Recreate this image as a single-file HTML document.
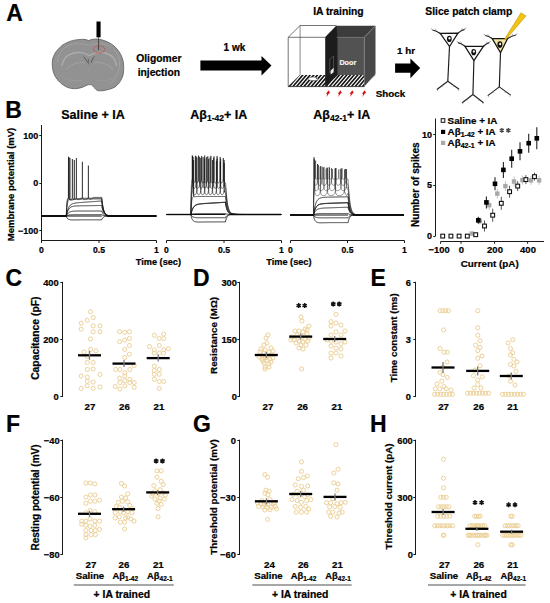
<!DOCTYPE html>
<html><head><meta charset="utf-8"><style>
html,body{margin:0;padding:0;background:#fff;}
svg{display:block;}
text{font-family:"Liberation Sans", sans-serif;}
</style></head><body>
<svg width="550" height="603" viewBox="0 0 550 603">
<rect width="550" height="603" fill="#fff"/>
<text x="6.20" y="21.30" font-size="23" font-weight="bold" text-anchor="start" fill="#000" stroke="#000" stroke-width="0.22">A</text>
<text x="5.20" y="118.20" font-size="23" font-weight="bold" text-anchor="start" fill="#000" stroke="#000" stroke-width="0.22">B</text>
<text x="5.60" y="286.00" font-size="23" font-weight="bold" text-anchor="start" fill="#000" stroke="#000" stroke-width="0.22">C</text>
<text x="193.00" y="286.00" font-size="23" font-weight="bold" text-anchor="start" fill="#000" stroke="#000" stroke-width="0.22">D</text>
<text x="370.40" y="286.00" font-size="23" font-weight="bold" text-anchor="start" fill="#000" stroke="#000" stroke-width="0.22">E</text>
<text x="5.90" y="431.70" font-size="23" font-weight="bold" text-anchor="start" fill="#000" stroke="#000" stroke-width="0.22">F</text>
<text x="193.00" y="431.70" font-size="23" font-weight="bold" text-anchor="start" fill="#000" stroke="#000" stroke-width="0.22">G</text>
<text x="370.10" y="431.70" font-size="23" font-weight="bold" text-anchor="start" fill="#000" stroke="#000" stroke-width="0.22">H</text>
<path d="M88.7,40.6 C86,39.4 84,39.2 81.5,39.4 C76,39.6 71,40.6 66.9,42.7 C63.5,44.2 61.3,45.8 59.6,47.8 C57,50.3 55.5,52.3 54.5,54.4 C52.8,57.5 52.3,60 52.3,63.1 C52.3,67 52.6,70 53.8,73.3 C55.3,77 57.3,79.8 59.6,82 C62,84.3 64.2,85.8 66.9,87.1 C70,88.5 73.5,88.9 77.1,88.5 C80,88.2 82.4,87.3 84.4,86.4 C86.5,85.5 88.4,84.3 90.2,84.3 C92,84.5 93,86.6 94.5,87.8 C95.7,89.2 96.8,90.6 98.2,90.7 C101,91 103.5,90.8 106.2,90 C109.5,89.3 112.4,88.5 114.9,87.1 C117.4,85.3 119.3,83 120.7,80.5 C122.6,77.4 123.5,74 123.6,70.4 C123.8,66.8 123.7,63.4 122.9,60.2 C121.8,56.2 120.2,53 117.8,50 C115.3,46.8 112.4,44.4 109.1,42.7 C105,40.6 100.5,39.1 96,39.1 C93.2,39.2 90.7,39.6 88.7,40.6 Z" fill="#929292" stroke="#666" stroke-width="0.9"/>
<path d="M57.5,62 C57.5,54 63,47.5 70,45 C76,43 83,43.5 88.5,45.5 C94,43.5 101,43 108,45 C115,48 119.5,55 119.5,63 C119.5,72 116,80 109,84" fill="none" stroke="#a3a3a3" stroke-width="0.9" opacity="0.9"/>
<path d="M62,66 C63,58 69,53.5 77,52.5 C82,52 86,53.5 89.2,55.8 C92.5,53.5 97,52 102,52.5 C110,53.5 115.5,58 116.5,66" fill="none" stroke="#b0b0b0" stroke-width="1.4" opacity="0.85"/>
<path d="M66,70 C70,64 78,61.5 85,63 M113,70 C109,64 101,61.5 94,63" fill="none" stroke="#a5a5a5" stroke-width="1.0" opacity="0.8"/>
<path d="M60,75 C66,80 74,82 82,80 M118,75 C112,80 104,82 97,80" fill="none" stroke="#9d9d9d" stroke-width="0.9" opacity="0.8"/>
<path d="M83.5,56.5 C85,58 86.5,60 87.5,62.5 M94.5,56.5 C93,58 92,60 91.2,62.5" fill="none" stroke="#4e4e4e" stroke-width="0.9"/>
<path d="M88.6,59 L88.6,64.5" fill="none" stroke="#5a5a5a" stroke-width="0.8"/>
<path d="M89.3,60 L89.3,86" fill="none" stroke="#9a9a9a" stroke-width="0.7" opacity="0.7"/>
<rect x="96.50" y="21.50" width="4.10" height="15.80" fill="#000" stroke="none" stroke-width="1"/>
<line x1="98.60" y1="37.00" x2="98.60" y2="50.20" stroke="#222" stroke-width="0.7"/>
<ellipse cx="99.3" cy="49.4" rx="5.6" ry="3.5" fill="none" stroke="#d83c3c" stroke-width="0.9" stroke-dasharray="1.3 0.6"/>
<text x="158.80" y="61.90" font-size="10.3" font-weight="bold" text-anchor="middle" fill="#000" stroke="#000" stroke-width="0.22">Oligomer</text>
<text x="158.80" y="75.50" font-size="10.3" font-weight="bold" text-anchor="middle" fill="#000" stroke="#000" stroke-width="0.22">injection</text>
<text x="234.40" y="50.80" font-size="10" font-weight="bold" text-anchor="middle" fill="#000" stroke="#000" stroke-width="0.22">1 wk</text>
<polygon points="200.40,60.50 261.50,60.50 261.50,55.90 271.50,65.60 261.50,75.50 261.50,70.50 200.40,70.50" fill="#000" stroke="none" stroke-width="1"/>
<text x="338.40" y="14.80" font-size="10.3" font-weight="bold" text-anchor="middle" fill="#000" stroke="#000" stroke-width="0.22">IA training</text>
<polygon points="288.77,86.04 300.10,74.90 300.21,74.90 290.39,86.60 288.30,86.60" fill="#111" stroke="none" stroke-width="1"/>
<polygon points="301.78,74.90 303.87,74.90 294.05,86.60 291.96,86.60" fill="#111" stroke="none" stroke-width="1"/>
<polygon points="305.44,74.90 307.53,74.90 297.71,86.60 295.62,86.60" fill="#111" stroke="none" stroke-width="1"/>
<polygon points="309.10,74.90 311.19,74.90 301.37,86.60 299.28,86.60" fill="#111" stroke="none" stroke-width="1"/>
<polygon points="312.76,74.90 314.85,74.90 305.03,86.60 302.94,86.60" fill="#111" stroke="none" stroke-width="1"/>
<polygon points="316.42,74.90 318.51,74.90 308.69,86.60 306.60,86.60" fill="#111" stroke="none" stroke-width="1"/>
<polygon points="320.08,74.90 322.17,74.90 312.35,86.60 310.26,86.60" fill="#111" stroke="none" stroke-width="1"/>
<polygon points="323.74,74.90 325.83,74.90 316.01,86.60 313.92,86.60" fill="#111" stroke="none" stroke-width="1"/>
<polygon points="327.40,74.90 329.49,74.90 319.67,86.60 317.58,86.60" fill="#111" stroke="none" stroke-width="1"/>
<polygon points="331.06,74.90 333.15,74.90 323.33,86.60 321.24,86.60" fill="#111" stroke="none" stroke-width="1"/>
<polygon points="334.72,74.90 336.81,74.90 326.99,86.60 324.90,86.60" fill="#111" stroke="none" stroke-width="1"/>
<polygon points="338.38,74.90 340.47,74.90 330.65,86.60 328.56,86.60" fill="#111" stroke="none" stroke-width="1"/>
<polygon points="342.04,74.90 344.13,74.90 334.31,86.60 332.22,86.60" fill="#111" stroke="none" stroke-width="1"/>
<polygon points="345.70,74.90 347.79,74.90 337.97,86.60 335.88,86.60" fill="#111" stroke="none" stroke-width="1"/>
<polygon points="349.36,74.90 351.45,74.90 341.63,86.60 339.54,86.60" fill="#111" stroke="none" stroke-width="1"/>
<polygon points="353.02,74.90 355.11,74.90 345.29,86.60 343.20,86.60" fill="#111" stroke="none" stroke-width="1"/>
<polygon points="356.68,74.90 358.77,74.90 348.95,86.60 346.86,86.60" fill="#111" stroke="none" stroke-width="1"/>
<polygon points="360.34,74.90 362.43,74.90 352.61,86.60 350.52,86.60" fill="#111" stroke="none" stroke-width="1"/>
<polygon points="364.00,74.90 366.09,74.90 356.27,86.60 354.18,86.60" fill="#111" stroke="none" stroke-width="1"/>
<polygon points="367.66,74.90 369.75,74.90 359.93,86.60 357.84,86.60" fill="#111" stroke="none" stroke-width="1"/>
<polygon points="371.32,74.90 373.41,74.90 363.59,86.60 361.50,86.60" fill="#111" stroke="none" stroke-width="1"/>
<polygon points="370.63,80.08 374.98,74.90 375.50,74.90" fill="#111" stroke="none" stroke-width="1"/>
<polygon points="325.20,37.30 336.40,25.80 375.50,25.80 364.30,37.30" fill="#3c3c3c" stroke="none" stroke-width="1"/>
<polygon points="336.40,37.30 364.30,37.30 364.30,74.90 336.40,74.90" fill="#525252" stroke="none" stroke-width="1"/>
<polygon points="364.30,37.30 375.50,25.80 375.50,74.00 364.30,86.60" fill="#484848" stroke="none" stroke-width="1"/>
<polygon points="325.20,37.30 336.40,25.80 337.50,37.30 337.50,75.50 325.20,86.60" fill="#1c1c1c" stroke="none" stroke-width="1"/>
<path d="M329.8,73.5 L329.8,59.2 L333.6,56.0 L333.6,70.5" fill="none" stroke="#6a6a6a" stroke-width="0.6"/>
<polygon points="330.60,74.50 330.60,70.80 333.60,67.80 333.60,72.20" fill="#f0f0f0" stroke="none" stroke-width="1"/>
<line x1="364.30" y1="37.30" x2="364.30" y2="86.60" stroke="#8a8a8a" stroke-width="0.7"/>
<line x1="364.30" y1="37.30" x2="375.50" y2="25.80" stroke="#8a8a8a" stroke-width="0.7"/>
<line x1="336.40" y1="37.30" x2="364.30" y2="37.30" stroke="#6c6c6c" stroke-width="0.6"/>
<polyline points="288.20,86.60 288.20,37.30 325.20,37.30" fill="none" stroke="#3a3a3a" stroke-width="0.7"/>
<polyline points="288.20,37.30 300.10,25.50 336.40,25.50" fill="none" stroke="#3a3a3a" stroke-width="0.7"/>
<line x1="300.10" y1="25.50" x2="300.10" y2="74.90" stroke="#3a3a3a" stroke-width="0.6"/>
<line x1="288.20" y1="86.60" x2="300.10" y2="74.90" stroke="#3a3a3a" stroke-width="0.6"/>
<line x1="288.20" y1="86.60" x2="364.50" y2="86.60" stroke="#222" stroke-width="0.8"/>
<ellipse cx="313.2" cy="78.8" rx="5.0" ry="1.9" fill="#fff" stroke="#333" stroke-width="0.5"/>
<circle cx="316.80" cy="78.40" r="0.60" fill="#222" stroke="none" stroke-width="1"/>
<text x="347.80" y="64.90" font-size="7.2" font-weight="bold" text-anchor="middle" fill="#f4f4f4" stroke="#f4f4f4" stroke-width="0.22">Door</text>
<polygon points="328.60,90.20 330.10,93.10 328.90,93.60 326.40,96.90 327.10,94.10 326.00,93.70" fill="#d81818" stroke="none" stroke-width="1"/>
<polygon points="340.40,90.20 341.90,93.10 340.70,93.60 338.20,96.90 338.90,94.10 337.80,93.70" fill="#d81818" stroke="none" stroke-width="1"/>
<polygon points="352.30,90.20 353.80,93.10 352.60,93.60 350.10,96.90 350.80,94.10 349.70,93.70" fill="#d81818" stroke="none" stroke-width="1"/>
<polygon points="364.60,90.20 366.10,93.10 364.90,93.60 362.40,96.90 363.10,94.10 362.00,93.70" fill="#d81818" stroke="none" stroke-width="1"/>
<text x="390.50" y="96.70" font-size="9.8" font-weight="bold" text-anchor="middle" fill="#000" stroke="#000" stroke-width="0.22">Shock</text>
<text x="406.00" y="53.60" font-size="9.8" font-weight="bold" text-anchor="middle" fill="#000" stroke="#000" stroke-width="0.22">1 hr</text>
<polygon points="395.10,63.50 410.40,63.50 410.40,58.50 420.20,68.10 410.40,78.20 410.40,72.70 395.10,72.70" fill="#000" stroke="none" stroke-width="1"/>
<text x="468.80" y="14.50" font-size="10.3" font-weight="bold" text-anchor="middle" fill="#000" stroke="#000" stroke-width="0.22">Slice patch clamp</text>
<path d="M440.20,33.40 Q436.35,30.70 432.50,30.00" fill="none" stroke="#262626" stroke-width="1.2"/>
<polyline points="435.96,30.93 435.56,28.73" fill="none" stroke="#6a6a6a" stroke-width="0.5"/>
<polyline points="432.50,30.00 431.30,28.40" fill="none" stroke="#555" stroke-width="0.6"/>
<path d="M458.00,33.10 Q461.30,30.20 464.60,29.30" fill="none" stroke="#262626" stroke-width="1.2"/>
<polyline points="461.63,30.41 462.03,28.21" fill="none" stroke="#6a6a6a" stroke-width="0.5"/>
<polyline points="464.60,29.30 465.80,27.70" fill="none" stroke="#555" stroke-width="0.6"/>
<polyline points="449.50,46.50 447.80,81.20" fill="none" stroke="#1a1a1a" stroke-width="1.15"/>
<polyline points="447.80,81.20 436.90,89.50" fill="none" stroke="#222" stroke-width="1.15"/>
<polyline points="442.35,85.35 441.95,87.35" fill="none" stroke="#a07070" stroke-width="0.6"/>
<polyline points="436.90,89.50 437.90,91.00" fill="none" stroke="#a07070" stroke-width="0.6"/>
<polyline points="447.80,81.20 459.10,89.20" fill="none" stroke="#222" stroke-width="1.15"/>
<polyline points="453.45,85.20 453.85,87.20" fill="none" stroke="#a07070" stroke-width="0.6"/>
<polyline points="459.10,89.20 458.10,90.70" fill="none" stroke="#a07070" stroke-width="0.6"/>
<polygon points="440.20,33.40 458.00,33.10 449.50,46.50" fill="#fbfbfb" stroke="#141414" stroke-width="1.25"/>
<ellipse cx="449.30" cy="38.90" rx="2.4" ry="3.1" fill="#111"/>
<ellipse cx="449.50" cy="38.20" rx="1.0" ry="1.2" fill="#fff"/>
<path d="M465.00,46.30 Q461.50,43.45 458.00,42.60" fill="none" stroke="#262626" stroke-width="1.2"/>
<polyline points="461.15,43.66 460.75,41.46" fill="none" stroke="#6a6a6a" stroke-width="0.5"/>
<polyline points="458.00,42.60 456.80,41.00" fill="none" stroke="#555" stroke-width="0.6"/>
<path d="M483.40,46.30 Q486.35,43.45 489.30,42.60" fill="none" stroke="#262626" stroke-width="1.2"/>
<polyline points="486.64,43.66 487.04,41.46" fill="none" stroke="#6a6a6a" stroke-width="0.5"/>
<polyline points="489.30,42.60 490.50,41.00" fill="none" stroke="#555" stroke-width="0.6"/>
<polyline points="473.90,60.50 472.90,94.50" fill="none" stroke="#1a1a1a" stroke-width="1.15"/>
<polyline points="472.90,94.50 462.20,102.70" fill="none" stroke="#222" stroke-width="1.15"/>
<polyline points="467.55,98.60 467.15,100.60" fill="none" stroke="#a07070" stroke-width="0.6"/>
<polyline points="462.20,102.70 463.20,104.20" fill="none" stroke="#a07070" stroke-width="0.6"/>
<polyline points="472.90,94.50 483.50,102.70" fill="none" stroke="#222" stroke-width="1.15"/>
<polyline points="478.20,98.60 478.60,100.60" fill="none" stroke="#a07070" stroke-width="0.6"/>
<polyline points="483.50,102.70 482.50,104.20" fill="none" stroke="#a07070" stroke-width="0.6"/>
<polygon points="465.00,46.30 483.40,46.30 473.90,60.50" fill="#fbfbfb" stroke="#141414" stroke-width="1.25"/>
<ellipse cx="473.70" cy="52.20" rx="2.4" ry="3.1" fill="#111"/>
<ellipse cx="473.90" cy="51.50" rx="1.0" ry="1.2" fill="#fff"/>
<path d="M492.20,38.60 Q488.65,36.05 485.10,35.50" fill="none" stroke="#262626" stroke-width="1.2"/>
<polyline points="488.30,36.30 487.90,34.09" fill="none" stroke="#6a6a6a" stroke-width="0.5"/>
<polyline points="485.10,35.50 483.90,33.90" fill="none" stroke="#555" stroke-width="0.6"/>
<path d="M507.60,38.60 Q511.75,35.80 515.90,35.00" fill="none" stroke="#262626" stroke-width="1.2"/>
<polyline points="512.16,36.02 512.56,33.82" fill="none" stroke="#6a6a6a" stroke-width="0.5"/>
<polyline points="515.90,35.00 517.10,33.40" fill="none" stroke="#555" stroke-width="0.6"/>
<polyline points="500.50,52.80 499.30,86.90" fill="none" stroke="#1a1a1a" stroke-width="1.15"/>
<polyline points="499.30,86.90 487.80,95.60" fill="none" stroke="#222" stroke-width="1.15"/>
<polyline points="493.55,91.25 493.15,93.25" fill="none" stroke="#a07070" stroke-width="0.6"/>
<polyline points="487.80,95.60 488.80,97.10" fill="none" stroke="#a07070" stroke-width="0.6"/>
<polyline points="499.30,86.90 510.70,95.10" fill="none" stroke="#222" stroke-width="1.15"/>
<polyline points="505.00,91.00 505.40,93.00" fill="none" stroke="#a07070" stroke-width="0.6"/>
<polyline points="510.70,95.10 509.70,96.60" fill="none" stroke="#a07070" stroke-width="0.6"/>
<polygon points="492.20,38.60 507.60,38.60 500.50,52.80" fill="#f3e3a0" stroke="#141414" stroke-width="1.25"/>
<ellipse cx="499.90" cy="44.60" rx="2.5" ry="3.3" fill="#111"/>
<ellipse cx="500.10" cy="43.90" rx="1.0" ry="1.2" fill="#fff"/>
<polygon points="504.40,39.30 521.00,12.80 526.00,15.90 505.80,39.70" fill="#f2c312" stroke="#b08800" stroke-width="0.5"/>
<text x="61.20" y="118.90" font-size="12.5" font-weight="bold" text-anchor="start" fill="#000" stroke="#000" stroke-width="0.22">Saline + IA</text>
<text x="190.30" y="118.90" font-size="12.5" font-weight="bold" text-anchor="start" fill="#000" stroke="#000" stroke-width="0.22">Aβ<tspan font-size="8.5" dy="2.2">1-42</tspan><tspan dy="-2.2">+ IA</tspan></text>
<text x="313.30" y="118.90" font-size="12.5" font-weight="bold" text-anchor="start" fill="#000" stroke="#000" stroke-width="0.22">Aβ<tspan font-size="8.5" dy="2.2">42-1</tspan><tspan dy="-2.2">+ IA</tspan></text>
<line x1="41.50" y1="125.00" x2="41.50" y2="242.50" stroke="#1a1a1a" stroke-width="1.0"/>
<line x1="39.30" y1="135.50" x2="41.50" y2="135.50" stroke="#1a1a1a" stroke-width="1.0"/>
<text x="38.20" y="138.50" font-size="9" font-weight="bold" text-anchor="end" fill="#000" stroke="#000" stroke-width="0.22">100</text>
<line x1="39.30" y1="183.50" x2="41.50" y2="183.50" stroke="#1a1a1a" stroke-width="1.0"/>
<text x="38.20" y="186.30" font-size="9" font-weight="bold" text-anchor="end" fill="#000" stroke="#000" stroke-width="0.22">0</text>
<line x1="39.30" y1="230.50" x2="41.50" y2="230.50" stroke="#1a1a1a" stroke-width="1.0"/>
<text x="38.20" y="234.10" font-size="9" font-weight="bold" text-anchor="end" fill="#000" stroke="#000" stroke-width="0.22">−100</text>
<text x="14.40" y="184.50" font-size="9.5" font-weight="bold" text-anchor="middle" fill="#000" stroke="#000" stroke-width="0.22" transform="rotate(-90 14.4 184.5)">Membrane potential (mV)</text>
<line x1="41.50" y1="240.50" x2="156.50" y2="240.50" stroke="#1a1a1a" stroke-width="1.0"/>
<line x1="41.50" y1="240.50" x2="41.50" y2="243.00" stroke="#1a1a1a" stroke-width="1.0"/>
<text x="41.50" y="252.50" font-size="8.6" font-weight="bold" text-anchor="middle" fill="#000" stroke="#000" stroke-width="0.22">0</text>
<line x1="99.00" y1="240.50" x2="99.00" y2="243.00" stroke="#1a1a1a" stroke-width="1.0"/>
<text x="99.00" y="252.50" font-size="8.6" font-weight="bold" text-anchor="middle" fill="#000" stroke="#000" stroke-width="0.22">0.5</text>
<line x1="156.50" y1="240.50" x2="156.50" y2="243.00" stroke="#1a1a1a" stroke-width="1.0"/>
<text x="156.50" y="252.50" font-size="8.6" font-weight="bold" text-anchor="middle" fill="#000" stroke="#000" stroke-width="0.22">1</text>
<line x1="166.50" y1="240.50" x2="281.50" y2="240.50" stroke="#1a1a1a" stroke-width="1.0"/>
<line x1="166.50" y1="240.50" x2="166.50" y2="243.00" stroke="#1a1a1a" stroke-width="1.0"/>
<text x="166.50" y="252.50" font-size="8.6" font-weight="bold" text-anchor="middle" fill="#000" stroke="#000" stroke-width="0.22">0</text>
<line x1="224.00" y1="240.50" x2="224.00" y2="243.00" stroke="#1a1a1a" stroke-width="1.0"/>
<text x="224.00" y="252.50" font-size="8.6" font-weight="bold" text-anchor="middle" fill="#000" stroke="#000" stroke-width="0.22">0.5</text>
<line x1="281.50" y1="240.50" x2="281.50" y2="243.00" stroke="#1a1a1a" stroke-width="1.0"/>
<text x="281.50" y="252.50" font-size="8.6" font-weight="bold" text-anchor="middle" fill="#000" stroke="#000" stroke-width="0.22">1</text>
<line x1="290.50" y1="240.50" x2="404.50" y2="240.50" stroke="#1a1a1a" stroke-width="1.0"/>
<line x1="290.50" y1="240.50" x2="290.50" y2="243.00" stroke="#1a1a1a" stroke-width="1.0"/>
<text x="290.50" y="252.50" font-size="8.6" font-weight="bold" text-anchor="middle" fill="#000" stroke="#000" stroke-width="0.22">0</text>
<line x1="347.50" y1="240.50" x2="347.50" y2="243.00" stroke="#1a1a1a" stroke-width="1.0"/>
<text x="347.50" y="252.50" font-size="8.6" font-weight="bold" text-anchor="middle" fill="#000" stroke="#000" stroke-width="0.22">0.5</text>
<line x1="404.50" y1="240.50" x2="404.50" y2="243.00" stroke="#1a1a1a" stroke-width="1.0"/>
<text x="404.50" y="252.50" font-size="8.6" font-weight="bold" text-anchor="middle" fill="#000" stroke="#000" stroke-width="0.22">1</text>
<text x="158.40" y="265.30" font-size="9.2" font-weight="bold" text-anchor="middle" fill="#000" stroke="#000" stroke-width="0.22">Time (sec)</text>
<text x="288.90" y="265.30" font-size="9.2" font-weight="bold" text-anchor="middle" fill="#000" stroke="#000" stroke-width="0.22">Time (sec)</text>
<polyline points="41.30,216.00 66.30,216.00 66.50,216.65 66.70,217.18 66.90,217.61 67.10,217.96 67.30,218.25 67.50,218.49 67.70,218.70 67.90,218.87 68.10,219.02 68.30,219.15 68.50,219.26 68.70,219.35 68.90,219.43 69.10,219.50 69.30,219.56 69.50,219.62 69.70,219.66 69.90,219.70 70.10,219.74 70.30,219.77 70.50,219.79 70.70,219.82 70.90,219.83 71.10,219.85 71.30,219.87 71.50,219.88 71.70,219.89 71.90,219.90 72.10,219.90 72.30,219.91 72.50,219.91 72.70,219.92 72.90,219.92 73.10,219.92 73.30,219.92 73.50,219.92 73.70,219.92 73.90,219.92 74.10,219.92 74.30,219.92 74.50,219.91 74.70,219.91 74.90,219.91 75.10,219.91 75.30,219.91 75.50,219.90 75.70,219.90 75.90,219.90 76.10,219.89 76.30,219.89 76.50,219.89 76.70,219.89 76.90,219.88 77.10,219.88 77.30,219.88 77.50,219.87 77.70,219.87 77.90,219.87 78.10,219.87 78.30,219.86 78.50,219.86 78.70,219.86 78.90,219.86 79.10,219.85 79.30,219.85 79.50,219.85 79.70,219.85 79.90,219.85 80.10,219.84 80.30,219.84 80.50,219.84 80.70,219.84 80.90,219.84 81.10,219.84 81.30,219.83 81.50,219.83 81.70,219.83 81.90,219.83 82.10,219.83 82.30,219.83 82.50,219.83 82.70,219.82 82.90,219.82 83.10,219.82 83.30,219.82 83.50,219.82 83.70,219.82 83.90,219.82 84.10,219.82 84.30,219.82 84.50,219.82 84.70,219.82 84.90,219.81 85.10,219.81 85.30,219.81 85.50,219.81 85.70,219.81 85.90,219.81 86.10,219.81 86.30,219.81 86.50,219.81 86.70,219.81 86.90,219.81 87.10,219.81 87.30,219.81 87.50,219.81 87.70,219.81 87.90,219.81 88.10,219.81 88.30,219.81 88.50,219.81 88.70,219.81 88.90,219.81 89.10,219.81 89.30,219.80 89.50,219.80 89.70,219.80 89.90,219.80 90.10,219.80 90.30,219.80 90.50,219.80 90.70,219.80 90.90,219.80 91.10,219.80 91.30,219.80 91.50,219.80 91.70,219.80 91.90,219.80 92.10,219.80 92.30,219.80 92.50,219.80 92.70,219.80 92.90,219.80 93.10,219.80 93.30,219.80 93.50,219.80 93.70,219.80 93.90,219.80 94.10,219.80 94.30,219.80 94.50,219.80 94.70,219.80 94.90,219.80 95.10,219.80 95.30,219.80 95.50,219.80 95.70,219.80 95.90,219.80 96.10,219.80 96.30,219.80 96.50,219.80 96.70,219.80 96.90,219.80 97.10,219.80 97.30,219.80 97.50,219.80 97.70,219.80 97.90,219.80 98.10,219.80 98.30,219.80 98.50,219.80 98.70,219.80 98.90,219.80 99.10,219.80 99.30,219.80 99.50,219.80 99.70,219.80 99.90,219.80 100.10,219.80 100.30,219.80 100.50,219.80 100.70,219.80 100.90,219.80 101.10,219.80 101.30,219.80 101.50,219.80 101.70,219.80 101.95,219.26 102.20,218.79 102.45,218.38 102.70,218.03 102.95,217.73 103.20,217.46 103.45,217.24 103.70,217.04 103.95,216.88 104.20,216.73 104.45,216.61 104.70,216.50 104.95,216.41 105.20,216.33 105.45,216.27 105.70,216.21 105.95,216.16 106.20,216.12 106.45,216.08 106.70,216.05 106.95,216.03 107.20,216.01 107.45,215.99 107.70,215.98 107.95,215.96 108.20,215.95 108.45,215.95 108.70,215.94 108.95,215.94 109.20,215.93 109.45,215.93 109.70,215.93 109.95,215.93 110.20,215.92 110.45,215.92 110.70,215.92 110.95,215.93 111.20,215.93 111.45,215.93 111.70,215.93 111.95,215.93 112.20,215.93 112.45,215.93 112.70,215.94 112.95,215.94 113.20,215.94 113.45,215.94 113.70,215.94 113.95,215.95 114.20,215.95 114.45,215.95 114.70,215.95 114.95,215.95 115.20,215.95 115.45,215.96 115.70,215.96 115.95,215.96 116.20,215.96 116.45,215.96 116.70,215.96 116.95,215.96 117.20,215.97 117.45,215.97 117.70,215.97 117.95,215.97 118.20,215.97 118.45,215.97 118.70,215.97 118.95,215.97 119.20,215.98 119.45,215.98 119.70,215.98 119.95,215.98 120.20,215.98 120.45,215.98 120.70,215.98 120.95,215.98 121.20,215.98 121.45,215.98 121.70,215.98 121.95,215.98 122.20,215.99 122.45,215.99 122.70,215.99 122.95,215.99 123.20,215.99 123.45,215.99 123.70,215.99 123.95,215.99 124.20,215.99 124.45,215.99 124.70,215.99 124.95,215.99 125.20,215.99 125.45,215.99 125.70,215.99 125.95,215.99 126.20,215.99 126.45,215.99 126.70,215.99 126.95,215.99 127.20,215.99 127.45,215.99 127.70,215.99 127.95,215.99 128.20,215.99 128.45,215.99 128.70,215.99 128.95,216.00 129.20,216.00 129.45,216.00 129.70,216.00 129.95,216.00 130.20,216.00 130.45,216.00 130.70,216.00 130.95,216.00 131.20,216.00 131.45,216.00 131.70,216.00 131.95,216.00 132.20,216.00 132.45,216.00 132.70,216.00 132.95,216.00 133.20,216.00 133.45,216.00 133.70,216.00 133.95,216.00 134.20,216.00 134.45,216.00 134.70,216.00 134.95,216.00 135.20,216.00 135.45,216.00 135.70,216.00 135.95,216.00 136.20,216.00 136.45,216.00 136.70,216.00 136.95,216.00 137.20,216.00 137.45,216.00 137.70,216.00 137.95,216.00 138.20,216.00 138.45,216.00 138.70,216.00 138.95,216.00 139.20,216.00 139.45,216.00 139.70,216.00 139.95,216.00 140.20,216.00 140.45,216.00 140.70,216.00 140.95,216.00 141.20,216.00 141.45,216.00 141.70,216.00 141.95,216.00 142.20,216.00 142.45,216.00 142.70,216.00 142.95,216.00 143.20,216.00 143.45,216.00 143.70,216.00 143.95,216.00 144.20,216.00 144.45,216.00 144.70,216.00 144.95,216.00 145.20,216.00 145.45,216.00 145.70,216.00 145.95,216.00 146.20,216.00 146.45,216.00 146.70,216.00 146.95,216.00 147.20,216.00 147.45,216.00 147.70,216.00 147.95,216.00 148.20,216.00 148.45,216.00 148.70,216.00 148.95,216.00 149.20,216.00 149.45,216.00 149.70,216.00 149.95,216.00 150.20,216.00 150.45,216.00 150.70,216.00 150.95,216.00 151.20,216.00 151.45,216.00 151.70,216.00 151.95,216.00 152.20,216.00 152.45,216.00 152.70,216.00 152.95,216.00 153.20,216.00 153.45,216.00 153.70,216.00 153.95,216.00 154.20,216.00 154.45,216.00 154.70,216.00 154.95,216.00 155.20,216.00 155.45,216.00 155.70,216.00 155.95,216.00 156.20,216.00 156.00,216.00" fill="none" stroke="#141414" stroke-width="0.85"/>
<polyline points="41.30,216.00 66.30,216.00 66.50,215.88 66.70,215.77 66.90,215.67 67.10,215.57 67.30,215.49 67.50,215.41 67.70,215.34 67.90,215.28 68.10,215.22 68.30,215.16 68.50,215.12 68.70,215.07 68.90,215.03 69.10,214.99 69.30,214.96 69.50,214.93 69.70,214.90 69.90,214.87 70.10,214.85 70.30,214.83 70.50,214.81 70.70,214.79 70.90,214.77 71.10,214.76 71.30,214.74 71.50,214.73 71.70,214.72 71.90,214.71 72.10,214.70 72.30,214.69 72.50,214.68 72.70,214.68 72.90,214.67 73.10,214.66 73.30,214.66 73.50,214.65 73.70,214.65 73.90,214.64 74.10,214.64 74.30,214.64 74.50,214.63 74.70,214.63 74.90,214.63 75.10,214.63 75.30,214.62 75.50,214.62 75.70,214.62 75.90,214.62 76.10,214.62 76.30,214.61 76.50,214.61 76.70,214.61 76.90,214.61 77.10,214.61 77.30,214.61 77.50,214.61 77.70,214.61 77.90,214.61 78.10,214.61 78.30,214.61 78.50,214.61 78.70,214.60 78.90,214.60 79.10,214.60 79.30,214.60 79.50,214.60 79.70,214.60 79.90,214.60 80.10,214.60 80.30,214.60 80.50,214.60 80.70,214.60 80.90,214.60 81.10,214.60 81.30,214.60 81.50,214.60 81.70,214.60 81.90,214.60 82.10,214.60 82.30,214.60 82.50,214.60 82.70,214.60 82.90,214.60 83.10,214.60 83.30,214.60 83.50,214.60 83.70,214.60 83.90,214.60 84.10,214.60 84.30,214.60 84.50,214.60 84.70,214.60 84.90,214.60 85.10,214.60 85.30,214.60 85.50,214.60 85.70,214.60 85.90,214.60 86.10,214.60 86.30,214.60 86.50,214.60 86.70,214.60 86.90,214.60 87.10,214.60 87.30,214.60 87.50,214.60 87.70,214.60 87.90,214.60 88.10,214.60 88.30,214.60 88.50,214.60 88.70,214.60 88.90,214.60 89.10,214.60 89.30,214.60 89.50,214.60 89.70,214.60 89.90,214.60 90.10,214.60 90.30,214.60 90.50,214.60 90.70,214.60 90.90,214.60 91.10,214.60 91.30,214.60 91.50,214.60 91.70,214.60 91.90,214.60 92.10,214.60 92.30,214.60 92.50,214.60 92.70,214.60 92.90,214.60 93.10,214.60 93.30,214.60 93.50,214.60 93.70,214.60 93.90,214.60 94.10,214.60 94.30,214.60 94.50,214.60 94.70,214.60 94.90,214.60 95.10,214.60 95.30,214.60 95.50,214.60 95.70,214.60 95.90,214.60 96.10,214.60 96.30,214.60 96.50,214.60 96.70,214.60 96.90,214.60 97.10,214.60 97.30,214.60 97.50,214.60 97.70,214.60 97.90,214.60 98.10,214.60 98.30,214.60 98.50,214.60 98.70,214.60 98.90,214.60 99.10,214.60 99.30,214.60 99.50,214.60 99.70,214.60 99.90,214.60 100.10,214.60 100.30,214.60 100.50,214.60 100.70,214.60 100.90,214.60 101.10,214.60 101.30,214.60 101.50,214.60 101.70,214.60 101.95,214.78 102.20,214.94 102.45,215.08 102.70,215.20 102.95,215.30 103.20,215.39 103.45,215.47 103.70,215.54 103.95,215.60 104.20,215.65 104.45,215.70 104.70,215.74 104.95,215.77 105.20,215.80 105.45,215.83 105.70,215.85 105.95,215.87 106.20,215.89 106.45,215.90 106.70,215.91 106.95,215.92 107.20,215.93 107.45,215.94 107.70,215.95 107.95,215.96 108.20,215.96 108.45,215.97 108.70,215.97 108.95,215.98 109.20,215.98 109.45,215.98 109.70,215.98 109.95,215.99 110.20,215.99 110.45,215.99 110.70,215.99 110.95,215.99 111.20,215.99 111.45,215.99 111.70,215.99 111.95,216.00 112.20,216.00 112.45,216.00 112.70,216.00 112.95,216.00 113.20,216.00 113.45,216.00 113.70,216.00 113.95,216.00 114.20,216.00 114.45,216.00 114.70,216.00 114.95,216.00 115.20,216.00 115.45,216.00 115.70,216.00 115.95,216.00 116.20,216.00 116.45,216.00 116.70,216.00 116.95,216.00 117.20,216.00 117.45,216.00 117.70,216.00 117.95,216.00 118.20,216.00 118.45,216.00 118.70,216.00 118.95,216.00 119.20,216.00 119.45,216.00 119.70,216.00 119.95,216.00 120.20,216.00 120.45,216.00 120.70,216.00 120.95,216.00 121.20,216.00 121.45,216.00 121.70,216.00 121.95,216.00 122.20,216.00 122.45,216.00 122.70,216.00 122.95,216.00 123.20,216.00 123.45,216.00 123.70,216.00 123.95,216.00 124.20,216.00 124.45,216.00 124.70,216.00 124.95,216.00 125.20,216.00 125.45,216.00 125.70,216.00 125.95,216.00 126.20,216.00 126.45,216.00 126.70,216.00 126.95,216.00 127.20,216.00 127.45,216.00 127.70,216.00 127.95,216.00 128.20,216.00 128.45,216.00 128.70,216.00 128.95,216.00 129.20,216.00 129.45,216.00 129.70,216.00 129.95,216.00 130.20,216.00 130.45,216.00 130.70,216.00 130.95,216.00 131.20,216.00 131.45,216.00 131.70,216.00 131.95,216.00 132.20,216.00 132.45,216.00 132.70,216.00 132.95,216.00 133.20,216.00 133.45,216.00 133.70,216.00 133.95,216.00 134.20,216.00 134.45,216.00 134.70,216.00 134.95,216.00 135.20,216.00 135.45,216.00 135.70,216.00 135.95,216.00 136.20,216.00 136.45,216.00 136.70,216.00 136.95,216.00 137.20,216.00 137.45,216.00 137.70,216.00 137.95,216.00 138.20,216.00 138.45,216.00 138.70,216.00 138.95,216.00 139.20,216.00 139.45,216.00 139.70,216.00 139.95,216.00 140.20,216.00 140.45,216.00 140.70,216.00 140.95,216.00 141.20,216.00 141.45,216.00 141.70,216.00 141.95,216.00 142.20,216.00 142.45,216.00 142.70,216.00 142.95,216.00 143.20,216.00 143.45,216.00 143.70,216.00 143.95,216.00 144.20,216.00 144.45,216.00 144.70,216.00 144.95,216.00 145.20,216.00 145.45,216.00 145.70,216.00 145.95,216.00 146.20,216.00 146.45,216.00 146.70,216.00 146.95,216.00 147.20,216.00 147.45,216.00 147.70,216.00 147.95,216.00 148.20,216.00 148.45,216.00 148.70,216.00 148.95,216.00 149.20,216.00 149.45,216.00 149.70,216.00 149.95,216.00 150.20,216.00 150.45,216.00 150.70,216.00 150.95,216.00 151.20,216.00 151.45,216.00 151.70,216.00 151.95,216.00 152.20,216.00 152.45,216.00 152.70,216.00 152.95,216.00 153.20,216.00 153.45,216.00 153.70,216.00 153.95,216.00 154.20,216.00 154.45,216.00 154.70,216.00 154.95,216.00 155.20,216.00 155.45,216.00 155.70,216.00 155.95,216.00 156.20,216.00 156.00,216.00" fill="none" stroke="#141414" stroke-width="0.85"/>
<polyline points="41.30,216.00 66.30,216.00 66.50,215.57 66.70,215.17 66.90,214.81 67.10,214.48 67.30,214.17 67.50,213.90 67.70,213.65 67.90,213.42 68.10,213.21 68.30,213.01 68.50,212.84 68.70,212.68 68.90,212.53 69.10,212.40 69.30,212.28 69.50,212.17 69.70,212.07 69.90,211.97 70.10,211.89 70.30,211.81 70.50,211.74 70.70,211.68 70.90,211.62 71.10,211.56 71.30,211.52 71.50,211.47 71.70,211.43 71.90,211.39 72.10,211.36 72.30,211.33 72.50,211.30 72.70,211.27 72.90,211.25 73.10,211.23 73.30,211.21 73.50,211.19 73.70,211.17 73.90,211.16 74.10,211.14 74.30,211.13 74.50,211.12 74.70,211.11 74.90,211.10 75.10,211.09 75.30,211.08 75.50,211.08 75.70,211.07 75.90,211.06 76.10,211.06 76.30,211.05 76.50,211.05 76.70,211.04 76.90,211.04 77.10,211.04 77.30,211.03 77.50,211.03 77.70,211.03 77.90,211.03 78.10,211.02 78.30,211.02 78.50,211.02 78.70,211.02 78.90,211.02 79.10,211.01 79.30,211.01 79.50,211.01 79.70,211.01 79.90,211.01 80.10,211.01 80.30,211.01 80.50,211.01 80.70,211.01 80.90,211.01 81.10,211.01 81.30,211.01 81.50,211.00 81.70,211.00 81.90,211.00 82.10,211.00 82.30,211.00 82.50,211.00 82.70,211.00 82.90,211.00 83.10,211.00 83.30,211.00 83.50,211.00 83.70,211.00 83.90,211.00 84.10,211.00 84.30,211.00 84.50,211.00 84.70,211.00 84.90,211.00 85.10,211.00 85.30,211.00 85.50,211.00 85.70,211.00 85.90,211.00 86.10,211.00 86.30,211.00 86.50,211.00 86.70,211.00 86.90,211.00 87.10,211.00 87.30,211.00 87.50,211.00 87.70,211.00 87.90,211.00 88.10,211.00 88.30,211.00 88.50,211.00 88.70,211.00 88.90,211.00 89.10,211.00 89.30,211.00 89.50,211.00 89.70,211.00 89.90,211.00 90.10,211.00 90.30,211.00 90.50,211.00 90.70,211.00 90.90,211.00 91.10,211.00 91.30,211.00 91.50,211.00 91.70,211.00 91.90,211.00 92.10,211.00 92.30,211.00 92.50,211.00 92.70,211.00 92.90,211.00 93.10,211.00 93.30,211.00 93.50,211.00 93.70,211.00 93.90,211.00 94.10,211.00 94.30,211.00 94.50,211.00 94.70,211.00 94.90,211.00 95.10,211.00 95.30,211.00 95.50,211.00 95.70,211.00 95.90,211.00 96.10,211.00 96.30,211.00 96.50,211.00 96.70,211.00 96.90,211.00 97.10,211.00 97.30,211.00 97.50,211.00 97.70,211.00 97.90,211.00 98.10,211.00 98.30,211.00 98.50,211.00 98.70,211.00 98.90,211.00 99.10,211.00 99.30,211.00 99.50,211.00 99.70,211.00 99.90,211.00 100.10,211.00 100.30,211.00 100.50,211.00 100.70,211.00 100.90,211.00 101.10,211.00 101.30,211.00 101.50,211.00 101.70,211.00 101.95,211.65 102.20,212.21 102.45,212.70 102.70,213.13 102.95,213.50 103.20,213.83 103.45,214.11 103.70,214.35 103.95,214.57 104.20,214.75 104.45,214.91 104.70,215.06 104.95,215.18 105.20,215.28 105.45,215.38 105.70,215.46 105.95,215.53 106.20,215.59 106.45,215.64 106.70,215.69 106.95,215.73 107.20,215.76 107.45,215.80 107.70,215.82 107.95,215.84 108.20,215.86 108.45,215.88 108.70,215.90 108.95,215.91 109.20,215.92 109.45,215.93 109.70,215.94 109.95,215.95 110.20,215.96 110.45,215.96 110.70,215.97 110.95,215.97 111.20,215.97 111.45,215.98 111.70,215.98 111.95,215.98 112.20,215.99 112.45,215.99 112.70,215.99 112.95,215.99 113.20,215.99 113.45,215.99 113.70,215.99 113.95,215.99 114.20,216.00 114.45,216.00 114.70,216.00 114.95,216.00 115.20,216.00 115.45,216.00 115.70,216.00 115.95,216.00 116.20,216.00 116.45,216.00 116.70,216.00 116.95,216.00 117.20,216.00 117.45,216.00 117.70,216.00 117.95,216.00 118.20,216.00 118.45,216.00 118.70,216.00 118.95,216.00 119.20,216.00 119.45,216.00 119.70,216.00 119.95,216.00 120.20,216.00 120.45,216.00 120.70,216.00 120.95,216.00 121.20,216.00 121.45,216.00 121.70,216.00 121.95,216.00 122.20,216.00 122.45,216.00 122.70,216.00 122.95,216.00 123.20,216.00 123.45,216.00 123.70,216.00 123.95,216.00 124.20,216.00 124.45,216.00 124.70,216.00 124.95,216.00 125.20,216.00 125.45,216.00 125.70,216.00 125.95,216.00 126.20,216.00 126.45,216.00 126.70,216.00 126.95,216.00 127.20,216.00 127.45,216.00 127.70,216.00 127.95,216.00 128.20,216.00 128.45,216.00 128.70,216.00 128.95,216.00 129.20,216.00 129.45,216.00 129.70,216.00 129.95,216.00 130.20,216.00 130.45,216.00 130.70,216.00 130.95,216.00 131.20,216.00 131.45,216.00 131.70,216.00 131.95,216.00 132.20,216.00 132.45,216.00 132.70,216.00 132.95,216.00 133.20,216.00 133.45,216.00 133.70,216.00 133.95,216.00 134.20,216.00 134.45,216.00 134.70,216.00 134.95,216.00 135.20,216.00 135.45,216.00 135.70,216.00 135.95,216.00 136.20,216.00 136.45,216.00 136.70,216.00 136.95,216.00 137.20,216.00 137.45,216.00 137.70,216.00 137.95,216.00 138.20,216.00 138.45,216.00 138.70,216.00 138.95,216.00 139.20,216.00 139.45,216.00 139.70,216.00 139.95,216.00 140.20,216.00 140.45,216.00 140.70,216.00 140.95,216.00 141.20,216.00 141.45,216.00 141.70,216.00 141.95,216.00 142.20,216.00 142.45,216.00 142.70,216.00 142.95,216.00 143.20,216.00 143.45,216.00 143.70,216.00 143.95,216.00 144.20,216.00 144.45,216.00 144.70,216.00 144.95,216.00 145.20,216.00 145.45,216.00 145.70,216.00 145.95,216.00 146.20,216.00 146.45,216.00 146.70,216.00 146.95,216.00 147.20,216.00 147.45,216.00 147.70,216.00 147.95,216.00 148.20,216.00 148.45,216.00 148.70,216.00 148.95,216.00 149.20,216.00 149.45,216.00 149.70,216.00 149.95,216.00 150.20,216.00 150.45,216.00 150.70,216.00 150.95,216.00 151.20,216.00 151.45,216.00 151.70,216.00 151.95,216.00 152.20,216.00 152.45,216.00 152.70,216.00 152.95,216.00 153.20,216.00 153.45,216.00 153.70,216.00 153.95,216.00 154.20,216.00 154.45,216.00 154.70,216.00 154.95,216.00 155.20,216.00 155.45,216.00 155.70,216.00 155.95,216.00 156.20,216.00 156.00,216.00" fill="none" stroke="#141414" stroke-width="0.85"/>
<polyline points="41.30,216.00 66.30,216.00 66.50,215.13 66.70,214.33 66.90,213.60 67.10,212.94 67.30,212.33 67.50,211.78 67.70,211.27 67.90,210.81 68.10,210.39 68.30,210.00 68.50,209.65 68.70,209.33 68.90,209.03 69.10,208.76 69.30,208.51 69.50,208.29 69.70,208.08 69.90,207.90 70.10,207.72 70.30,207.57 70.50,207.42 70.70,207.29 70.90,207.17 71.10,207.06 71.30,206.96 71.50,206.87 71.70,206.78 71.90,206.71 72.10,206.63 72.30,206.57 72.50,206.51 72.70,206.45 72.90,206.40 73.10,206.36 73.30,206.32 73.50,206.28 73.70,206.24 73.90,206.21 74.10,206.18 74.30,206.15 74.50,206.12 74.70,206.10 74.90,206.08 75.10,206.06 75.30,206.04 75.50,206.02 75.70,206.01 75.90,205.99 76.10,205.98 76.30,205.96 76.50,205.95 76.70,205.94 76.90,205.93 77.10,205.92 77.30,205.91 77.50,205.90 77.70,205.90 77.90,205.89 78.10,205.88 78.30,205.87 78.50,205.87 78.70,205.86 78.90,205.85 79.10,205.85 79.30,205.84 79.50,205.84 79.70,205.83 79.90,205.83 80.10,205.82 80.30,205.82 80.50,205.82 80.70,205.81 80.90,205.81 81.10,205.80 81.30,205.80 81.50,205.80 81.70,205.79 81.90,205.79 82.10,205.78 82.30,205.78 82.50,205.78 82.70,205.77 82.90,205.77 83.10,205.77 83.30,205.76 83.50,205.76 83.70,205.76 83.90,205.75 84.10,205.75 84.30,205.75 84.50,205.75 84.70,205.74 84.90,205.74 85.10,205.74 85.30,205.73 85.50,205.73 85.70,205.73 85.90,205.72 86.10,205.72 86.30,205.72 86.50,205.72 86.70,205.71 86.90,205.71 87.10,205.71 87.30,205.70 87.50,205.70 87.70,205.70 87.90,205.70 88.10,205.69 88.30,205.69 88.50,205.69 88.70,205.68 88.90,205.68 89.10,205.68 89.30,205.68 89.50,205.67 89.70,205.67 89.90,205.67 90.10,205.66 90.30,205.66 90.50,205.66 90.70,205.66 90.90,205.65 91.10,205.65 91.30,205.65 91.50,205.64 91.70,205.64 91.90,205.64 92.10,205.64 92.30,205.63 92.50,205.63 92.70,205.63 92.90,205.62 93.10,205.62 93.30,205.62 93.50,205.62 93.70,205.61 93.90,205.61 94.10,205.61 94.30,205.60 94.50,205.60 94.70,205.60 94.90,205.60 95.10,205.59 95.30,205.59 95.50,205.59 95.70,205.58 95.90,205.58 96.10,205.58 96.30,205.58 96.50,205.57 96.70,205.57 96.90,205.57 97.10,205.56 97.30,205.56 97.50,205.56 97.70,205.56 97.90,205.55 98.10,205.55 98.30,205.55 98.50,205.55 98.70,205.54 98.90,205.54 99.10,205.54 99.30,205.53 99.50,205.53 99.70,205.53 99.90,205.53 100.10,205.52 100.30,205.52 100.50,205.52 100.70,205.51 100.90,205.51 101.10,205.51 101.30,205.51 101.50,205.50 101.70,205.50 101.95,206.86 102.20,208.05 102.45,209.08 102.70,209.98 102.95,210.76 103.20,211.44 103.45,212.03 103.70,212.54 103.95,212.99 104.20,213.38 104.45,213.72 104.70,214.02 104.95,214.27 105.20,214.50 105.45,214.69 105.70,214.86 105.95,215.01 106.20,215.14 106.45,215.25 106.70,215.35 106.95,215.43 107.20,215.51 107.45,215.57 107.70,215.63 107.95,215.67 108.20,215.72 108.45,215.75 108.70,215.79 108.95,215.81 109.20,215.84 109.45,215.86 109.70,215.88 109.95,215.89 110.20,215.91 110.45,215.92 110.70,215.93 110.95,215.94 111.20,215.95 111.45,215.95 111.70,215.96 111.95,215.96 112.20,215.97 112.45,215.97 112.70,215.98 112.95,215.98 113.20,215.98 113.45,215.98 113.70,215.99 113.95,215.99 114.20,215.99 114.45,215.99 114.70,215.99 114.95,215.99 115.20,215.99 115.45,215.99 115.70,216.00 115.95,216.00 116.20,216.00 116.45,216.00 116.70,216.00 116.95,216.00 117.20,216.00 117.45,216.00 117.70,216.00 117.95,216.00 118.20,216.00 118.45,216.00 118.70,216.00 118.95,216.00 119.20,216.00 119.45,216.00 119.70,216.00 119.95,216.00 120.20,216.00 120.45,216.00 120.70,216.00 120.95,216.00 121.20,216.00 121.45,216.00 121.70,216.00 121.95,216.00 122.20,216.00 122.45,216.00 122.70,216.00 122.95,216.00 123.20,216.00 123.45,216.00 123.70,216.00 123.95,216.00 124.20,216.00 124.45,216.00 124.70,216.00 124.95,216.00 125.20,216.00 125.45,216.00 125.70,216.00 125.95,216.00 126.20,216.00 126.45,216.00 126.70,216.00 126.95,216.00 127.20,216.00 127.45,216.00 127.70,216.00 127.95,216.00 128.20,216.00 128.45,216.00 128.70,216.00 128.95,216.00 129.20,216.00 129.45,216.00 129.70,216.00 129.95,216.00 130.20,216.00 130.45,216.00 130.70,216.00 130.95,216.00 131.20,216.00 131.45,216.00 131.70,216.00 131.95,216.00 132.20,216.00 132.45,216.00 132.70,216.00 132.95,216.00 133.20,216.00 133.45,216.00 133.70,216.00 133.95,216.00 134.20,216.00 134.45,216.00 134.70,216.00 134.95,216.00 135.20,216.00 135.45,216.00 135.70,216.00 135.95,216.00 136.20,216.00 136.45,216.00 136.70,216.00 136.95,216.00 137.20,216.00 137.45,216.00 137.70,216.00 137.95,216.00 138.20,216.00 138.45,216.00 138.70,216.00 138.95,216.00 139.20,216.00 139.45,216.00 139.70,216.00 139.95,216.00 140.20,216.00 140.45,216.00 140.70,216.00 140.95,216.00 141.20,216.00 141.45,216.00 141.70,216.00 141.95,216.00 142.20,216.00 142.45,216.00 142.70,216.00 142.95,216.00 143.20,216.00 143.45,216.00 143.70,216.00 143.95,216.00 144.20,216.00 144.45,216.00 144.70,216.00 144.95,216.00 145.20,216.00 145.45,216.00 145.70,216.00 145.95,216.00 146.20,216.00 146.45,216.00 146.70,216.00 146.95,216.00 147.20,216.00 147.45,216.00 147.70,216.00 147.95,216.00 148.20,216.00 148.45,216.00 148.70,216.00 148.95,216.00 149.20,216.00 149.45,216.00 149.70,216.00 149.95,216.00 150.20,216.00 150.45,216.00 150.70,216.00 150.95,216.00 151.20,216.00 151.45,216.00 151.70,216.00 151.95,216.00 152.20,216.00 152.45,216.00 152.70,216.00 152.95,216.00 153.20,216.00 153.45,216.00 153.70,216.00 153.95,216.00 154.20,216.00 154.45,216.00 154.70,216.00 154.95,216.00 155.20,216.00 155.45,216.00 155.70,216.00 155.95,216.00 156.20,216.00 156.00,216.00" fill="none" stroke="#141414" stroke-width="0.85"/>
<polyline points="41.30,216.00 66.30,216.00 66.50,214.90 66.70,213.89 66.90,212.97 67.10,212.13 67.30,211.36 67.50,210.66 67.70,210.02 67.90,209.43 68.10,208.89 68.30,208.39 68.50,207.94 68.70,207.53 68.90,207.15 69.10,206.80 69.30,206.48 69.50,206.19 69.70,205.93 69.90,205.68 70.10,205.45 70.30,205.25 70.50,205.06 70.70,204.88 70.90,204.72 71.10,204.57 71.30,204.43 71.50,204.31 71.70,204.19 71.90,204.08 72.10,203.99 72.30,203.89 72.50,203.81 72.70,203.73 72.90,203.66 73.10,203.59 73.30,203.52 73.50,203.47 73.70,203.41 73.90,203.36 74.10,203.31 74.30,203.26 74.50,203.22 74.70,203.18 74.90,203.14 75.10,203.11 75.30,203.07 75.50,203.04 75.70,203.01 75.90,202.98 76.10,202.95 76.30,202.93 76.50,202.90 76.70,202.88 76.90,202.85 77.10,202.83 77.30,202.81 77.50,202.79 77.70,202.77 77.90,202.74 78.10,202.73 78.30,202.71 78.50,202.69 78.70,202.67 78.90,202.65 79.10,202.63 79.30,202.62 79.50,202.60 79.70,202.58 79.90,202.57 80.10,202.55 80.30,202.53 80.50,202.52 80.70,202.50 80.90,202.49 81.10,202.47 81.30,202.45 81.50,202.44 81.70,202.42 81.90,202.41 82.10,202.39 82.30,202.38 82.50,202.36 82.70,202.35 82.90,202.33 83.10,202.32 83.30,202.30 83.50,202.29 83.70,202.28 83.90,202.26 84.10,202.25 84.30,202.23 84.50,202.22 84.70,202.20 84.90,202.19 85.10,202.17 85.30,202.16 85.50,202.15 85.70,202.13 85.90,202.12 86.10,202.10 86.30,202.09 86.50,202.07 86.70,202.06 86.90,202.05 87.10,202.03 87.30,202.02 87.50,202.00 87.70,201.99 87.90,201.98 88.10,201.96 88.30,201.95 88.50,201.93 88.70,201.92 88.90,201.90 89.10,201.89 89.30,201.88 89.50,201.86 89.70,201.85 89.90,201.83 90.10,201.82 90.30,201.81 90.50,201.79 90.70,201.78 90.90,201.76 91.10,201.75 91.30,201.73 91.50,201.72 91.70,201.71 91.90,201.69 92.10,201.68 92.30,201.66 92.50,201.65 92.70,201.64 92.90,201.62 93.10,201.61 93.30,201.59 93.50,201.58 93.70,201.57 93.90,201.55 94.10,201.54 94.30,201.52 94.50,201.51 94.70,201.49 94.90,201.48 95.10,201.47 95.30,201.45 95.50,201.44 95.70,201.42 95.90,201.41 96.10,201.40 96.30,201.38 96.50,201.37 96.70,201.35 96.90,201.34 97.10,201.32 97.30,201.31 97.50,201.30 97.70,201.28 97.90,201.27 98.10,201.25 98.30,201.24 98.50,201.23 98.70,201.21 98.90,201.20 99.10,201.18 99.30,201.17 99.50,201.16 99.70,201.14 99.90,201.13 100.10,201.11 100.30,201.10 100.50,201.08 100.70,201.07 100.90,201.06 101.10,201.04 101.30,201.03 101.50,201.01 101.70,201.00 101.95,202.95 102.20,204.64 102.45,206.11 102.70,207.39 102.95,208.51 103.20,209.48 103.45,210.33 103.70,211.06 103.95,211.70 104.20,212.26 104.45,212.74 104.70,213.17 104.95,213.53 105.20,213.85 105.45,214.13 105.70,214.37 105.95,214.59 106.20,214.77 106.45,214.93 106.70,215.07 106.95,215.19 107.20,215.29 107.45,215.39 107.70,215.46 107.95,215.53 108.20,215.59 108.45,215.65 108.70,215.69 108.95,215.73 109.20,215.77 109.45,215.80 109.70,215.82 109.95,215.85 110.20,215.87 110.45,215.88 110.70,215.90 110.95,215.91 111.20,215.92 111.45,215.93 111.70,215.94 111.95,215.95 112.20,215.96 112.45,215.96 112.70,215.97 112.95,215.97 113.20,215.97 113.45,215.98 113.70,215.98 113.95,215.98 114.20,215.99 114.45,215.99 114.70,215.99 114.95,215.99 115.20,215.99 115.45,215.99 115.70,215.99 115.95,215.99 116.20,216.00 116.45,216.00 116.70,216.00 116.95,216.00 117.20,216.00 117.45,216.00 117.70,216.00 117.95,216.00 118.20,216.00 118.45,216.00 118.70,216.00 118.95,216.00 119.20,216.00 119.45,216.00 119.70,216.00 119.95,216.00 120.20,216.00 120.45,216.00 120.70,216.00 120.95,216.00 121.20,216.00 121.45,216.00 121.70,216.00 121.95,216.00 122.20,216.00 122.45,216.00 122.70,216.00 122.95,216.00 123.20,216.00 123.45,216.00 123.70,216.00 123.95,216.00 124.20,216.00 124.45,216.00 124.70,216.00 124.95,216.00 125.20,216.00 125.45,216.00 125.70,216.00 125.95,216.00 126.20,216.00 126.45,216.00 126.70,216.00 126.95,216.00 127.20,216.00 127.45,216.00 127.70,216.00 127.95,216.00 128.20,216.00 128.45,216.00 128.70,216.00 128.95,216.00 129.20,216.00 129.45,216.00 129.70,216.00 129.95,216.00 130.20,216.00 130.45,216.00 130.70,216.00 130.95,216.00 131.20,216.00 131.45,216.00 131.70,216.00 131.95,216.00 132.20,216.00 132.45,216.00 132.70,216.00 132.95,216.00 133.20,216.00 133.45,216.00 133.70,216.00 133.95,216.00 134.20,216.00 134.45,216.00 134.70,216.00 134.95,216.00 135.20,216.00 135.45,216.00 135.70,216.00 135.95,216.00 136.20,216.00 136.45,216.00 136.70,216.00 136.95,216.00 137.20,216.00 137.45,216.00 137.70,216.00 137.95,216.00 138.20,216.00 138.45,216.00 138.70,216.00 138.95,216.00 139.20,216.00 139.45,216.00 139.70,216.00 139.95,216.00 140.20,216.00 140.45,216.00 140.70,216.00 140.95,216.00 141.20,216.00 141.45,216.00 141.70,216.00 141.95,216.00 142.20,216.00 142.45,216.00 142.70,216.00 142.95,216.00 143.20,216.00 143.45,216.00 143.70,216.00 143.95,216.00 144.20,216.00 144.45,216.00 144.70,216.00 144.95,216.00 145.20,216.00 145.45,216.00 145.70,216.00 145.95,216.00 146.20,216.00 146.45,216.00 146.70,216.00 146.95,216.00 147.20,216.00 147.45,216.00 147.70,216.00 147.95,216.00 148.20,216.00 148.45,216.00 148.70,216.00 148.95,216.00 149.20,216.00 149.45,216.00 149.70,216.00 149.95,216.00 150.20,216.00 150.45,216.00 150.70,216.00 150.95,216.00 151.20,216.00 151.45,216.00 151.70,216.00 151.95,216.00 152.20,216.00 152.45,216.00 152.70,216.00 152.95,216.00 153.20,216.00 153.45,216.00 153.70,216.00 153.95,216.00 154.20,216.00 154.45,216.00 154.70,216.00 154.95,216.00 155.20,216.00 155.45,216.00 155.70,216.00 155.95,216.00 156.20,216.00 156.00,216.00" fill="none" stroke="#141414" stroke-width="0.85"/>
<polyline points="41.30,216.00 66.30,216.00 66.64,206.78 66.98,202.05 67.32,199.62 67.67,198.37 68.01,197.73 68.35,197.40 68.50,156.80 68.65,198.24 68.95,199.10 69.25,199.34 69.55,199.49 69.85,199.58 70.15,199.63 70.45,199.62 70.75,199.56 71.05,199.45 71.35,199.28 71.65,199.03 71.95,198.63 72.25,197.40 72.40,159.00 72.55,198.24 72.86,199.10 73.17,199.34 73.48,199.49 73.78,199.58 74.09,199.63 74.40,199.62 74.71,199.56 75.02,199.45 75.33,199.28 75.63,199.03 75.94,198.63 76.25,197.40 76.40,158.10 76.55,198.24 77.03,199.10 77.50,199.34 77.98,199.49 78.45,199.58 78.93,199.63 79.40,199.62 79.88,199.56 80.35,199.45 80.83,199.28 81.30,199.03 81.78,198.63 82.25,197.40 82.40,161.80 82.55,198.24 83.03,199.10 83.50,199.34 83.98,199.49 84.45,199.58 84.93,199.63 85.40,199.62 85.88,199.56 86.35,199.45 86.83,199.28 87.30,199.03 87.78,198.63 88.25,197.40 88.40,165.60 88.55,198.24 90.19,199.48 91.84,198.55 93.48,197.40 95.12,197.40 96.77,197.40 98.41,197.40 100.06,197.40 101.70,197.40 101.95,199.81 102.20,201.91 102.45,203.74 102.70,205.33 102.95,206.71 103.20,207.92 103.45,208.96 103.70,209.88 103.95,210.67 104.20,211.36 104.45,211.96 104.70,212.49 104.95,212.94 105.20,213.34 105.45,213.68 105.70,213.98 105.95,214.25 106.20,214.47 106.45,214.67 106.70,214.84 106.95,214.99 107.20,215.12 107.45,215.24 107.70,215.34 107.95,215.42 108.20,215.50 108.45,215.56 108.70,215.62 108.95,215.67 109.20,215.71 109.45,215.75 109.70,215.78 109.95,215.81 110.20,215.83 110.45,215.86 110.70,215.87 110.95,215.89 111.20,215.91 111.45,215.92 111.70,215.93 111.95,215.94 112.20,215.95 112.45,215.95 112.70,215.96 112.95,215.96 113.20,215.97 113.45,215.97 113.70,215.98 113.95,215.98 114.20,215.98 114.45,215.98 114.70,215.99 114.95,215.99 115.20,215.99 115.45,215.99 115.70,215.99 115.95,215.99 116.20,215.99 116.45,215.99 116.70,216.00 116.95,216.00 117.20,216.00 117.45,216.00 117.70,216.00 117.95,216.00 118.20,216.00 118.45,216.00 118.70,216.00 118.95,216.00 119.20,216.00 119.45,216.00 119.70,216.00 119.95,216.00 120.20,216.00 120.45,216.00 120.70,216.00 120.95,216.00 121.20,216.00 121.45,216.00 121.70,216.00 121.95,216.00 122.20,216.00 122.45,216.00 122.70,216.00 122.95,216.00 123.20,216.00 123.45,216.00 123.70,216.00 123.95,216.00 124.20,216.00 124.45,216.00 124.70,216.00 124.95,216.00 125.20,216.00 125.45,216.00 125.70,216.00 125.95,216.00 126.20,216.00 126.45,216.00 126.70,216.00 126.95,216.00 127.20,216.00 127.45,216.00 127.70,216.00 127.95,216.00 128.20,216.00 128.45,216.00 128.70,216.00 128.95,216.00 129.20,216.00 129.45,216.00 129.70,216.00 129.95,216.00 130.20,216.00 130.45,216.00 130.70,216.00 130.95,216.00 131.20,216.00 131.45,216.00 131.70,216.00 131.95,216.00 132.20,216.00 132.45,216.00 132.70,216.00 132.95,216.00 133.20,216.00 133.45,216.00 133.70,216.00 133.95,216.00 134.20,216.00 134.45,216.00 134.70,216.00 134.95,216.00 135.20,216.00 135.45,216.00 135.70,216.00 135.95,216.00 136.20,216.00 136.45,216.00 136.70,216.00 136.95,216.00 137.20,216.00 137.45,216.00 137.70,216.00 137.95,216.00 138.20,216.00 138.45,216.00 138.70,216.00 138.95,216.00 139.20,216.00 139.45,216.00 139.70,216.00 139.95,216.00 140.20,216.00 140.45,216.00 140.70,216.00 140.95,216.00 141.20,216.00 141.45,216.00 141.70,216.00 141.95,216.00 142.20,216.00 142.45,216.00 142.70,216.00 142.95,216.00 143.20,216.00 143.45,216.00 143.70,216.00 143.95,216.00 144.20,216.00 144.45,216.00 144.70,216.00 144.95,216.00 145.20,216.00 145.45,216.00 145.70,216.00 145.95,216.00 146.20,216.00 146.45,216.00 146.70,216.00 146.95,216.00 147.20,216.00 147.45,216.00 147.70,216.00 147.95,216.00 148.20,216.00 148.45,216.00 148.70,216.00 148.95,216.00 149.20,216.00 149.45,216.00 149.70,216.00 149.95,216.00 150.20,216.00 150.45,216.00 150.70,216.00 150.95,216.00 151.20,216.00 151.45,216.00 151.70,216.00 151.95,216.00 152.20,216.00 152.45,216.00 152.70,216.00 152.95,216.00 153.20,216.00 153.45,216.00 153.70,216.00 153.95,216.00 154.20,216.00 154.45,216.00 154.70,216.00 154.95,216.00 155.20,216.00 155.45,216.00 155.70,216.00 155.95,216.00 156.20,216.00 156.00,216.00" fill="none" stroke="#141414" stroke-width="0.6"/>
<polyline points="41.30,216.00 66.30,216.00 66.71,207.18 67.12,202.65 67.53,200.32 67.93,199.13 68.34,198.51 68.75,198.20 68.90,157.20 69.05,198.97 69.48,199.76 69.90,199.98 70.33,200.12 70.75,200.20 71.17,200.24 71.60,200.23 72.03,200.18 72.45,200.08 72.88,199.92 73.30,199.69 73.72,199.33 74.15,198.20 74.30,160.00 74.45,198.97 77.86,199.09 81.26,198.20 84.67,198.20 88.08,198.20 91.48,198.20 94.89,198.20 98.29,198.20 101.70,198.20 101.95,200.51 102.20,202.52 102.45,204.27 102.70,205.79 102.95,207.11 103.20,208.26 103.45,209.27 103.70,210.14 103.95,210.90 104.20,211.56 104.45,212.14 104.70,212.64 104.95,213.07 105.20,213.45 105.45,213.78 105.70,214.07 105.95,214.32 106.20,214.54 106.45,214.73 106.70,214.89 106.95,215.04 107.20,215.16 107.45,215.27 107.70,215.37 107.95,215.45 108.20,215.52 108.45,215.58 108.70,215.64 108.95,215.68 109.20,215.72 109.45,215.76 109.70,215.79 109.95,215.82 110.20,215.84 110.45,215.86 110.70,215.88 110.95,215.90 111.20,215.91 111.45,215.92 111.70,215.93 111.95,215.94 112.20,215.95 112.45,215.95 112.70,215.96 112.95,215.97 113.20,215.97 113.45,215.97 113.70,215.98 113.95,215.98 114.20,215.98 114.45,215.99 114.70,215.99 114.95,215.99 115.20,215.99 115.45,215.99 115.70,215.99 115.95,215.99 116.20,215.99 116.45,216.00 116.70,216.00 116.95,216.00 117.20,216.00 117.45,216.00 117.70,216.00 117.95,216.00 118.20,216.00 118.45,216.00 118.70,216.00 118.95,216.00 119.20,216.00 119.45,216.00 119.70,216.00 119.95,216.00 120.20,216.00 120.45,216.00 120.70,216.00 120.95,216.00 121.20,216.00 121.45,216.00 121.70,216.00 121.95,216.00 122.20,216.00 122.45,216.00 122.70,216.00 122.95,216.00 123.20,216.00 123.45,216.00 123.70,216.00 123.95,216.00 124.20,216.00 124.45,216.00 124.70,216.00 124.95,216.00 125.20,216.00 125.45,216.00 125.70,216.00 125.95,216.00 126.20,216.00 126.45,216.00 126.70,216.00 126.95,216.00 127.20,216.00 127.45,216.00 127.70,216.00 127.95,216.00 128.20,216.00 128.45,216.00 128.70,216.00 128.95,216.00 129.20,216.00 129.45,216.00 129.70,216.00 129.95,216.00 130.20,216.00 130.45,216.00 130.70,216.00 130.95,216.00 131.20,216.00 131.45,216.00 131.70,216.00 131.95,216.00 132.20,216.00 132.45,216.00 132.70,216.00 132.95,216.00 133.20,216.00 133.45,216.00 133.70,216.00 133.95,216.00 134.20,216.00 134.45,216.00 134.70,216.00 134.95,216.00 135.20,216.00 135.45,216.00 135.70,216.00 135.95,216.00 136.20,216.00 136.45,216.00 136.70,216.00 136.95,216.00 137.20,216.00 137.45,216.00 137.70,216.00 137.95,216.00 138.20,216.00 138.45,216.00 138.70,216.00 138.95,216.00 139.20,216.00 139.45,216.00 139.70,216.00 139.95,216.00 140.20,216.00 140.45,216.00 140.70,216.00 140.95,216.00 141.20,216.00 141.45,216.00 141.70,216.00 141.95,216.00 142.20,216.00 142.45,216.00 142.70,216.00 142.95,216.00 143.20,216.00 143.45,216.00 143.70,216.00 143.95,216.00 144.20,216.00 144.45,216.00 144.70,216.00 144.95,216.00 145.20,216.00 145.45,216.00 145.70,216.00 145.95,216.00 146.20,216.00 146.45,216.00 146.70,216.00 146.95,216.00 147.20,216.00 147.45,216.00 147.70,216.00 147.95,216.00 148.20,216.00 148.45,216.00 148.70,216.00 148.95,216.00 149.20,216.00 149.45,216.00 149.70,216.00 149.95,216.00 150.20,216.00 150.45,216.00 150.70,216.00 150.95,216.00 151.20,216.00 151.45,216.00 151.70,216.00 151.95,216.00 152.20,216.00 152.45,216.00 152.70,216.00 152.95,216.00 153.20,216.00 153.45,216.00 153.70,216.00 153.95,216.00 154.20,216.00 154.45,216.00 154.70,216.00 154.95,216.00 155.20,216.00 155.45,216.00 155.70,216.00 155.95,216.00 156.20,216.00 156.00,216.00" fill="none" stroke="#141414" stroke-width="0.6"/>
<polyline points="41.30,216.00 66.30,216.00 66.88,207.57 67.45,203.25 68.03,201.03 68.60,199.89 69.17,199.30 69.75,199.00 69.90,158.00 70.05,199.63 74.01,199.06 77.96,199.00 81.92,199.00 85.88,199.00 89.83,199.00 93.79,199.00 97.74,199.00 101.70,199.00 101.95,201.20 102.20,203.12 102.45,204.79 102.70,206.25 102.95,207.51 103.20,208.61 103.45,209.57 103.70,210.40 103.95,211.13 104.20,211.76 104.45,212.31 104.70,212.79 104.95,213.21 105.20,213.57 105.45,213.88 105.70,214.16 105.95,214.40 106.20,214.60 106.45,214.79 106.70,214.94 106.95,215.08 107.20,215.20 107.45,215.30 107.70,215.39 107.95,215.47 108.20,215.54 108.45,215.60 108.70,215.65 108.95,215.70 109.20,215.74 109.45,215.77 109.70,215.80 109.95,215.83 110.20,215.85 110.45,215.87 110.70,215.89 110.95,215.90 111.20,215.91 111.45,215.92 111.70,215.93 111.95,215.94 112.20,215.95 112.45,215.96 112.70,215.96 112.95,215.97 113.20,215.97 113.45,215.98 113.70,215.98 113.95,215.98 114.20,215.98 114.45,215.99 114.70,215.99 114.95,215.99 115.20,215.99 115.45,215.99 115.70,215.99 115.95,215.99 116.20,215.99 116.45,216.00 116.70,216.00 116.95,216.00 117.20,216.00 117.45,216.00 117.70,216.00 117.95,216.00 118.20,216.00 118.45,216.00 118.70,216.00 118.95,216.00 119.20,216.00 119.45,216.00 119.70,216.00 119.95,216.00 120.20,216.00 120.45,216.00 120.70,216.00 120.95,216.00 121.20,216.00 121.45,216.00 121.70,216.00 121.95,216.00 122.20,216.00 122.45,216.00 122.70,216.00 122.95,216.00 123.20,216.00 123.45,216.00 123.70,216.00 123.95,216.00 124.20,216.00 124.45,216.00 124.70,216.00 124.95,216.00 125.20,216.00 125.45,216.00 125.70,216.00 125.95,216.00 126.20,216.00 126.45,216.00 126.70,216.00 126.95,216.00 127.20,216.00 127.45,216.00 127.70,216.00 127.95,216.00 128.20,216.00 128.45,216.00 128.70,216.00 128.95,216.00 129.20,216.00 129.45,216.00 129.70,216.00 129.95,216.00 130.20,216.00 130.45,216.00 130.70,216.00 130.95,216.00 131.20,216.00 131.45,216.00 131.70,216.00 131.95,216.00 132.20,216.00 132.45,216.00 132.70,216.00 132.95,216.00 133.20,216.00 133.45,216.00 133.70,216.00 133.95,216.00 134.20,216.00 134.45,216.00 134.70,216.00 134.95,216.00 135.20,216.00 135.45,216.00 135.70,216.00 135.95,216.00 136.20,216.00 136.45,216.00 136.70,216.00 136.95,216.00 137.20,216.00 137.45,216.00 137.70,216.00 137.95,216.00 138.20,216.00 138.45,216.00 138.70,216.00 138.95,216.00 139.20,216.00 139.45,216.00 139.70,216.00 139.95,216.00 140.20,216.00 140.45,216.00 140.70,216.00 140.95,216.00 141.20,216.00 141.45,216.00 141.70,216.00 141.95,216.00 142.20,216.00 142.45,216.00 142.70,216.00 142.95,216.00 143.20,216.00 143.45,216.00 143.70,216.00 143.95,216.00 144.20,216.00 144.45,216.00 144.70,216.00 144.95,216.00 145.20,216.00 145.45,216.00 145.70,216.00 145.95,216.00 146.20,216.00 146.45,216.00 146.70,216.00 146.95,216.00 147.20,216.00 147.45,216.00 147.70,216.00 147.95,216.00 148.20,216.00 148.45,216.00 148.70,216.00 148.95,216.00 149.20,216.00 149.45,216.00 149.70,216.00 149.95,216.00 150.20,216.00 150.45,216.00 150.70,216.00 150.95,216.00 151.20,216.00 151.45,216.00 151.70,216.00 151.95,216.00 152.20,216.00 152.45,216.00 152.70,216.00 152.95,216.00 153.20,216.00 153.45,216.00 153.70,216.00 153.95,216.00 154.20,216.00 154.45,216.00 154.70,216.00 154.95,216.00 155.20,216.00 155.45,216.00 155.70,216.00 155.95,216.00 156.20,216.00 156.00,216.00" fill="none" stroke="#141414" stroke-width="0.6"/>
<line x1="41.30" y1="216.00" x2="66.80" y2="216.00" stroke="#0a0a0a" stroke-width="1.4"/>
<line x1="106.70" y1="216.00" x2="156.00" y2="216.00" stroke="#0a0a0a" stroke-width="1.4"/>
<line x1="66.30" y1="216.00" x2="101.70" y2="216.00" stroke="#111" stroke-width="1.0"/>
<polyline points="166.50,214.50 190.90,214.50 191.10,215.65 191.30,216.60 191.50,217.38 191.70,218.04 191.90,218.58 192.10,219.05 192.30,219.44 192.50,219.78 192.70,220.07 192.90,220.32 193.10,220.54 193.30,220.74 193.50,220.90 193.70,221.05 193.90,221.18 194.10,221.30 194.30,221.40 194.50,221.49 194.70,221.56 194.90,221.63 195.10,221.69 195.30,221.75 195.50,221.79 195.70,221.83 195.90,221.87 196.10,221.90 196.30,221.93 196.50,221.95 196.70,221.97 196.90,221.99 197.10,222.00 197.30,222.01 197.50,222.02 197.70,222.03 197.90,222.04 198.10,222.04 198.30,222.05 198.50,222.05 198.70,222.05 198.90,222.05 199.10,222.05 199.30,222.05 199.50,222.05 199.70,222.05 199.90,222.05 200.10,222.04 200.30,222.04 200.50,222.04 200.70,222.03 200.90,222.03 201.10,222.03 201.30,222.02 201.50,222.02 201.70,222.02 201.90,222.01 202.10,222.01 202.30,222.01 202.50,222.00 202.70,222.00 202.90,222.00 203.10,221.99 203.30,221.99 203.50,221.99 203.70,221.98 203.90,221.98 204.10,221.98 204.30,221.97 204.50,221.97 204.70,221.97 204.90,221.96 205.10,221.96 205.30,221.96 205.50,221.96 205.70,221.95 205.90,221.95 206.10,221.95 206.30,221.95 206.50,221.95 206.70,221.94 206.90,221.94 207.10,221.94 207.30,221.94 207.50,221.94 207.70,221.93 207.90,221.93 208.10,221.93 208.30,221.93 208.50,221.93 208.70,221.93 208.90,221.93 209.10,221.93 209.30,221.92 209.50,221.92 209.70,221.92 209.90,221.92 210.10,221.92 210.30,221.92 210.50,221.92 210.70,221.92 210.90,221.92 211.10,221.92 211.30,221.91 211.50,221.91 211.70,221.91 211.90,221.91 212.10,221.91 212.30,221.91 212.50,221.91 212.70,221.91 212.90,221.91 213.10,221.91 213.30,221.91 213.50,221.91 213.70,221.91 213.90,221.91 214.10,221.91 214.30,221.91 214.50,221.91 214.70,221.91 214.90,221.91 215.10,221.91 215.30,221.91 215.50,221.91 215.70,221.91 215.90,221.90 216.10,221.90 216.30,221.90 216.50,221.90 216.70,221.90 216.90,221.90 217.10,221.90 217.30,221.90 217.50,221.90 217.70,221.90 217.90,221.90 218.10,221.90 218.30,221.90 218.50,221.90 218.70,221.90 218.90,221.90 219.10,221.90 219.30,221.90 219.50,221.90 219.70,221.90 219.90,221.90 220.10,221.90 220.30,221.90 220.50,221.90 220.70,221.90 220.90,221.90 221.10,221.90 221.30,221.90 221.50,221.90 221.70,221.90 221.90,221.90 222.10,221.90 222.30,221.90 222.50,221.90 222.70,221.90 222.90,221.90 223.10,221.90 223.30,221.90 223.50,221.90 223.70,221.90 223.90,221.90 224.10,221.90 224.30,221.90 224.50,221.90 224.70,221.90 224.90,221.90 225.10,221.90 225.30,221.90 225.50,221.90 225.65,220.84 225.90,219.92 226.15,219.13 226.40,218.45 226.65,217.86 226.90,217.35 227.15,216.91 227.40,216.53 227.65,216.21 227.90,215.93 228.15,215.69 228.40,215.48 228.65,215.30 228.90,215.15 229.15,215.02 229.40,214.91 229.65,214.81 229.90,214.73 230.15,214.66 230.40,214.61 230.65,214.56 230.90,214.52 231.15,214.48 231.40,214.45 231.65,214.43 231.90,214.41 232.15,214.40 232.40,214.38 232.65,214.37 232.90,214.37 233.15,214.36 233.40,214.36 233.65,214.35 233.90,214.35 234.15,214.35 234.40,214.35 234.65,214.36 234.90,214.36 235.15,214.36 235.40,214.36 235.65,214.36 235.90,214.37 236.15,214.37 236.40,214.38 236.65,214.38 236.90,214.38 237.15,214.39 237.40,214.39 237.65,214.39 237.90,214.40 238.15,214.40 238.40,214.40 238.65,214.41 238.90,214.41 239.15,214.41 239.40,214.42 239.65,214.42 239.90,214.42 240.15,214.43 240.40,214.43 240.65,214.43 240.90,214.43 241.15,214.44 241.40,214.44 241.65,214.44 241.90,214.44 242.15,214.45 242.40,214.45 242.65,214.45 242.90,214.45 243.15,214.45 243.40,214.46 243.65,214.46 243.90,214.46 244.15,214.46 244.40,214.46 244.65,214.46 244.90,214.47 245.15,214.47 245.40,214.47 245.65,214.47 245.90,214.47 246.15,214.47 246.40,214.47 246.65,214.47 246.90,214.48 247.15,214.48 247.40,214.48 247.65,214.48 247.90,214.48 248.15,214.48 248.40,214.48 248.65,214.48 248.90,214.48 249.15,214.48 249.40,214.48 249.65,214.48 249.90,214.49 250.15,214.49 250.40,214.49 250.65,214.49 250.90,214.49 251.15,214.49 251.40,214.49 251.65,214.49 251.90,214.49 252.15,214.49 252.40,214.49 252.65,214.49 252.90,214.49 253.15,214.49 253.40,214.49 253.65,214.49 253.90,214.49 254.15,214.49 254.40,214.49 254.65,214.49 254.90,214.49 255.15,214.49 255.40,214.49 255.65,214.49 255.90,214.49 256.15,214.49 256.40,214.49 256.65,214.50 256.90,214.50 257.15,214.50 257.40,214.50 257.65,214.50 257.90,214.50 258.15,214.50 258.40,214.50 258.65,214.50 258.90,214.50 259.15,214.50 259.40,214.50 259.65,214.50 259.90,214.50 260.15,214.50 260.40,214.50 260.65,214.50 260.90,214.50 261.15,214.50 261.40,214.50 261.65,214.50 261.90,214.50 262.15,214.50 262.40,214.50 262.65,214.50 262.90,214.50 263.15,214.50 263.40,214.50 263.65,214.50 263.90,214.50 264.15,214.50 264.40,214.50 264.65,214.50 264.90,214.50 265.15,214.50 265.40,214.50 265.65,214.50 265.90,214.50 266.15,214.50 266.40,214.50 266.65,214.50 266.90,214.50 267.15,214.50 267.40,214.50 267.65,214.50 267.90,214.50 268.15,214.50 268.40,214.50 268.65,214.50 268.90,214.50 269.15,214.50 269.40,214.50 269.65,214.50 269.90,214.50 270.15,214.50 270.40,214.50 270.65,214.50 270.90,214.50 271.15,214.50 271.40,214.50 271.65,214.50 271.90,214.50 272.15,214.50 272.40,214.50 272.65,214.50 272.90,214.50 273.15,214.50 273.40,214.50 273.65,214.50 273.90,214.50 274.15,214.50 274.40,214.50 274.65,214.50 274.90,214.50 275.15,214.50 275.40,214.50 275.65,214.50 275.90,214.50 276.15,214.50 276.40,214.50 276.65,214.50 276.90,214.50 277.15,214.50 277.40,214.50 277.65,214.50 277.90,214.50 278.15,214.50 278.40,214.50 278.65,214.50 278.90,214.50 279.15,214.50 279.40,214.50 279.65,214.50 279.90,214.50 280.15,214.50 280.40,214.50 280.65,214.50 280.90,214.50 281.15,214.50 281.00,214.50" fill="none" stroke="#141414" stroke-width="0.85"/>
<polyline points="166.50,214.50 190.90,214.50 191.10,214.94 191.30,215.30 191.50,215.61 191.70,215.88 191.90,216.10 192.10,216.29 192.30,216.46 192.50,216.61 192.70,216.74 192.90,216.85 193.10,216.95 193.30,217.04 193.50,217.12 193.70,217.19 193.90,217.25 194.10,217.30 194.30,217.35 194.50,217.40 194.70,217.44 194.90,217.47 195.10,217.50 195.30,217.53 195.50,217.56 195.70,217.58 195.90,217.60 196.10,217.62 196.30,217.63 196.50,217.65 196.70,217.66 196.90,217.67 197.10,217.68 197.30,217.69 197.50,217.69 197.70,217.70 197.90,217.71 198.10,217.71 198.30,217.72 198.50,217.72 198.70,217.72 198.90,217.72 199.10,217.73 199.30,217.73 199.50,217.73 199.70,217.73 199.90,217.73 200.10,217.73 200.30,217.73 200.50,217.73 200.70,217.73 200.90,217.73 201.10,217.73 201.30,217.73 201.50,217.73 201.70,217.73 201.90,217.73 202.10,217.73 202.30,217.73 202.50,217.73 202.70,217.73 202.90,217.73 203.10,217.73 203.30,217.72 203.50,217.72 203.70,217.72 203.90,217.72 204.10,217.72 204.30,217.72 204.50,217.72 204.70,217.72 204.90,217.72 205.10,217.72 205.30,217.72 205.50,217.72 205.70,217.72 205.90,217.72 206.10,217.71 206.30,217.71 206.50,217.71 206.70,217.71 206.90,217.71 207.10,217.71 207.30,217.71 207.50,217.71 207.70,217.71 207.90,217.71 208.10,217.71 208.30,217.71 208.50,217.71 208.70,217.71 208.90,217.71 209.10,217.71 209.30,217.71 209.50,217.71 209.70,217.71 209.90,217.71 210.10,217.71 210.30,217.71 210.50,217.71 210.70,217.71 210.90,217.71 211.10,217.70 211.30,217.70 211.50,217.70 211.70,217.70 211.90,217.70 212.10,217.70 212.30,217.70 212.50,217.70 212.70,217.70 212.90,217.70 213.10,217.70 213.30,217.70 213.50,217.70 213.70,217.70 213.90,217.70 214.10,217.70 214.30,217.70 214.50,217.70 214.70,217.70 214.90,217.70 215.10,217.70 215.30,217.70 215.50,217.70 215.70,217.70 215.90,217.70 216.10,217.70 216.30,217.70 216.50,217.70 216.70,217.70 216.90,217.70 217.10,217.70 217.30,217.70 217.50,217.70 217.70,217.70 217.90,217.70 218.10,217.70 218.30,217.70 218.50,217.70 218.70,217.70 218.90,217.70 219.10,217.70 219.30,217.70 219.50,217.70 219.70,217.70 219.90,217.70 220.10,217.70 220.30,217.70 220.50,217.70 220.70,217.70 220.90,217.70 221.10,217.70 221.30,217.70 221.50,217.70 221.70,217.70 221.90,217.70 222.10,217.70 222.30,217.70 222.50,217.70 222.70,217.70 222.90,217.70 223.10,217.70 223.30,217.70 223.50,217.70 223.70,217.70 223.90,217.70 224.10,217.70 224.30,217.70 224.50,217.70 224.70,217.70 224.90,217.70 225.10,217.70 225.30,217.70 225.50,217.70 225.65,217.24 225.90,216.85 226.15,216.50 226.40,216.21 226.65,215.95 226.90,215.73 227.15,215.54 227.40,215.38 227.65,215.24 227.90,215.12 228.15,215.01 228.40,214.92 228.65,214.85 228.90,214.78 229.15,214.72 229.40,214.68 229.65,214.64 229.90,214.60 230.15,214.57 230.40,214.55 230.65,214.52 230.90,214.51 231.15,214.49 231.40,214.48 231.65,214.47 231.90,214.46 232.15,214.45 232.40,214.45 232.65,214.45 232.90,214.44 233.15,214.44 233.40,214.44 233.65,214.44 233.90,214.44 234.15,214.44 234.40,214.44 234.65,214.44 234.90,214.44 235.15,214.44 235.40,214.44 235.65,214.44 235.90,214.44 236.15,214.44 236.40,214.45 236.65,214.45 236.90,214.45 237.15,214.45 237.40,214.45 237.65,214.45 237.90,214.46 238.15,214.46 238.40,214.46 238.65,214.46 238.90,214.46 239.15,214.46 239.40,214.46 239.65,214.47 239.90,214.47 240.15,214.47 240.40,214.47 240.65,214.47 240.90,214.47 241.15,214.47 241.40,214.47 241.65,214.47 241.90,214.48 242.15,214.48 242.40,214.48 242.65,214.48 242.90,214.48 243.15,214.48 243.40,214.48 243.65,214.48 243.90,214.48 244.15,214.48 244.40,214.48 244.65,214.48 244.90,214.49 245.15,214.49 245.40,214.49 245.65,214.49 245.90,214.49 246.15,214.49 246.40,214.49 246.65,214.49 246.90,214.49 247.15,214.49 247.40,214.49 247.65,214.49 247.90,214.49 248.15,214.49 248.40,214.49 248.65,214.49 248.90,214.49 249.15,214.49 249.40,214.49 249.65,214.49 249.90,214.49 250.15,214.49 250.40,214.49 250.65,214.49 250.90,214.49 251.15,214.49 251.40,214.49 251.65,214.50 251.90,214.50 252.15,214.50 252.40,214.50 252.65,214.50 252.90,214.50 253.15,214.50 253.40,214.50 253.65,214.50 253.90,214.50 254.15,214.50 254.40,214.50 254.65,214.50 254.90,214.50 255.15,214.50 255.40,214.50 255.65,214.50 255.90,214.50 256.15,214.50 256.40,214.50 256.65,214.50 256.90,214.50 257.15,214.50 257.40,214.50 257.65,214.50 257.90,214.50 258.15,214.50 258.40,214.50 258.65,214.50 258.90,214.50 259.15,214.50 259.40,214.50 259.65,214.50 259.90,214.50 260.15,214.50 260.40,214.50 260.65,214.50 260.90,214.50 261.15,214.50 261.40,214.50 261.65,214.50 261.90,214.50 262.15,214.50 262.40,214.50 262.65,214.50 262.90,214.50 263.15,214.50 263.40,214.50 263.65,214.50 263.90,214.50 264.15,214.50 264.40,214.50 264.65,214.50 264.90,214.50 265.15,214.50 265.40,214.50 265.65,214.50 265.90,214.50 266.15,214.50 266.40,214.50 266.65,214.50 266.90,214.50 267.15,214.50 267.40,214.50 267.65,214.50 267.90,214.50 268.15,214.50 268.40,214.50 268.65,214.50 268.90,214.50 269.15,214.50 269.40,214.50 269.65,214.50 269.90,214.50 270.15,214.50 270.40,214.50 270.65,214.50 270.90,214.50 271.15,214.50 271.40,214.50 271.65,214.50 271.90,214.50 272.15,214.50 272.40,214.50 272.65,214.50 272.90,214.50 273.15,214.50 273.40,214.50 273.65,214.50 273.90,214.50 274.15,214.50 274.40,214.50 274.65,214.50 274.90,214.50 275.15,214.50 275.40,214.50 275.65,214.50 275.90,214.50 276.15,214.50 276.40,214.50 276.65,214.50 276.90,214.50 277.15,214.50 277.40,214.50 277.65,214.50 277.90,214.50 278.15,214.50 278.40,214.50 278.65,214.50 278.90,214.50 279.15,214.50 279.40,214.50 279.65,214.50 279.90,214.50 280.15,214.50 280.40,214.50 280.65,214.50 280.90,214.50 281.15,214.50 281.00,214.50" fill="none" stroke="#141414" stroke-width="0.85"/>
<polyline points="166.50,214.50 190.90,214.50 191.10,214.41 191.30,214.33 191.50,214.26 191.70,214.20 191.90,214.13 192.10,214.08 192.30,214.03 192.50,213.98 192.70,213.94 192.90,213.90 193.10,213.87 193.30,213.84 193.50,213.81 193.70,213.78 193.90,213.76 194.10,213.73 194.30,213.71 194.50,213.69 194.70,213.68 194.90,213.66 195.10,213.65 195.30,213.64 195.50,213.62 195.70,213.61 195.90,213.60 196.10,213.59 196.30,213.59 196.50,213.58 196.70,213.57 196.90,213.57 197.10,213.56 197.30,213.55 197.50,213.55 197.70,213.55 197.90,213.54 198.10,213.54 198.30,213.53 198.50,213.53 198.70,213.53 198.90,213.53 199.10,213.52 199.30,213.52 199.50,213.52 199.70,213.52 199.90,213.52 200.10,213.52 200.30,213.51 200.50,213.51 200.70,213.51 200.90,213.51 201.10,213.51 201.30,213.51 201.50,213.51 201.70,213.51 201.90,213.51 202.10,213.51 202.30,213.51 202.50,213.51 202.70,213.50 202.90,213.50 203.10,213.50 203.30,213.50 203.50,213.50 203.70,213.50 203.90,213.50 204.10,213.50 204.30,213.50 204.50,213.50 204.70,213.50 204.90,213.50 205.10,213.50 205.30,213.50 205.50,213.50 205.70,213.50 205.90,213.50 206.10,213.50 206.30,213.50 206.50,213.50 206.70,213.50 206.90,213.50 207.10,213.50 207.30,213.50 207.50,213.50 207.70,213.50 207.90,213.50 208.10,213.50 208.30,213.50 208.50,213.50 208.70,213.50 208.90,213.50 209.10,213.50 209.30,213.50 209.50,213.50 209.70,213.50 209.90,213.50 210.10,213.50 210.30,213.50 210.50,213.50 210.70,213.50 210.90,213.50 211.10,213.50 211.30,213.50 211.50,213.50 211.70,213.50 211.90,213.50 212.10,213.50 212.30,213.50 212.50,213.50 212.70,213.50 212.90,213.50 213.10,213.50 213.30,213.50 213.50,213.50 213.70,213.50 213.90,213.50 214.10,213.50 214.30,213.50 214.50,213.50 214.70,213.50 214.90,213.50 215.10,213.50 215.30,213.50 215.50,213.50 215.70,213.50 215.90,213.50 216.10,213.50 216.30,213.50 216.50,213.50 216.70,213.50 216.90,213.50 217.10,213.50 217.30,213.50 217.50,213.50 217.70,213.50 217.90,213.50 218.10,213.50 218.30,213.50 218.50,213.50 218.70,213.50 218.90,213.50 219.10,213.50 219.30,213.50 219.50,213.50 219.70,213.50 219.90,213.50 220.10,213.50 220.30,213.50 220.50,213.50 220.70,213.50 220.90,213.50 221.10,213.50 221.30,213.50 221.50,213.50 221.70,213.50 221.90,213.50 222.10,213.50 222.30,213.50 222.50,213.50 222.70,213.50 222.90,213.50 223.10,213.50 223.30,213.50 223.50,213.50 223.70,213.50 223.90,213.50 224.10,213.50 224.30,213.50 224.50,213.50 224.70,213.50 224.90,213.50 225.10,213.50 225.30,213.50 225.50,213.50 225.65,213.63 225.90,213.74 226.15,213.84 226.40,213.93 226.65,214.00 226.90,214.07 227.15,214.12 227.40,214.17 227.65,214.21 227.90,214.25 228.15,214.28 228.40,214.31 228.65,214.34 228.90,214.36 229.15,214.38 229.40,214.39 229.65,214.41 229.90,214.42 230.15,214.43 230.40,214.44 230.65,214.45 230.90,214.45 231.15,214.46 231.40,214.46 231.65,214.47 231.90,214.47 232.15,214.48 232.40,214.48 232.65,214.48 232.90,214.48 233.15,214.49 233.40,214.49 233.65,214.49 233.90,214.49 234.15,214.49 234.40,214.49 234.65,214.49 234.90,214.49 235.15,214.50 235.40,214.50 235.65,214.50 235.90,214.50 236.15,214.50 236.40,214.50 236.65,214.50 236.90,214.50 237.15,214.50 237.40,214.50 237.65,214.50 237.90,214.50 238.15,214.50 238.40,214.50 238.65,214.50 238.90,214.50 239.15,214.50 239.40,214.50 239.65,214.50 239.90,214.50 240.15,214.50 240.40,214.50 240.65,214.50 240.90,214.50 241.15,214.50 241.40,214.50 241.65,214.50 241.90,214.50 242.15,214.50 242.40,214.50 242.65,214.50 242.90,214.50 243.15,214.50 243.40,214.50 243.65,214.50 243.90,214.50 244.15,214.50 244.40,214.50 244.65,214.50 244.90,214.50 245.15,214.50 245.40,214.50 245.65,214.50 245.90,214.50 246.15,214.50 246.40,214.50 246.65,214.50 246.90,214.50 247.15,214.50 247.40,214.50 247.65,214.50 247.90,214.50 248.15,214.50 248.40,214.50 248.65,214.50 248.90,214.50 249.15,214.50 249.40,214.50 249.65,214.50 249.90,214.50 250.15,214.50 250.40,214.50 250.65,214.50 250.90,214.50 251.15,214.50 251.40,214.50 251.65,214.50 251.90,214.50 252.15,214.50 252.40,214.50 252.65,214.50 252.90,214.50 253.15,214.50 253.40,214.50 253.65,214.50 253.90,214.50 254.15,214.50 254.40,214.50 254.65,214.50 254.90,214.50 255.15,214.50 255.40,214.50 255.65,214.50 255.90,214.50 256.15,214.50 256.40,214.50 256.65,214.50 256.90,214.50 257.15,214.50 257.40,214.50 257.65,214.50 257.90,214.50 258.15,214.50 258.40,214.50 258.65,214.50 258.90,214.50 259.15,214.50 259.40,214.50 259.65,214.50 259.90,214.50 260.15,214.50 260.40,214.50 260.65,214.50 260.90,214.50 261.15,214.50 261.40,214.50 261.65,214.50 261.90,214.50 262.15,214.50 262.40,214.50 262.65,214.50 262.90,214.50 263.15,214.50 263.40,214.50 263.65,214.50 263.90,214.50 264.15,214.50 264.40,214.50 264.65,214.50 264.90,214.50 265.15,214.50 265.40,214.50 265.65,214.50 265.90,214.50 266.15,214.50 266.40,214.50 266.65,214.50 266.90,214.50 267.15,214.50 267.40,214.50 267.65,214.50 267.90,214.50 268.15,214.50 268.40,214.50 268.65,214.50 268.90,214.50 269.15,214.50 269.40,214.50 269.65,214.50 269.90,214.50 270.15,214.50 270.40,214.50 270.65,214.50 270.90,214.50 271.15,214.50 271.40,214.50 271.65,214.50 271.90,214.50 272.15,214.50 272.40,214.50 272.65,214.50 272.90,214.50 273.15,214.50 273.40,214.50 273.65,214.50 273.90,214.50 274.15,214.50 274.40,214.50 274.65,214.50 274.90,214.50 275.15,214.50 275.40,214.50 275.65,214.50 275.90,214.50 276.15,214.50 276.40,214.50 276.65,214.50 276.90,214.50 277.15,214.50 277.40,214.50 277.65,214.50 277.90,214.50 278.15,214.50 278.40,214.50 278.65,214.50 278.90,214.50 279.15,214.50 279.40,214.50 279.65,214.50 279.90,214.50 280.15,214.50 280.40,214.50 280.65,214.50 280.90,214.50 281.15,214.50 281.00,214.50" fill="none" stroke="#141414" stroke-width="0.85"/>
<polyline points="166.50,214.50 190.90,214.50 191.10,213.62 191.30,212.81 191.50,212.07 191.70,211.40 191.90,210.78 192.10,210.22 192.30,209.70 192.50,209.23 192.70,208.80 192.90,208.40 193.10,208.04 193.30,207.71 193.50,207.40 193.70,207.12 193.90,206.87 194.10,206.63 194.30,206.42 194.50,206.22 194.70,206.04 194.90,205.87 195.10,205.71 195.30,205.57 195.50,205.44 195.70,205.32 195.90,205.21 196.10,205.11 196.30,205.01 196.50,204.93 196.70,204.85 196.90,204.77 197.10,204.70 197.30,204.64 197.50,204.58 197.70,204.52 197.90,204.47 198.10,204.42 198.30,204.37 198.50,204.33 198.70,204.29 198.90,204.25 199.10,204.22 199.30,204.18 199.50,204.15 199.70,204.12 199.90,204.09 200.10,204.07 200.30,204.04 200.50,204.02 200.70,203.99 200.90,203.97 201.10,203.95 201.30,203.93 201.50,203.90 201.70,203.89 201.90,203.87 202.10,203.85 202.30,203.83 202.50,203.81 202.70,203.79 202.90,203.78 203.10,203.76 203.30,203.74 203.50,203.73 203.70,203.71 203.90,203.70 204.10,203.68 204.30,203.67 204.50,203.65 204.70,203.64 204.90,203.62 205.10,203.61 205.30,203.60 205.50,203.58 205.70,203.57 205.90,203.55 206.10,203.54 206.30,203.53 206.50,203.51 206.70,203.50 206.90,203.49 207.10,203.47 207.30,203.46 207.50,203.45 207.70,203.43 207.90,203.42 208.10,203.41 208.30,203.39 208.50,203.38 208.70,203.37 208.90,203.35 209.10,203.34 209.30,203.33 209.50,203.32 209.70,203.30 209.90,203.29 210.10,203.28 210.30,203.26 210.50,203.25 210.70,203.24 210.90,203.23 211.10,203.21 211.30,203.20 211.50,203.19 211.70,203.17 211.90,203.16 212.10,203.15 212.30,203.14 212.50,203.12 212.70,203.11 212.90,203.10 213.10,203.08 213.30,203.07 213.50,203.06 213.70,203.05 213.90,203.03 214.10,203.02 214.30,203.01 214.50,203.00 214.70,202.98 214.90,202.97 215.10,202.96 215.30,202.94 215.50,202.93 215.70,202.92 215.90,202.91 216.10,202.89 216.30,202.88 216.50,202.87 216.70,202.85 216.90,202.84 217.10,202.83 217.30,202.82 217.50,202.80 217.70,202.79 217.90,202.78 218.10,202.77 218.30,202.75 218.50,202.74 218.70,202.73 218.90,202.71 219.10,202.70 219.30,202.69 219.50,202.68 219.70,202.66 219.90,202.65 220.10,202.64 220.30,202.63 220.50,202.61 220.70,202.60 220.90,202.59 221.10,202.57 221.30,202.56 221.50,202.55 221.70,202.54 221.90,202.52 222.10,202.51 222.30,202.50 222.50,202.48 222.70,202.47 222.90,202.46 223.10,202.45 223.30,202.43 223.50,202.42 223.70,202.41 223.90,202.40 224.10,202.38 224.30,202.37 224.50,202.36 224.70,202.34 224.90,202.33 225.10,202.32 225.30,202.31 225.50,202.30 225.65,203.88 225.90,205.26 226.15,206.46 226.40,207.50 226.65,208.41 226.90,209.20 227.15,209.89 227.40,210.48 227.65,211.00 227.90,211.46 228.15,211.85 228.40,212.20 228.65,212.49 228.90,212.75 229.15,212.98 229.40,213.18 229.65,213.35 229.90,213.50 230.15,213.63 230.40,213.74 230.65,213.84 230.90,213.93 231.15,214.00 231.40,214.06 231.65,214.12 231.90,214.17 232.15,214.21 232.40,214.25 232.65,214.28 232.90,214.31 233.15,214.34 233.40,214.36 233.65,214.38 233.90,214.39 234.15,214.41 234.40,214.42 234.65,214.43 234.90,214.44 235.15,214.45 235.40,214.45 235.65,214.46 235.90,214.46 236.15,214.47 236.40,214.47 236.65,214.48 236.90,214.48 237.15,214.48 237.40,214.48 237.65,214.49 237.90,214.49 238.15,214.49 238.40,214.49 238.65,214.49 238.90,214.49 239.15,214.49 239.40,214.49 239.65,214.50 239.90,214.50 240.15,214.50 240.40,214.50 240.65,214.50 240.90,214.50 241.15,214.50 241.40,214.50 241.65,214.50 241.90,214.50 242.15,214.50 242.40,214.50 242.65,214.50 242.90,214.50 243.15,214.50 243.40,214.50 243.65,214.50 243.90,214.50 244.15,214.50 244.40,214.50 244.65,214.50 244.90,214.50 245.15,214.50 245.40,214.50 245.65,214.50 245.90,214.50 246.15,214.50 246.40,214.50 246.65,214.50 246.90,214.50 247.15,214.50 247.40,214.50 247.65,214.50 247.90,214.50 248.15,214.50 248.40,214.50 248.65,214.50 248.90,214.50 249.15,214.50 249.40,214.50 249.65,214.50 249.90,214.50 250.15,214.50 250.40,214.50 250.65,214.50 250.90,214.50 251.15,214.50 251.40,214.50 251.65,214.50 251.90,214.50 252.15,214.50 252.40,214.50 252.65,214.50 252.90,214.50 253.15,214.50 253.40,214.50 253.65,214.50 253.90,214.50 254.15,214.50 254.40,214.50 254.65,214.50 254.90,214.50 255.15,214.50 255.40,214.50 255.65,214.50 255.90,214.50 256.15,214.50 256.40,214.50 256.65,214.50 256.90,214.50 257.15,214.50 257.40,214.50 257.65,214.50 257.90,214.50 258.15,214.50 258.40,214.50 258.65,214.50 258.90,214.50 259.15,214.50 259.40,214.50 259.65,214.50 259.90,214.50 260.15,214.50 260.40,214.50 260.65,214.50 260.90,214.50 261.15,214.50 261.40,214.50 261.65,214.50 261.90,214.50 262.15,214.50 262.40,214.50 262.65,214.50 262.90,214.50 263.15,214.50 263.40,214.50 263.65,214.50 263.90,214.50 264.15,214.50 264.40,214.50 264.65,214.50 264.90,214.50 265.15,214.50 265.40,214.50 265.65,214.50 265.90,214.50 266.15,214.50 266.40,214.50 266.65,214.50 266.90,214.50 267.15,214.50 267.40,214.50 267.65,214.50 267.90,214.50 268.15,214.50 268.40,214.50 268.65,214.50 268.90,214.50 269.15,214.50 269.40,214.50 269.65,214.50 269.90,214.50 270.15,214.50 270.40,214.50 270.65,214.50 270.90,214.50 271.15,214.50 271.40,214.50 271.65,214.50 271.90,214.50 272.15,214.50 272.40,214.50 272.65,214.50 272.90,214.50 273.15,214.50 273.40,214.50 273.65,214.50 273.90,214.50 274.15,214.50 274.40,214.50 274.65,214.50 274.90,214.50 275.15,214.50 275.40,214.50 275.65,214.50 275.90,214.50 276.15,214.50 276.40,214.50 276.65,214.50 276.90,214.50 277.15,214.50 277.40,214.50 277.65,214.50 277.90,214.50 278.15,214.50 278.40,214.50 278.65,214.50 278.90,214.50 279.15,214.50 279.40,214.50 279.65,214.50 279.90,214.50 280.15,214.50 280.40,214.50 280.65,214.50 280.90,214.50 281.15,214.50 281.00,214.50" fill="none" stroke="#141414" stroke-width="0.85"/>
<polyline points="166.50,214.50 190.90,214.50 191.10,213.59 191.30,212.76 191.50,212.01 191.70,211.31 191.90,210.68 192.10,210.10 192.30,209.57 192.50,209.08 192.70,208.64 192.90,208.23 193.10,207.86 193.30,207.52 193.50,207.21 193.70,206.92 193.90,206.66 194.10,206.42 194.30,206.20 194.50,206.00 194.70,205.81 194.90,205.64 195.10,205.48 195.30,205.34 195.50,205.21 195.70,205.08 195.90,204.97 196.10,204.87 196.30,204.77 196.50,204.68 196.70,204.60 196.90,204.53 197.10,204.46 197.30,204.39 197.50,204.33 197.70,204.27 197.90,204.22 198.10,204.17 198.30,204.13 198.50,204.08 198.70,204.05 198.90,204.01 199.10,203.97 199.30,203.94 199.50,203.91 199.70,203.88 199.90,203.85 200.10,203.82 200.30,203.80 200.50,203.77 200.70,203.75 200.90,203.73 201.10,203.71 201.30,203.69 201.50,203.67 201.70,203.65 201.90,203.63 202.10,203.61 202.30,203.60 202.50,203.58 202.70,203.56 202.90,203.55 203.10,203.53 203.30,203.52 203.50,203.50 203.70,203.49 203.90,203.47 204.10,203.46 204.30,203.45 204.50,203.43 204.70,203.42 204.90,203.41 205.10,203.39 205.30,203.38 205.50,203.37 205.70,203.35 205.90,203.34 206.10,203.33 206.30,203.32 206.50,203.30 206.70,203.29 206.90,203.28 207.10,203.27 207.30,203.26 207.50,203.24 207.70,203.23 207.90,203.22 208.10,203.21 208.30,203.20 208.50,203.18 208.70,203.17 208.90,203.16 209.10,203.15 209.30,203.14 209.50,203.12 209.70,203.11 209.90,203.10 210.10,203.09 210.30,203.08 210.50,203.07 210.70,203.05 210.90,203.04 211.10,203.03 211.30,203.02 211.50,203.01 211.70,203.00 211.90,202.98 212.10,202.97 212.30,202.96 212.50,202.95 212.70,202.94 212.90,202.93 213.10,202.91 213.30,202.90 213.50,202.89 213.70,202.88 213.90,202.87 214.10,202.86 214.30,202.84 214.50,202.83 214.70,202.82 214.90,202.81 215.10,202.80 215.30,202.79 215.50,202.77 215.70,202.76 215.90,202.75 216.10,202.74 216.30,202.73 216.50,202.72 216.70,202.70 216.90,202.69 217.10,202.68 217.30,202.67 217.50,202.66 217.70,202.65 217.90,202.63 218.10,202.62 218.30,202.61 218.50,202.60 218.70,202.59 218.90,202.58 219.10,202.57 219.30,202.55 219.50,202.54 219.70,202.53 219.90,202.52 220.10,202.51 220.30,202.50 220.50,202.48 220.70,202.47 220.90,202.46 221.10,202.45 221.30,202.44 221.50,202.43 221.70,202.41 221.90,202.40 222.10,202.39 222.30,202.38 222.50,202.37 222.70,202.36 222.90,202.34 223.10,202.33 223.30,202.32 223.50,202.31 223.70,202.30 223.90,202.29 224.10,202.28 224.30,202.26 224.50,202.25 224.70,202.24 224.90,202.23 225.10,202.22 225.30,202.21 225.50,202.20 225.65,203.80 225.90,205.18 226.15,206.39 226.40,207.44 226.65,208.36 226.90,209.15 227.15,209.85 227.40,210.45 227.65,210.98 227.90,211.43 228.15,211.83 228.40,212.18 228.65,212.48 228.90,212.74 229.15,212.97 229.40,213.17 229.65,213.34 229.90,213.49 230.15,213.62 230.40,213.74 230.65,213.83 230.90,213.92 231.15,214.00 231.40,214.06 231.65,214.12 231.90,214.17 232.15,214.21 232.40,214.25 232.65,214.28 232.90,214.31 233.15,214.33 233.40,214.36 233.65,214.37 233.90,214.39 234.15,214.40 234.40,214.42 234.65,214.43 234.90,214.44 235.15,214.45 235.40,214.45 235.65,214.46 235.90,214.46 236.15,214.47 236.40,214.47 236.65,214.48 236.90,214.48 237.15,214.48 237.40,214.48 237.65,214.49 237.90,214.49 238.15,214.49 238.40,214.49 238.65,214.49 238.90,214.49 239.15,214.49 239.40,214.49 239.65,214.50 239.90,214.50 240.15,214.50 240.40,214.50 240.65,214.50 240.90,214.50 241.15,214.50 241.40,214.50 241.65,214.50 241.90,214.50 242.15,214.50 242.40,214.50 242.65,214.50 242.90,214.50 243.15,214.50 243.40,214.50 243.65,214.50 243.90,214.50 244.15,214.50 244.40,214.50 244.65,214.50 244.90,214.50 245.15,214.50 245.40,214.50 245.65,214.50 245.90,214.50 246.15,214.50 246.40,214.50 246.65,214.50 246.90,214.50 247.15,214.50 247.40,214.50 247.65,214.50 247.90,214.50 248.15,214.50 248.40,214.50 248.65,214.50 248.90,214.50 249.15,214.50 249.40,214.50 249.65,214.50 249.90,214.50 250.15,214.50 250.40,214.50 250.65,214.50 250.90,214.50 251.15,214.50 251.40,214.50 251.65,214.50 251.90,214.50 252.15,214.50 252.40,214.50 252.65,214.50 252.90,214.50 253.15,214.50 253.40,214.50 253.65,214.50 253.90,214.50 254.15,214.50 254.40,214.50 254.65,214.50 254.90,214.50 255.15,214.50 255.40,214.50 255.65,214.50 255.90,214.50 256.15,214.50 256.40,214.50 256.65,214.50 256.90,214.50 257.15,214.50 257.40,214.50 257.65,214.50 257.90,214.50 258.15,214.50 258.40,214.50 258.65,214.50 258.90,214.50 259.15,214.50 259.40,214.50 259.65,214.50 259.90,214.50 260.15,214.50 260.40,214.50 260.65,214.50 260.90,214.50 261.15,214.50 261.40,214.50 261.65,214.50 261.90,214.50 262.15,214.50 262.40,214.50 262.65,214.50 262.90,214.50 263.15,214.50 263.40,214.50 263.65,214.50 263.90,214.50 264.15,214.50 264.40,214.50 264.65,214.50 264.90,214.50 265.15,214.50 265.40,214.50 265.65,214.50 265.90,214.50 266.15,214.50 266.40,214.50 266.65,214.50 266.90,214.50 267.15,214.50 267.40,214.50 267.65,214.50 267.90,214.50 268.15,214.50 268.40,214.50 268.65,214.50 268.90,214.50 269.15,214.50 269.40,214.50 269.65,214.50 269.90,214.50 270.15,214.50 270.40,214.50 270.65,214.50 270.90,214.50 271.15,214.50 271.40,214.50 271.65,214.50 271.90,214.50 272.15,214.50 272.40,214.50 272.65,214.50 272.90,214.50 273.15,214.50 273.40,214.50 273.65,214.50 273.90,214.50 274.15,214.50 274.40,214.50 274.65,214.50 274.90,214.50 275.15,214.50 275.40,214.50 275.65,214.50 275.90,214.50 276.15,214.50 276.40,214.50 276.65,214.50 276.90,214.50 277.15,214.50 277.40,214.50 277.65,214.50 277.90,214.50 278.15,214.50 278.40,214.50 278.65,214.50 278.90,214.50 279.15,214.50 279.40,214.50 279.65,214.50 279.90,214.50 280.15,214.50 280.40,214.50 280.65,214.50 280.90,214.50 281.15,214.50 281.00,214.50" fill="none" stroke="#141414" stroke-width="0.85"/>
<polyline points="166.50,214.50 190.90,214.50 191.11,196.90 191.32,187.87 191.53,183.23 191.73,180.85 191.94,179.63 192.15,179.00 192.30,155.40 192.45,180.47 192.68,181.98 192.92,182.40 193.15,182.66 193.38,182.82 193.62,182.90 193.85,182.88 194.08,182.79 194.32,182.60 194.55,182.29 194.78,181.84 195.02,181.16 195.25,179.00 195.40,155.80 195.55,180.47 195.78,181.98 196.02,182.40 196.25,182.66 196.48,182.82 196.72,182.90 196.95,182.88 197.18,182.79 197.42,182.60 197.65,182.29 197.88,181.84 198.12,181.16 198.35,179.00 198.50,155.60 198.65,180.47 198.88,181.98 199.12,182.40 199.35,182.66 199.58,182.82 199.82,182.90 200.05,182.88 200.28,182.79 200.52,182.60 200.75,182.29 200.98,181.84 201.22,181.16 201.45,179.00 201.60,156.00 201.75,180.47 201.98,181.98 202.22,182.40 202.45,182.66 202.68,182.82 202.92,182.90 203.15,182.88 203.38,182.79 203.62,182.60 203.85,182.29 204.08,181.84 204.32,181.16 204.55,179.00 204.70,155.50 204.85,180.47 205.08,181.98 205.32,182.40 205.55,182.66 205.78,182.82 206.02,182.90 206.25,182.88 206.48,182.79 206.72,182.60 206.95,182.29 207.18,181.84 207.42,181.16 207.65,179.00 207.80,156.20 207.95,180.47 208.18,181.98 208.42,182.40 208.65,182.66 208.88,182.82 209.12,182.90 209.35,182.88 209.58,182.79 209.82,182.60 210.05,182.29 210.28,181.84 210.52,181.16 210.75,179.00 210.90,155.80 211.05,180.47 211.28,181.98 211.52,182.40 211.75,182.66 211.98,182.82 212.22,182.90 212.45,182.88 212.68,182.79 212.92,182.60 213.15,182.29 213.38,181.84 213.62,181.16 213.85,179.00 214.00,156.40 214.15,180.47 214.38,181.98 214.62,182.40 214.85,182.66 215.08,182.82 215.32,182.90 215.55,182.88 215.78,182.79 216.02,182.60 216.25,182.29 216.48,181.84 216.72,181.16 216.95,179.00 217.10,156.00 217.25,180.47 217.48,181.98 217.72,182.40 217.95,182.66 218.18,182.82 218.42,182.90 218.65,182.88 218.88,182.79 219.12,182.60 219.35,182.29 219.58,181.84 219.82,181.16 220.05,179.00 220.20,157.00 220.35,180.47 220.58,181.98 220.82,182.40 221.05,182.66 221.28,182.82 221.52,182.90 221.75,182.88 221.98,182.79 222.22,182.60 222.45,182.29 222.68,181.84 222.92,181.16 223.15,179.00 223.30,158.00 223.45,180.47 223.69,179.72 223.94,180.41 224.18,181.05 224.43,181.62 224.67,182.09 224.91,182.45 225.16,182.68 225.40,182.78 225.65,183.60 225.90,187.61 226.15,191.10 226.40,194.13 226.65,196.77 226.90,199.07 227.15,201.07 227.40,202.81 227.65,204.33 227.90,205.65 228.15,206.80 228.40,207.79 228.65,208.66 228.90,209.42 229.15,210.08 229.40,210.65 229.65,211.15 229.90,211.59 230.15,211.96 230.40,212.29 230.65,212.58 230.90,212.83 231.15,213.04 231.40,213.23 231.65,213.40 231.90,213.54 232.15,213.67 232.40,213.77 232.65,213.87 232.90,213.95 233.15,214.02 233.40,214.08 233.65,214.14 233.90,214.18 234.15,214.23 234.40,214.26 234.65,214.29 234.90,214.32 235.15,214.34 235.40,214.36 235.65,214.38 235.90,214.40 236.15,214.41 236.40,214.42 236.65,214.43 236.90,214.44 237.15,214.45 237.40,214.45 237.65,214.46 237.90,214.47 238.15,214.47 238.40,214.47 238.65,214.48 238.90,214.48 239.15,214.48 239.40,214.49 239.65,214.49 239.90,214.49 240.15,214.49 240.40,214.49 240.65,214.49 240.90,214.49 241.15,214.49 241.40,214.50 241.65,214.50 241.90,214.50 242.15,214.50 242.40,214.50 242.65,214.50 242.90,214.50 243.15,214.50 243.40,214.50 243.65,214.50 243.90,214.50 244.15,214.50 244.40,214.50 244.65,214.50 244.90,214.50 245.15,214.50 245.40,214.50 245.65,214.50 245.90,214.50 246.15,214.50 246.40,214.50 246.65,214.50 246.90,214.50 247.15,214.50 247.40,214.50 247.65,214.50 247.90,214.50 248.15,214.50 248.40,214.50 248.65,214.50 248.90,214.50 249.15,214.50 249.40,214.50 249.65,214.50 249.90,214.50 250.15,214.50 250.40,214.50 250.65,214.50 250.90,214.50 251.15,214.50 251.40,214.50 251.65,214.50 251.90,214.50 252.15,214.50 252.40,214.50 252.65,214.50 252.90,214.50 253.15,214.50 253.40,214.50 253.65,214.50 253.90,214.50 254.15,214.50 254.40,214.50 254.65,214.50 254.90,214.50 255.15,214.50 255.40,214.50 255.65,214.50 255.90,214.50 256.15,214.50 256.40,214.50 256.65,214.50 256.90,214.50 257.15,214.50 257.40,214.50 257.65,214.50 257.90,214.50 258.15,214.50 258.40,214.50 258.65,214.50 258.90,214.50 259.15,214.50 259.40,214.50 259.65,214.50 259.90,214.50 260.15,214.50 260.40,214.50 260.65,214.50 260.90,214.50 261.15,214.50 261.40,214.50 261.65,214.50 261.90,214.50 262.15,214.50 262.40,214.50 262.65,214.50 262.90,214.50 263.15,214.50 263.40,214.50 263.65,214.50 263.90,214.50 264.15,214.50 264.40,214.50 264.65,214.50 264.90,214.50 265.15,214.50 265.40,214.50 265.65,214.50 265.90,214.50 266.15,214.50 266.40,214.50 266.65,214.50 266.90,214.50 267.15,214.50 267.40,214.50 267.65,214.50 267.90,214.50 268.15,214.50 268.40,214.50 268.65,214.50 268.90,214.50 269.15,214.50 269.40,214.50 269.65,214.50 269.90,214.50 270.15,214.50 270.40,214.50 270.65,214.50 270.90,214.50 271.15,214.50 271.40,214.50 271.65,214.50 271.90,214.50 272.15,214.50 272.40,214.50 272.65,214.50 272.90,214.50 273.15,214.50 273.40,214.50 273.65,214.50 273.90,214.50 274.15,214.50 274.40,214.50 274.65,214.50 274.90,214.50 275.15,214.50 275.40,214.50 275.65,214.50 275.90,214.50 276.15,214.50 276.40,214.50 276.65,214.50 276.90,214.50 277.15,214.50 277.40,214.50 277.65,214.50 277.90,214.50 278.15,214.50 278.40,214.50 278.65,214.50 278.90,214.50 279.15,214.50 279.40,214.50 279.65,214.50 279.90,214.50 280.15,214.50 280.40,214.50 280.65,214.50 280.90,214.50 281.15,214.50 281.00,214.50" fill="none" stroke="#141414" stroke-width="0.6"/>
<polyline points="166.50,214.50 190.90,214.50 191.16,199.63 191.42,192.00 191.68,188.08 191.93,186.06 192.19,185.03 192.45,184.50 192.60,156.00 192.75,185.94 193.02,187.41 193.28,187.82 193.55,188.07 193.82,188.23 194.08,188.30 194.35,188.29 194.62,188.20 194.88,188.01 195.15,187.71 195.42,187.28 195.68,186.61 195.95,184.50 196.10,156.40 196.25,185.94 196.52,187.41 196.78,187.82 197.05,188.07 197.32,188.23 197.58,188.30 197.85,188.29 198.12,188.20 198.38,188.01 198.65,187.71 198.92,187.28 199.18,186.61 199.45,184.50 199.60,156.80 199.75,185.94 200.02,187.41 200.28,187.82 200.55,188.07 200.82,188.23 201.08,188.30 201.35,188.29 201.62,188.20 201.88,188.01 202.15,187.71 202.42,187.28 202.68,186.61 202.95,184.50 203.10,157.00 203.25,185.94 203.52,187.41 203.78,187.82 204.05,188.07 204.32,188.23 204.58,188.30 204.85,188.29 205.12,188.20 205.38,188.01 205.65,187.71 205.92,187.28 206.18,186.61 206.45,184.50 206.60,157.20 206.75,185.94 207.02,187.41 207.28,187.82 207.55,188.07 207.82,188.23 208.08,188.30 208.35,188.29 208.62,188.20 208.88,188.01 209.15,187.71 209.42,187.28 209.68,186.61 209.95,184.50 210.10,157.50 210.25,185.94 210.52,187.41 210.78,187.82 211.05,188.07 211.32,188.23 211.58,188.30 211.85,188.29 212.12,188.20 212.38,188.01 212.65,187.71 212.92,187.28 213.18,186.61 213.45,184.50 213.60,158.00 213.75,185.94 214.02,187.41 214.28,187.82 214.55,188.07 214.82,188.23 215.08,188.30 215.35,188.29 215.62,188.20 215.88,188.01 216.15,187.71 216.42,187.28 216.68,186.61 216.95,184.50 217.10,158.50 217.25,185.94 217.52,187.41 217.78,187.82 218.05,188.07 218.32,188.23 218.58,188.30 218.85,188.29 219.12,188.20 219.38,188.01 219.65,187.71 219.92,187.28 220.18,186.61 220.45,184.50 220.60,159.00 220.75,185.94 221.02,187.41 221.28,187.82 221.55,188.07 221.82,188.23 222.08,188.30 222.35,188.29 222.62,188.20 222.88,188.01 223.15,187.71 223.42,187.28 223.68,186.61 223.95,184.50 224.10,160.00 224.25,185.94 224.39,184.92 224.54,185.33 224.68,185.73 224.82,186.11 224.97,186.47 225.11,186.81 225.26,187.12 225.40,187.40 225.65,188.39 225.90,191.78 226.15,194.72 226.40,197.29 226.65,199.52 226.90,201.46 227.15,203.15 227.40,204.62 227.65,205.90 227.90,207.02 228.15,207.99 228.40,208.83 228.65,209.57 228.90,210.21 229.15,210.76 229.40,211.25 229.65,211.67 229.90,212.04 230.15,212.36 230.40,212.63 230.65,212.88 230.90,213.09 231.15,213.27 231.40,213.43 231.65,213.57 231.90,213.69 232.15,213.79 232.40,213.89 232.65,213.97 232.90,214.03 233.15,214.10 233.40,214.15 233.65,214.19 233.90,214.23 234.15,214.27 234.40,214.30 234.65,214.32 234.90,214.35 235.15,214.37 235.40,214.38 235.65,214.40 235.90,214.41 236.15,214.42 236.40,214.43 236.65,214.44 236.90,214.45 237.15,214.46 237.40,214.46 237.65,214.47 237.90,214.47 238.15,214.47 238.40,214.48 238.65,214.48 238.90,214.48 239.15,214.49 239.40,214.49 239.65,214.49 239.90,214.49 240.15,214.49 240.40,214.49 240.65,214.49 240.90,214.49 241.15,214.50 241.40,214.50 241.65,214.50 241.90,214.50 242.15,214.50 242.40,214.50 242.65,214.50 242.90,214.50 243.15,214.50 243.40,214.50 243.65,214.50 243.90,214.50 244.15,214.50 244.40,214.50 244.65,214.50 244.90,214.50 245.15,214.50 245.40,214.50 245.65,214.50 245.90,214.50 246.15,214.50 246.40,214.50 246.65,214.50 246.90,214.50 247.15,214.50 247.40,214.50 247.65,214.50 247.90,214.50 248.15,214.50 248.40,214.50 248.65,214.50 248.90,214.50 249.15,214.50 249.40,214.50 249.65,214.50 249.90,214.50 250.15,214.50 250.40,214.50 250.65,214.50 250.90,214.50 251.15,214.50 251.40,214.50 251.65,214.50 251.90,214.50 252.15,214.50 252.40,214.50 252.65,214.50 252.90,214.50 253.15,214.50 253.40,214.50 253.65,214.50 253.90,214.50 254.15,214.50 254.40,214.50 254.65,214.50 254.90,214.50 255.15,214.50 255.40,214.50 255.65,214.50 255.90,214.50 256.15,214.50 256.40,214.50 256.65,214.50 256.90,214.50 257.15,214.50 257.40,214.50 257.65,214.50 257.90,214.50 258.15,214.50 258.40,214.50 258.65,214.50 258.90,214.50 259.15,214.50 259.40,214.50 259.65,214.50 259.90,214.50 260.15,214.50 260.40,214.50 260.65,214.50 260.90,214.50 261.15,214.50 261.40,214.50 261.65,214.50 261.90,214.50 262.15,214.50 262.40,214.50 262.65,214.50 262.90,214.50 263.15,214.50 263.40,214.50 263.65,214.50 263.90,214.50 264.15,214.50 264.40,214.50 264.65,214.50 264.90,214.50 265.15,214.50 265.40,214.50 265.65,214.50 265.90,214.50 266.15,214.50 266.40,214.50 266.65,214.50 266.90,214.50 267.15,214.50 267.40,214.50 267.65,214.50 267.90,214.50 268.15,214.50 268.40,214.50 268.65,214.50 268.90,214.50 269.15,214.50 269.40,214.50 269.65,214.50 269.90,214.50 270.15,214.50 270.40,214.50 270.65,214.50 270.90,214.50 271.15,214.50 271.40,214.50 271.65,214.50 271.90,214.50 272.15,214.50 272.40,214.50 272.65,214.50 272.90,214.50 273.15,214.50 273.40,214.50 273.65,214.50 273.90,214.50 274.15,214.50 274.40,214.50 274.65,214.50 274.90,214.50 275.15,214.50 275.40,214.50 275.65,214.50 275.90,214.50 276.15,214.50 276.40,214.50 276.65,214.50 276.90,214.50 277.15,214.50 277.40,214.50 277.65,214.50 277.90,214.50 278.15,214.50 278.40,214.50 278.65,214.50 278.90,214.50 279.15,214.50 279.40,214.50 279.65,214.50 279.90,214.50 280.15,214.50 280.40,214.50 280.65,214.50 280.90,214.50 281.15,214.50 281.00,214.50" fill="none" stroke="#141414" stroke-width="0.6"/>
<polyline points="166.50,214.50 190.90,214.50 191.22,202.60 191.55,196.50 191.88,193.36 192.20,191.75 192.53,190.92 192.85,190.50 193.00,157.00 193.15,192.07 193.45,193.69 193.75,194.14 194.05,194.42 194.35,194.59 194.65,194.67 194.95,194.66 195.25,194.56 195.55,194.35 195.85,194.03 196.15,193.55 196.45,192.82 196.75,190.50 196.90,157.50 197.05,192.07 197.35,193.69 197.65,194.14 197.95,194.42 198.25,194.59 198.55,194.67 198.85,194.66 199.15,194.56 199.45,194.35 199.75,194.03 200.05,193.55 200.35,192.82 200.65,190.50 200.80,158.00 200.95,192.07 201.25,193.69 201.55,194.14 201.85,194.42 202.15,194.59 202.45,194.67 202.75,194.66 203.05,194.56 203.35,194.35 203.65,194.03 203.95,193.55 204.25,192.82 204.55,190.50 204.70,158.50 204.85,192.07 205.15,193.69 205.45,194.14 205.75,194.42 206.05,194.59 206.35,194.67 206.65,194.66 206.95,194.56 207.25,194.35 207.55,194.03 207.85,193.55 208.15,192.82 208.45,190.50 208.60,159.00 208.75,192.07 209.05,193.69 209.35,194.14 209.65,194.42 209.95,194.59 210.25,194.67 210.55,194.66 210.85,194.56 211.15,194.35 211.45,194.03 211.75,193.55 212.05,192.82 212.35,190.50 212.50,160.00 212.65,192.07 212.95,193.69 213.25,194.14 213.55,194.42 213.85,194.59 214.15,194.67 214.45,194.66 214.75,194.56 215.05,194.35 215.35,194.03 215.65,193.55 215.95,192.82 216.25,190.50 216.40,161.00 216.55,192.07 216.85,193.69 217.15,194.14 217.45,194.42 217.75,194.59 218.05,194.67 218.35,194.66 218.65,194.56 218.95,194.35 219.25,194.03 219.55,193.55 219.85,192.82 220.15,190.50 220.30,162.00 220.45,192.07 220.75,193.69 221.05,194.14 221.35,194.42 221.65,194.59 221.95,194.67 222.25,194.66 222.55,194.56 222.85,194.35 223.15,194.03 223.45,193.55 223.75,192.82 224.05,190.50 224.20,163.00 224.35,192.07 224.48,190.92 224.61,191.33 224.74,191.73 224.88,192.12 225.01,192.50 225.14,192.85 225.27,193.18 225.40,193.47 225.65,193.61 225.90,196.32 226.15,198.68 226.40,200.73 226.65,202.52 226.90,204.07 227.15,205.42 227.40,206.60 227.65,207.62 227.90,208.52 228.15,209.29 228.40,209.97 228.65,210.55 228.90,211.07 229.15,211.51 229.40,211.90 229.65,212.24 229.90,212.53 230.15,212.79 230.40,213.01 230.65,213.20 230.90,213.37 231.15,213.52 231.40,213.64 231.65,213.75 231.90,213.85 232.15,213.94 232.40,214.01 232.65,214.07 232.90,214.13 233.15,214.18 233.40,214.22 233.65,214.25 233.90,214.29 234.15,214.31 234.40,214.34 234.65,214.36 234.90,214.38 235.15,214.39 235.40,214.41 235.65,214.42 235.90,214.43 236.15,214.44 236.40,214.45 236.65,214.45 236.90,214.46 237.15,214.46 237.40,214.47 237.65,214.47 237.90,214.48 238.15,214.48 238.40,214.48 238.65,214.48 238.90,214.49 239.15,214.49 239.40,214.49 239.65,214.49 239.90,214.49 240.15,214.49 240.40,214.49 240.65,214.49 240.90,214.50 241.15,214.50 241.40,214.50 241.65,214.50 241.90,214.50 242.15,214.50 242.40,214.50 242.65,214.50 242.90,214.50 243.15,214.50 243.40,214.50 243.65,214.50 243.90,214.50 244.15,214.50 244.40,214.50 244.65,214.50 244.90,214.50 245.15,214.50 245.40,214.50 245.65,214.50 245.90,214.50 246.15,214.50 246.40,214.50 246.65,214.50 246.90,214.50 247.15,214.50 247.40,214.50 247.65,214.50 247.90,214.50 248.15,214.50 248.40,214.50 248.65,214.50 248.90,214.50 249.15,214.50 249.40,214.50 249.65,214.50 249.90,214.50 250.15,214.50 250.40,214.50 250.65,214.50 250.90,214.50 251.15,214.50 251.40,214.50 251.65,214.50 251.90,214.50 252.15,214.50 252.40,214.50 252.65,214.50 252.90,214.50 253.15,214.50 253.40,214.50 253.65,214.50 253.90,214.50 254.15,214.50 254.40,214.50 254.65,214.50 254.90,214.50 255.15,214.50 255.40,214.50 255.65,214.50 255.90,214.50 256.15,214.50 256.40,214.50 256.65,214.50 256.90,214.50 257.15,214.50 257.40,214.50 257.65,214.50 257.90,214.50 258.15,214.50 258.40,214.50 258.65,214.50 258.90,214.50 259.15,214.50 259.40,214.50 259.65,214.50 259.90,214.50 260.15,214.50 260.40,214.50 260.65,214.50 260.90,214.50 261.15,214.50 261.40,214.50 261.65,214.50 261.90,214.50 262.15,214.50 262.40,214.50 262.65,214.50 262.90,214.50 263.15,214.50 263.40,214.50 263.65,214.50 263.90,214.50 264.15,214.50 264.40,214.50 264.65,214.50 264.90,214.50 265.15,214.50 265.40,214.50 265.65,214.50 265.90,214.50 266.15,214.50 266.40,214.50 266.65,214.50 266.90,214.50 267.15,214.50 267.40,214.50 267.65,214.50 267.90,214.50 268.15,214.50 268.40,214.50 268.65,214.50 268.90,214.50 269.15,214.50 269.40,214.50 269.65,214.50 269.90,214.50 270.15,214.50 270.40,214.50 270.65,214.50 270.90,214.50 271.15,214.50 271.40,214.50 271.65,214.50 271.90,214.50 272.15,214.50 272.40,214.50 272.65,214.50 272.90,214.50 273.15,214.50 273.40,214.50 273.65,214.50 273.90,214.50 274.15,214.50 274.40,214.50 274.65,214.50 274.90,214.50 275.15,214.50 275.40,214.50 275.65,214.50 275.90,214.50 276.15,214.50 276.40,214.50 276.65,214.50 276.90,214.50 277.15,214.50 277.40,214.50 277.65,214.50 277.90,214.50 278.15,214.50 278.40,214.50 278.65,214.50 278.90,214.50 279.15,214.50 279.40,214.50 279.65,214.50 279.90,214.50 280.15,214.50 280.40,214.50 280.65,214.50 280.90,214.50 281.15,214.50 281.00,214.50" fill="none" stroke="#141414" stroke-width="0.6"/>
<polyline points="166.50,214.50 190.90,214.50 191.32,205.58 191.75,201.00 192.18,198.65 192.60,197.44 193.02,196.82 193.45,196.50 193.60,160.00 193.75,196.78 197.71,196.52 201.66,196.50 205.62,196.50 209.57,196.50 213.53,196.50 217.49,196.50 221.44,196.50 225.40,196.50 225.65,198.83 225.90,200.87 226.15,202.63 226.40,204.17 226.65,205.51 226.90,206.68 227.15,207.69 227.40,208.57 227.65,209.34 227.90,210.01 228.15,210.59 228.40,211.10 228.65,211.54 228.90,211.92 229.15,212.26 229.40,212.55 229.65,212.80 229.90,213.02 230.15,213.21 230.40,213.38 230.65,213.53 230.90,213.65 231.15,213.76 231.40,213.86 231.65,213.94 231.90,214.01 232.15,214.08 232.40,214.13 232.65,214.18 232.90,214.22 233.15,214.26 233.40,214.29 233.65,214.32 233.90,214.34 234.15,214.36 234.40,214.38 234.65,214.39 234.90,214.41 235.15,214.42 235.40,214.43 235.65,214.44 235.90,214.45 236.15,214.45 236.40,214.46 236.65,214.47 236.90,214.47 237.15,214.47 237.40,214.48 237.65,214.48 237.90,214.48 238.15,214.48 238.40,214.49 238.65,214.49 238.90,214.49 239.15,214.49 239.40,214.49 239.65,214.49 239.90,214.49 240.15,214.50 240.40,214.50 240.65,214.50 240.90,214.50 241.15,214.50 241.40,214.50 241.65,214.50 241.90,214.50 242.15,214.50 242.40,214.50 242.65,214.50 242.90,214.50 243.15,214.50 243.40,214.50 243.65,214.50 243.90,214.50 244.15,214.50 244.40,214.50 244.65,214.50 244.90,214.50 245.15,214.50 245.40,214.50 245.65,214.50 245.90,214.50 246.15,214.50 246.40,214.50 246.65,214.50 246.90,214.50 247.15,214.50 247.40,214.50 247.65,214.50 247.90,214.50 248.15,214.50 248.40,214.50 248.65,214.50 248.90,214.50 249.15,214.50 249.40,214.50 249.65,214.50 249.90,214.50 250.15,214.50 250.40,214.50 250.65,214.50 250.90,214.50 251.15,214.50 251.40,214.50 251.65,214.50 251.90,214.50 252.15,214.50 252.40,214.50 252.65,214.50 252.90,214.50 253.15,214.50 253.40,214.50 253.65,214.50 253.90,214.50 254.15,214.50 254.40,214.50 254.65,214.50 254.90,214.50 255.15,214.50 255.40,214.50 255.65,214.50 255.90,214.50 256.15,214.50 256.40,214.50 256.65,214.50 256.90,214.50 257.15,214.50 257.40,214.50 257.65,214.50 257.90,214.50 258.15,214.50 258.40,214.50 258.65,214.50 258.90,214.50 259.15,214.50 259.40,214.50 259.65,214.50 259.90,214.50 260.15,214.50 260.40,214.50 260.65,214.50 260.90,214.50 261.15,214.50 261.40,214.50 261.65,214.50 261.90,214.50 262.15,214.50 262.40,214.50 262.65,214.50 262.90,214.50 263.15,214.50 263.40,214.50 263.65,214.50 263.90,214.50 264.15,214.50 264.40,214.50 264.65,214.50 264.90,214.50 265.15,214.50 265.40,214.50 265.65,214.50 265.90,214.50 266.15,214.50 266.40,214.50 266.65,214.50 266.90,214.50 267.15,214.50 267.40,214.50 267.65,214.50 267.90,214.50 268.15,214.50 268.40,214.50 268.65,214.50 268.90,214.50 269.15,214.50 269.40,214.50 269.65,214.50 269.90,214.50 270.15,214.50 270.40,214.50 270.65,214.50 270.90,214.50 271.15,214.50 271.40,214.50 271.65,214.50 271.90,214.50 272.15,214.50 272.40,214.50 272.65,214.50 272.90,214.50 273.15,214.50 273.40,214.50 273.65,214.50 273.90,214.50 274.15,214.50 274.40,214.50 274.65,214.50 274.90,214.50 275.15,214.50 275.40,214.50 275.65,214.50 275.90,214.50 276.15,214.50 276.40,214.50 276.65,214.50 276.90,214.50 277.15,214.50 277.40,214.50 277.65,214.50 277.90,214.50 278.15,214.50 278.40,214.50 278.65,214.50 278.90,214.50 279.15,214.50 279.40,214.50 279.65,214.50 279.90,214.50 280.15,214.50 280.40,214.50 280.65,214.50 280.90,214.50 281.15,214.50 281.00,214.50" fill="none" stroke="#141414" stroke-width="0.6"/>
<line x1="166.50" y1="214.50" x2="191.40" y2="214.50" stroke="#0a0a0a" stroke-width="1.4"/>
<line x1="230.40" y1="214.50" x2="281.00" y2="214.50" stroke="#0a0a0a" stroke-width="1.4"/>
<line x1="190.90" y1="214.50" x2="225.40" y2="214.50" stroke="#111" stroke-width="1.0"/>
<polyline points="290.30,215.00 313.50,215.00 313.70,216.24 313.90,217.24 314.10,218.07 314.30,218.76 314.50,219.33 314.70,219.81 314.90,220.22 315.10,220.57 315.30,220.86 315.50,221.12 315.70,221.34 315.90,221.53 316.10,221.70 316.30,221.85 316.50,221.98 316.70,222.09 316.90,222.19 317.10,222.27 317.30,222.35 317.50,222.42 317.70,222.47 317.90,222.52 318.10,222.57 318.30,222.61 318.50,222.64 318.70,222.67 318.90,222.69 319.10,222.71 319.30,222.73 319.50,222.75 319.70,222.76 319.90,222.77 320.10,222.77 320.30,222.78 320.50,222.78 320.70,222.79 320.90,222.79 321.10,222.79 321.30,222.79 321.50,222.79 321.70,222.79 321.90,222.79 322.10,222.78 322.30,222.78 322.50,222.78 322.70,222.77 322.90,222.77 323.10,222.76 323.30,222.76 323.50,222.76 323.70,222.75 323.90,222.75 324.10,222.74 324.30,222.74 324.50,222.73 324.70,222.73 324.90,222.72 325.10,222.72 325.30,222.72 325.50,222.71 325.70,222.71 325.90,222.70 326.10,222.70 326.30,222.69 326.50,222.69 326.70,222.69 326.90,222.68 327.10,222.68 327.30,222.68 327.50,222.67 327.70,222.67 327.90,222.67 328.10,222.66 328.30,222.66 328.50,222.66 328.70,222.66 328.90,222.65 329.10,222.65 329.30,222.65 329.50,222.65 329.70,222.65 329.90,222.64 330.10,222.64 330.30,222.64 330.50,222.64 330.70,222.64 330.90,222.63 331.10,222.63 331.30,222.63 331.50,222.63 331.70,222.63 331.90,222.63 332.10,222.63 332.30,222.62 332.50,222.62 332.70,222.62 332.90,222.62 333.10,222.62 333.30,222.62 333.50,222.62 333.70,222.62 333.90,222.62 334.10,222.62 334.30,222.62 334.50,222.61 334.70,222.61 334.90,222.61 335.10,222.61 335.30,222.61 335.50,222.61 335.70,222.61 335.90,222.61 336.10,222.61 336.30,222.61 336.50,222.61 336.70,222.61 336.90,222.61 337.10,222.61 337.30,222.61 337.50,222.61 337.70,222.61 337.90,222.61 338.10,222.61 338.30,222.61 338.50,222.61 338.70,222.61 338.90,222.60 339.10,222.60 339.30,222.60 339.50,222.60 339.70,222.60 339.90,222.60 340.10,222.60 340.30,222.60 340.50,222.60 340.70,222.60 340.90,222.60 341.10,222.60 341.30,222.60 341.50,222.60 341.70,222.60 341.90,222.60 342.10,222.60 342.30,222.60 342.50,222.60 342.70,222.60 342.90,222.60 343.10,222.60 343.30,222.60 343.50,222.60 343.70,222.60 343.90,222.60 344.10,222.60 344.30,222.60 344.50,222.60 344.70,222.60 344.90,222.60 345.10,222.60 345.30,222.60 345.50,222.60 345.70,222.60 345.90,222.60 346.10,222.60 346.30,222.60 346.50,222.60 346.70,222.60 346.90,222.60 347.10,222.60 347.30,222.60 347.50,222.60 347.70,222.60 347.90,222.60 348.10,222.60 348.25,221.51 348.50,220.57 348.75,219.76 349.00,219.06 349.25,218.45 349.50,217.93 349.75,217.48 350.00,217.09 350.25,216.75 350.50,216.47 350.75,216.22 351.00,216.01 351.25,215.82 351.50,215.67 351.75,215.53 352.00,215.42 352.25,215.32 352.50,215.24 352.75,215.17 353.00,215.11 353.25,215.06 353.50,215.02 353.75,214.98 354.00,214.95 354.25,214.93 354.50,214.91 354.75,214.89 355.00,214.88 355.25,214.87 355.50,214.86 355.75,214.86 356.00,214.85 356.25,214.85 356.50,214.85 356.75,214.85 357.00,214.85 357.25,214.85 357.50,214.85 357.75,214.86 358.00,214.86 358.25,214.86 358.50,214.86 358.75,214.87 359.00,214.87 359.25,214.88 359.50,214.88 359.75,214.88 360.00,214.89 360.25,214.89 360.50,214.89 360.75,214.90 361.00,214.90 361.25,214.90 361.50,214.91 361.75,214.91 362.00,214.91 362.25,214.92 362.50,214.92 362.75,214.92 363.00,214.93 363.25,214.93 363.50,214.93 363.75,214.94 364.00,214.94 364.25,214.94 364.50,214.94 364.75,214.94 365.00,214.95 365.25,214.95 365.50,214.95 365.75,214.95 366.00,214.95 366.25,214.96 366.50,214.96 366.75,214.96 367.00,214.96 367.25,214.96 367.50,214.96 367.75,214.97 368.00,214.97 368.25,214.97 368.50,214.97 368.75,214.97 369.00,214.97 369.25,214.97 369.50,214.97 369.75,214.98 370.00,214.98 370.25,214.98 370.50,214.98 370.75,214.98 371.00,214.98 371.25,214.98 371.50,214.98 371.75,214.98 372.00,214.98 372.25,214.98 372.50,214.98 372.75,214.99 373.00,214.99 373.25,214.99 373.50,214.99 373.75,214.99 374.00,214.99 374.25,214.99 374.50,214.99 374.75,214.99 375.00,214.99 375.25,214.99 375.50,214.99 375.75,214.99 376.00,214.99 376.25,214.99 376.50,214.99 376.75,214.99 377.00,214.99 377.25,214.99 377.50,214.99 377.75,214.99 378.00,214.99 378.25,214.99 378.50,214.99 378.75,214.99 379.00,214.99 379.25,215.00 379.50,215.00 379.75,215.00 380.00,215.00 380.25,215.00 380.50,215.00 380.75,215.00 381.00,215.00 381.25,215.00 381.50,215.00 381.75,215.00 382.00,215.00 382.25,215.00 382.50,215.00 382.75,215.00 383.00,215.00 383.25,215.00 383.50,215.00 383.75,215.00 384.00,215.00 384.25,215.00 384.50,215.00 384.75,215.00 385.00,215.00 385.25,215.00 385.50,215.00 385.75,215.00 386.00,215.00 386.25,215.00 386.50,215.00 386.75,215.00 387.00,215.00 387.25,215.00 387.50,215.00 387.75,215.00 388.00,215.00 388.25,215.00 388.50,215.00 388.75,215.00 389.00,215.00 389.25,215.00 389.50,215.00 389.75,215.00 390.00,215.00 390.25,215.00 390.50,215.00 390.75,215.00 391.00,215.00 391.25,215.00 391.50,215.00 391.75,215.00 392.00,215.00 392.25,215.00 392.50,215.00 392.75,215.00 393.00,215.00 393.25,215.00 393.50,215.00 393.75,215.00 394.00,215.00 394.25,215.00 394.50,215.00 394.75,215.00 395.00,215.00 395.25,215.00 395.50,215.00 395.75,215.00 396.00,215.00 396.25,215.00 396.50,215.00 396.75,215.00 397.00,215.00 397.25,215.00 397.50,215.00 397.75,215.00 398.00,215.00 398.25,215.00 398.50,215.00 398.75,215.00 399.00,215.00 399.25,215.00 399.50,215.00 399.75,215.00 400.00,215.00 400.25,215.00 400.50,215.00 400.75,215.00 401.00,215.00 401.25,215.00 401.50,215.00 401.75,215.00 402.00,215.00 402.25,215.00 402.50,215.00 402.75,215.00 403.00,215.00 403.25,215.00 403.50,215.00 403.75,215.00 404.00,215.00 404.00,215.00" fill="none" stroke="#141414" stroke-width="0.85"/>
<polyline points="290.30,215.00 313.50,215.00 313.70,215.40 313.90,215.74 314.10,216.02 314.30,216.25 314.50,216.45 314.70,216.63 314.90,216.77 315.10,216.90 315.30,217.01 315.50,217.11 315.70,217.20 315.90,217.27 316.10,217.34 316.30,217.40 316.50,217.45 316.70,217.50 316.90,217.54 317.10,217.58 317.30,217.61 317.50,217.64 317.70,217.66 317.90,217.69 318.10,217.71 318.30,217.72 318.50,217.74 318.70,217.75 318.90,217.77 319.10,217.78 319.30,217.79 319.50,217.80 319.70,217.80 319.90,217.81 320.10,217.81 320.30,217.82 320.50,217.82 320.70,217.83 320.90,217.83 321.10,217.83 321.30,217.83 321.50,217.83 321.70,217.84 321.90,217.84 322.10,217.84 322.30,217.84 322.50,217.84 322.70,217.84 322.90,217.84 323.10,217.84 323.30,217.84 323.50,217.84 323.70,217.84 323.90,217.83 324.10,217.83 324.30,217.83 324.50,217.83 324.70,217.83 324.90,217.83 325.10,217.83 325.30,217.83 325.50,217.83 325.70,217.83 325.90,217.83 326.10,217.83 326.30,217.82 326.50,217.82 326.70,217.82 326.90,217.82 327.10,217.82 327.30,217.82 327.50,217.82 327.70,217.82 327.90,217.82 328.10,217.82 328.30,217.82 328.50,217.82 328.70,217.82 328.90,217.81 329.10,217.81 329.30,217.81 329.50,217.81 329.70,217.81 329.90,217.81 330.10,217.81 330.30,217.81 330.50,217.81 330.70,217.81 330.90,217.81 331.10,217.81 331.30,217.81 331.50,217.81 331.70,217.81 331.90,217.81 332.10,217.81 332.30,217.81 332.50,217.81 332.70,217.81 332.90,217.81 333.10,217.81 333.30,217.81 333.50,217.81 333.70,217.80 333.90,217.80 334.10,217.80 334.30,217.80 334.50,217.80 334.70,217.80 334.90,217.80 335.10,217.80 335.30,217.80 335.50,217.80 335.70,217.80 335.90,217.80 336.10,217.80 336.30,217.80 336.50,217.80 336.70,217.80 336.90,217.80 337.10,217.80 337.30,217.80 337.50,217.80 337.70,217.80 337.90,217.80 338.10,217.80 338.30,217.80 338.50,217.80 338.70,217.80 338.90,217.80 339.10,217.80 339.30,217.80 339.50,217.80 339.70,217.80 339.90,217.80 340.10,217.80 340.30,217.80 340.50,217.80 340.70,217.80 340.90,217.80 341.10,217.80 341.30,217.80 341.50,217.80 341.70,217.80 341.90,217.80 342.10,217.80 342.30,217.80 342.50,217.80 342.70,217.80 342.90,217.80 343.10,217.80 343.30,217.80 343.50,217.80 343.70,217.80 343.90,217.80 344.10,217.80 344.30,217.80 344.50,217.80 344.70,217.80 344.90,217.80 345.10,217.80 345.30,217.80 345.50,217.80 345.70,217.80 345.90,217.80 346.10,217.80 346.30,217.80 346.50,217.80 346.70,217.80 346.90,217.80 347.10,217.80 347.30,217.80 347.50,217.80 347.70,217.80 347.90,217.80 348.10,217.80 348.25,217.40 348.50,217.05 348.75,216.75 349.00,216.49 349.25,216.27 349.50,216.08 349.75,215.91 350.00,215.77 350.25,215.65 350.50,215.54 350.75,215.45 351.00,215.37 351.25,215.30 351.50,215.25 351.75,215.20 352.00,215.15 352.25,215.12 352.50,215.09 352.75,215.06 353.00,215.04 353.25,215.02 353.50,215.01 353.75,214.99 354.00,214.98 354.25,214.97 354.50,214.97 354.75,214.96 355.00,214.96 355.25,214.95 355.50,214.95 355.75,214.95 356.00,214.95 356.25,214.95 356.50,214.94 356.75,214.94 357.00,214.94 357.25,214.95 357.50,214.95 357.75,214.95 358.00,214.95 358.25,214.95 358.50,214.95 358.75,214.95 359.00,214.95 359.25,214.95 359.50,214.96 359.75,214.96 360.00,214.96 360.25,214.96 360.50,214.96 360.75,214.96 361.00,214.96 361.25,214.96 361.50,214.97 361.75,214.97 362.00,214.97 362.25,214.97 362.50,214.97 362.75,214.97 363.00,214.97 363.25,214.97 363.50,214.98 363.75,214.98 364.00,214.98 364.25,214.98 364.50,214.98 364.75,214.98 365.00,214.98 365.25,214.98 365.50,214.98 365.75,214.98 366.00,214.98 366.25,214.98 366.50,214.98 366.75,214.99 367.00,214.99 367.25,214.99 367.50,214.99 367.75,214.99 368.00,214.99 368.25,214.99 368.50,214.99 368.75,214.99 369.00,214.99 369.25,214.99 369.50,214.99 369.75,214.99 370.00,214.99 370.25,214.99 370.50,214.99 370.75,214.99 371.00,214.99 371.25,214.99 371.50,214.99 371.75,214.99 372.00,214.99 372.25,214.99 372.50,214.99 372.75,214.99 373.00,214.99 373.25,215.00 373.50,215.00 373.75,215.00 374.00,215.00 374.25,215.00 374.50,215.00 374.75,215.00 375.00,215.00 375.25,215.00 375.50,215.00 375.75,215.00 376.00,215.00 376.25,215.00 376.50,215.00 376.75,215.00 377.00,215.00 377.25,215.00 377.50,215.00 377.75,215.00 378.00,215.00 378.25,215.00 378.50,215.00 378.75,215.00 379.00,215.00 379.25,215.00 379.50,215.00 379.75,215.00 380.00,215.00 380.25,215.00 380.50,215.00 380.75,215.00 381.00,215.00 381.25,215.00 381.50,215.00 381.75,215.00 382.00,215.00 382.25,215.00 382.50,215.00 382.75,215.00 383.00,215.00 383.25,215.00 383.50,215.00 383.75,215.00 384.00,215.00 384.25,215.00 384.50,215.00 384.75,215.00 385.00,215.00 385.25,215.00 385.50,215.00 385.75,215.00 386.00,215.00 386.25,215.00 386.50,215.00 386.75,215.00 387.00,215.00 387.25,215.00 387.50,215.00 387.75,215.00 388.00,215.00 388.25,215.00 388.50,215.00 388.75,215.00 389.00,215.00 389.25,215.00 389.50,215.00 389.75,215.00 390.00,215.00 390.25,215.00 390.50,215.00 390.75,215.00 391.00,215.00 391.25,215.00 391.50,215.00 391.75,215.00 392.00,215.00 392.25,215.00 392.50,215.00 392.75,215.00 393.00,215.00 393.25,215.00 393.50,215.00 393.75,215.00 394.00,215.00 394.25,215.00 394.50,215.00 394.75,215.00 395.00,215.00 395.25,215.00 395.50,215.00 395.75,215.00 396.00,215.00 396.25,215.00 396.50,215.00 396.75,215.00 397.00,215.00 397.25,215.00 397.50,215.00 397.75,215.00 398.00,215.00 398.25,215.00 398.50,215.00 398.75,215.00 399.00,215.00 399.25,215.00 399.50,215.00 399.75,215.00 400.00,215.00 400.25,215.00 400.50,215.00 400.75,215.00 401.00,215.00 401.25,215.00 401.50,215.00 401.75,215.00 402.00,215.00 402.25,215.00 402.50,215.00 402.75,215.00 403.00,215.00 403.25,215.00 403.50,215.00 403.75,215.00 404.00,215.00 404.00,215.00" fill="none" stroke="#141414" stroke-width="0.85"/>
<polyline points="290.30,215.00 313.50,215.00 313.70,214.87 313.90,214.75 314.10,214.64 314.30,214.54 314.50,214.45 314.70,214.37 314.90,214.29 315.10,214.22 315.30,214.16 315.50,214.10 315.70,214.05 315.90,214.00 316.10,213.96 316.30,213.92 316.50,213.88 316.70,213.85 316.90,213.82 317.10,213.79 317.30,213.77 317.50,213.74 317.70,213.72 317.90,213.70 318.10,213.69 318.30,213.67 318.50,213.65 318.70,213.64 318.90,213.63 319.10,213.62 319.30,213.61 319.50,213.60 319.70,213.59 319.90,213.58 320.10,213.57 320.30,213.57 320.50,213.56 320.70,213.56 320.90,213.55 321.10,213.55 321.30,213.54 321.50,213.54 321.70,213.54 321.90,213.53 322.10,213.53 322.30,213.53 322.50,213.53 322.70,213.52 322.90,213.52 323.10,213.52 323.30,213.52 323.50,213.52 323.70,213.51 323.90,213.51 324.10,213.51 324.30,213.51 324.50,213.51 324.70,213.51 324.90,213.51 325.10,213.51 325.30,213.51 325.50,213.51 325.70,213.51 325.90,213.51 326.10,213.50 326.30,213.50 326.50,213.50 326.70,213.50 326.90,213.50 327.10,213.50 327.30,213.50 327.50,213.50 327.70,213.50 327.90,213.50 328.10,213.50 328.30,213.50 328.50,213.50 328.70,213.50 328.90,213.50 329.10,213.50 329.30,213.50 329.50,213.50 329.70,213.50 329.90,213.50 330.10,213.50 330.30,213.50 330.50,213.50 330.70,213.50 330.90,213.50 331.10,213.50 331.30,213.50 331.50,213.50 331.70,213.50 331.90,213.50 332.10,213.50 332.30,213.50 332.50,213.50 332.70,213.50 332.90,213.50 333.10,213.50 333.30,213.50 333.50,213.50 333.70,213.50 333.90,213.50 334.10,213.50 334.30,213.50 334.50,213.50 334.70,213.50 334.90,213.50 335.10,213.50 335.30,213.50 335.50,213.50 335.70,213.50 335.90,213.50 336.10,213.50 336.30,213.50 336.50,213.50 336.70,213.50 336.90,213.50 337.10,213.50 337.30,213.50 337.50,213.50 337.70,213.50 337.90,213.50 338.10,213.50 338.30,213.50 338.50,213.50 338.70,213.50 338.90,213.50 339.10,213.50 339.30,213.50 339.50,213.50 339.70,213.50 339.90,213.50 340.10,213.50 340.30,213.50 340.50,213.50 340.70,213.50 340.90,213.50 341.10,213.50 341.30,213.50 341.50,213.50 341.70,213.50 341.90,213.50 342.10,213.50 342.30,213.50 342.50,213.50 342.70,213.50 342.90,213.50 343.10,213.50 343.30,213.50 343.50,213.50 343.70,213.50 343.90,213.50 344.10,213.50 344.30,213.50 344.50,213.50 344.70,213.50 344.90,213.50 345.10,213.50 345.30,213.50 345.50,213.50 345.70,213.50 345.90,213.50 346.10,213.50 346.30,213.50 346.50,213.50 346.70,213.50 346.90,213.50 347.10,213.50 347.30,213.50 347.50,213.50 347.70,213.50 347.90,213.50 348.10,213.50 348.25,213.69 348.50,213.86 348.75,214.01 349.00,214.14 349.25,214.25 349.50,214.35 349.75,214.43 350.00,214.51 350.25,214.57 350.50,214.63 350.75,214.67 351.00,214.72 351.25,214.75 351.50,214.79 351.75,214.81 352.00,214.84 352.25,214.86 352.50,214.88 352.75,214.89 353.00,214.91 353.25,214.92 353.50,214.93 353.75,214.94 354.00,214.95 354.25,214.95 354.50,214.96 354.75,214.96 355.00,214.97 355.25,214.97 355.50,214.98 355.75,214.98 356.00,214.98 356.25,214.98 356.50,214.99 356.75,214.99 357.00,214.99 357.25,214.99 357.50,214.99 357.75,214.99 358.00,214.99 358.25,214.99 358.50,215.00 358.75,215.00 359.00,215.00 359.25,215.00 359.50,215.00 359.75,215.00 360.00,215.00 360.25,215.00 360.50,215.00 360.75,215.00 361.00,215.00 361.25,215.00 361.50,215.00 361.75,215.00 362.00,215.00 362.25,215.00 362.50,215.00 362.75,215.00 363.00,215.00 363.25,215.00 363.50,215.00 363.75,215.00 364.00,215.00 364.25,215.00 364.50,215.00 364.75,215.00 365.00,215.00 365.25,215.00 365.50,215.00 365.75,215.00 366.00,215.00 366.25,215.00 366.50,215.00 366.75,215.00 367.00,215.00 367.25,215.00 367.50,215.00 367.75,215.00 368.00,215.00 368.25,215.00 368.50,215.00 368.75,215.00 369.00,215.00 369.25,215.00 369.50,215.00 369.75,215.00 370.00,215.00 370.25,215.00 370.50,215.00 370.75,215.00 371.00,215.00 371.25,215.00 371.50,215.00 371.75,215.00 372.00,215.00 372.25,215.00 372.50,215.00 372.75,215.00 373.00,215.00 373.25,215.00 373.50,215.00 373.75,215.00 374.00,215.00 374.25,215.00 374.50,215.00 374.75,215.00 375.00,215.00 375.25,215.00 375.50,215.00 375.75,215.00 376.00,215.00 376.25,215.00 376.50,215.00 376.75,215.00 377.00,215.00 377.25,215.00 377.50,215.00 377.75,215.00 378.00,215.00 378.25,215.00 378.50,215.00 378.75,215.00 379.00,215.00 379.25,215.00 379.50,215.00 379.75,215.00 380.00,215.00 380.25,215.00 380.50,215.00 380.75,215.00 381.00,215.00 381.25,215.00 381.50,215.00 381.75,215.00 382.00,215.00 382.25,215.00 382.50,215.00 382.75,215.00 383.00,215.00 383.25,215.00 383.50,215.00 383.75,215.00 384.00,215.00 384.25,215.00 384.50,215.00 384.75,215.00 385.00,215.00 385.25,215.00 385.50,215.00 385.75,215.00 386.00,215.00 386.25,215.00 386.50,215.00 386.75,215.00 387.00,215.00 387.25,215.00 387.50,215.00 387.75,215.00 388.00,215.00 388.25,215.00 388.50,215.00 388.75,215.00 389.00,215.00 389.25,215.00 389.50,215.00 389.75,215.00 390.00,215.00 390.25,215.00 390.50,215.00 390.75,215.00 391.00,215.00 391.25,215.00 391.50,215.00 391.75,215.00 392.00,215.00 392.25,215.00 392.50,215.00 392.75,215.00 393.00,215.00 393.25,215.00 393.50,215.00 393.75,215.00 394.00,215.00 394.25,215.00 394.50,215.00 394.75,215.00 395.00,215.00 395.25,215.00 395.50,215.00 395.75,215.00 396.00,215.00 396.25,215.00 396.50,215.00 396.75,215.00 397.00,215.00 397.25,215.00 397.50,215.00 397.75,215.00 398.00,215.00 398.25,215.00 398.50,215.00 398.75,215.00 399.00,215.00 399.25,215.00 399.50,215.00 399.75,215.00 400.00,215.00 400.25,215.00 400.50,215.00 400.75,215.00 401.00,215.00 401.25,215.00 401.50,215.00 401.75,215.00 402.00,215.00 402.25,215.00 402.50,215.00 402.75,215.00 403.00,215.00 403.25,215.00 403.50,215.00 403.75,215.00 404.00,215.00 404.00,215.00" fill="none" stroke="#141414" stroke-width="0.85"/>
<polyline points="290.30,215.00 313.50,215.00 313.70,214.42 313.90,213.89 314.10,213.40 314.30,212.96 314.50,212.55 314.70,212.18 314.90,211.84 315.10,211.53 315.30,211.25 315.50,210.99 315.70,210.75 315.90,210.53 316.10,210.33 316.30,210.15 316.50,209.98 316.70,209.83 316.90,209.69 317.10,209.56 317.30,209.44 317.50,209.33 317.70,209.23 317.90,209.14 318.10,209.06 318.30,208.98 318.50,208.91 318.70,208.84 318.90,208.78 319.10,208.72 319.30,208.67 319.50,208.62 319.70,208.58 319.90,208.54 320.10,208.50 320.30,208.46 320.50,208.43 320.70,208.40 320.90,208.37 321.10,208.34 321.30,208.32 321.50,208.30 321.70,208.27 321.90,208.25 322.10,208.23 322.30,208.21 322.50,208.20 322.70,208.18 322.90,208.17 323.10,208.15 323.30,208.14 323.50,208.12 323.70,208.11 323.90,208.10 324.10,208.08 324.30,208.07 324.50,208.06 324.70,208.05 324.90,208.04 325.10,208.03 325.30,208.02 325.50,208.01 325.70,208.00 325.90,207.99 326.10,207.98 326.30,207.97 326.50,207.97 326.70,207.96 326.90,207.95 327.10,207.94 327.30,207.93 327.50,207.92 327.70,207.92 327.90,207.91 328.10,207.90 328.30,207.89 328.50,207.89 328.70,207.88 328.90,207.87 329.10,207.86 329.30,207.86 329.50,207.85 329.70,207.84 329.90,207.83 330.10,207.83 330.30,207.82 330.50,207.81 330.70,207.80 330.90,207.80 331.10,207.79 331.30,207.78 331.50,207.78 331.70,207.77 331.90,207.76 332.10,207.75 332.30,207.75 332.50,207.74 332.70,207.73 332.90,207.73 333.10,207.72 333.30,207.71 333.50,207.71 333.70,207.70 333.90,207.69 334.10,207.68 334.30,207.68 334.50,207.67 334.70,207.66 334.90,207.66 335.10,207.65 335.30,207.64 335.50,207.64 335.70,207.63 335.90,207.62 336.10,207.61 336.30,207.61 336.50,207.60 336.70,207.59 336.90,207.59 337.10,207.58 337.30,207.57 337.50,207.57 337.70,207.56 337.90,207.55 338.10,207.54 338.30,207.54 338.50,207.53 338.70,207.52 338.90,207.52 339.10,207.51 339.30,207.50 339.50,207.50 339.70,207.49 339.90,207.48 340.10,207.47 340.30,207.47 340.50,207.46 340.70,207.45 340.90,207.45 341.10,207.44 341.30,207.43 341.50,207.43 341.70,207.42 341.90,207.41 342.10,207.41 342.30,207.40 342.50,207.39 342.70,207.38 342.90,207.38 343.10,207.37 343.30,207.36 343.50,207.36 343.70,207.35 343.90,207.34 344.10,207.34 344.30,207.33 344.50,207.32 344.70,207.31 344.90,207.31 345.10,207.30 345.30,207.29 345.50,207.29 345.70,207.28 345.90,207.27 346.10,207.27 346.30,207.26 346.50,207.25 346.70,207.25 346.90,207.24 347.10,207.23 347.30,207.22 347.50,207.22 347.70,207.21 347.90,207.20 348.10,207.20 348.25,208.21 348.50,209.09 348.75,209.86 349.00,210.52 349.25,211.11 349.50,211.61 349.75,212.05 350.00,212.43 350.25,212.77 350.50,213.06 350.75,213.31 351.00,213.53 351.25,213.72 351.50,213.88 351.75,214.03 352.00,214.15 352.25,214.26 352.50,214.36 352.75,214.44 353.00,214.52 353.25,214.58 353.50,214.63 353.75,214.68 354.00,214.72 354.25,214.76 354.50,214.79 354.75,214.82 355.00,214.84 355.25,214.86 355.50,214.88 355.75,214.89 356.00,214.91 356.25,214.92 356.50,214.93 356.75,214.94 357.00,214.95 357.25,214.95 357.50,214.96 357.75,214.97 358.00,214.97 358.25,214.97 358.50,214.98 358.75,214.98 359.00,214.98 359.25,214.98 359.50,214.99 359.75,214.99 360.00,214.99 360.25,214.99 360.50,214.99 360.75,214.99 361.00,214.99 361.25,215.00 361.50,215.00 361.75,215.00 362.00,215.00 362.25,215.00 362.50,215.00 362.75,215.00 363.00,215.00 363.25,215.00 363.50,215.00 363.75,215.00 364.00,215.00 364.25,215.00 364.50,215.00 364.75,215.00 365.00,215.00 365.25,215.00 365.50,215.00 365.75,215.00 366.00,215.00 366.25,215.00 366.50,215.00 366.75,215.00 367.00,215.00 367.25,215.00 367.50,215.00 367.75,215.00 368.00,215.00 368.25,215.00 368.50,215.00 368.75,215.00 369.00,215.00 369.25,215.00 369.50,215.00 369.75,215.00 370.00,215.00 370.25,215.00 370.50,215.00 370.75,215.00 371.00,215.00 371.25,215.00 371.50,215.00 371.75,215.00 372.00,215.00 372.25,215.00 372.50,215.00 372.75,215.00 373.00,215.00 373.25,215.00 373.50,215.00 373.75,215.00 374.00,215.00 374.25,215.00 374.50,215.00 374.75,215.00 375.00,215.00 375.25,215.00 375.50,215.00 375.75,215.00 376.00,215.00 376.25,215.00 376.50,215.00 376.75,215.00 377.00,215.00 377.25,215.00 377.50,215.00 377.75,215.00 378.00,215.00 378.25,215.00 378.50,215.00 378.75,215.00 379.00,215.00 379.25,215.00 379.50,215.00 379.75,215.00 380.00,215.00 380.25,215.00 380.50,215.00 380.75,215.00 381.00,215.00 381.25,215.00 381.50,215.00 381.75,215.00 382.00,215.00 382.25,215.00 382.50,215.00 382.75,215.00 383.00,215.00 383.25,215.00 383.50,215.00 383.75,215.00 384.00,215.00 384.25,215.00 384.50,215.00 384.75,215.00 385.00,215.00 385.25,215.00 385.50,215.00 385.75,215.00 386.00,215.00 386.25,215.00 386.50,215.00 386.75,215.00 387.00,215.00 387.25,215.00 387.50,215.00 387.75,215.00 388.00,215.00 388.25,215.00 388.50,215.00 388.75,215.00 389.00,215.00 389.25,215.00 389.50,215.00 389.75,215.00 390.00,215.00 390.25,215.00 390.50,215.00 390.75,215.00 391.00,215.00 391.25,215.00 391.50,215.00 391.75,215.00 392.00,215.00 392.25,215.00 392.50,215.00 392.75,215.00 393.00,215.00 393.25,215.00 393.50,215.00 393.75,215.00 394.00,215.00 394.25,215.00 394.50,215.00 394.75,215.00 395.00,215.00 395.25,215.00 395.50,215.00 395.75,215.00 396.00,215.00 396.25,215.00 396.50,215.00 396.75,215.00 397.00,215.00 397.25,215.00 397.50,215.00 397.75,215.00 398.00,215.00 398.25,215.00 398.50,215.00 398.75,215.00 399.00,215.00 399.25,215.00 399.50,215.00 399.75,215.00 400.00,215.00 400.25,215.00 400.50,215.00 400.75,215.00 401.00,215.00 401.25,215.00 401.50,215.00 401.75,215.00 402.00,215.00 402.25,215.00 402.50,215.00 402.75,215.00 403.00,215.00 403.25,215.00 403.50,215.00 403.75,215.00 404.00,215.00 404.00,215.00" fill="none" stroke="#141414" stroke-width="0.85"/>
<polyline points="290.30,215.00 313.50,215.00 313.70,214.04 313.90,213.16 314.10,212.35 314.30,211.62 314.50,210.94 314.70,210.33 314.90,209.77 315.10,209.26 315.30,208.79 315.50,208.36 315.70,207.96 315.90,207.60 316.10,207.28 316.30,206.98 316.50,206.70 316.70,206.45 316.90,206.22 317.10,206.01 317.30,205.81 317.50,205.63 317.70,205.47 317.90,205.32 318.10,205.19 318.30,205.06 318.50,204.94 318.70,204.84 318.90,204.74 319.10,204.65 319.30,204.57 319.50,204.49 319.70,204.42 319.90,204.36 320.10,204.30 320.30,204.24 320.50,204.19 320.70,204.15 320.90,204.10 321.10,204.06 321.30,204.02 321.50,203.99 321.70,203.96 321.90,203.93 322.10,203.90 322.30,203.87 322.50,203.84 322.70,203.82 322.90,203.80 323.10,203.78 323.30,203.76 323.50,203.74 323.70,203.72 323.90,203.71 324.10,203.69 324.30,203.67 324.50,203.66 324.70,203.65 324.90,203.63 325.10,203.62 325.30,203.61 325.50,203.59 325.70,203.58 325.90,203.57 326.10,203.56 326.30,203.55 326.50,203.54 326.70,203.53 326.90,203.52 327.10,203.51 327.30,203.50 327.50,203.49 327.70,203.48 327.90,203.47 328.10,203.46 328.30,203.46 328.50,203.45 328.70,203.44 328.90,203.43 329.10,203.42 329.30,203.41 329.50,203.40 329.70,203.40 329.90,203.39 330.10,203.38 330.30,203.37 330.50,203.36 330.70,203.36 330.90,203.35 331.10,203.34 331.30,203.33 331.50,203.32 331.70,203.32 331.90,203.31 332.10,203.30 332.30,203.29 332.50,203.29 332.70,203.28 332.90,203.27 333.10,203.26 333.30,203.26 333.50,203.25 333.70,203.24 333.90,203.23 334.10,203.22 334.30,203.22 334.50,203.21 334.70,203.20 334.90,203.19 335.10,203.19 335.30,203.18 335.50,203.17 335.70,203.16 335.90,203.16 336.10,203.15 336.30,203.14 336.50,203.13 336.70,203.13 336.90,203.12 337.10,203.11 337.30,203.10 337.50,203.10 337.70,203.09 337.90,203.08 338.10,203.07 338.30,203.07 338.50,203.06 338.70,203.05 338.90,203.04 339.10,203.04 339.30,203.03 339.50,203.02 339.70,203.01 339.90,203.01 340.10,203.00 340.30,202.99 340.50,202.98 340.70,202.98 340.90,202.97 341.10,202.96 341.30,202.95 341.50,202.94 341.70,202.94 341.90,202.93 342.10,202.92 342.30,202.91 342.50,202.91 342.70,202.90 342.90,202.89 343.10,202.88 343.30,202.88 343.50,202.87 343.70,202.86 343.90,202.85 344.10,202.85 344.30,202.84 344.50,202.83 344.70,202.82 344.90,202.82 345.10,202.81 345.30,202.80 345.50,202.79 345.70,202.79 345.90,202.78 346.10,202.77 346.30,202.76 346.50,202.76 346.70,202.75 346.90,202.74 347.10,202.73 347.30,202.73 347.50,202.72 347.70,202.71 347.90,202.70 348.10,202.70 348.25,204.30 348.50,205.68 348.75,206.89 349.00,207.94 349.25,208.86 349.50,209.65 349.75,210.35 350.00,210.95 350.25,211.48 350.50,211.93 350.75,212.33 351.00,212.68 351.25,212.98 351.50,213.24 351.75,213.47 352.00,213.67 352.25,213.84 352.50,213.99 352.75,214.12 353.00,214.24 353.25,214.33 353.50,214.42 353.75,214.50 354.00,214.56 354.25,214.62 354.50,214.67 354.75,214.71 355.00,214.75 355.25,214.78 355.50,214.81 355.75,214.83 356.00,214.86 356.25,214.87 356.50,214.89 356.75,214.90 357.00,214.92 357.25,214.93 357.50,214.94 357.75,214.95 358.00,214.95 358.25,214.96 358.50,214.96 358.75,214.97 359.00,214.97 359.25,214.98 359.50,214.98 359.75,214.98 360.00,214.98 360.25,214.99 360.50,214.99 360.75,214.99 361.00,214.99 361.25,214.99 361.50,214.99 361.75,214.99 362.00,214.99 362.25,215.00 362.50,215.00 362.75,215.00 363.00,215.00 363.25,215.00 363.50,215.00 363.75,215.00 364.00,215.00 364.25,215.00 364.50,215.00 364.75,215.00 365.00,215.00 365.25,215.00 365.50,215.00 365.75,215.00 366.00,215.00 366.25,215.00 366.50,215.00 366.75,215.00 367.00,215.00 367.25,215.00 367.50,215.00 367.75,215.00 368.00,215.00 368.25,215.00 368.50,215.00 368.75,215.00 369.00,215.00 369.25,215.00 369.50,215.00 369.75,215.00 370.00,215.00 370.25,215.00 370.50,215.00 370.75,215.00 371.00,215.00 371.25,215.00 371.50,215.00 371.75,215.00 372.00,215.00 372.25,215.00 372.50,215.00 372.75,215.00 373.00,215.00 373.25,215.00 373.50,215.00 373.75,215.00 374.00,215.00 374.25,215.00 374.50,215.00 374.75,215.00 375.00,215.00 375.25,215.00 375.50,215.00 375.75,215.00 376.00,215.00 376.25,215.00 376.50,215.00 376.75,215.00 377.00,215.00 377.25,215.00 377.50,215.00 377.75,215.00 378.00,215.00 378.25,215.00 378.50,215.00 378.75,215.00 379.00,215.00 379.25,215.00 379.50,215.00 379.75,215.00 380.00,215.00 380.25,215.00 380.50,215.00 380.75,215.00 381.00,215.00 381.25,215.00 381.50,215.00 381.75,215.00 382.00,215.00 382.25,215.00 382.50,215.00 382.75,215.00 383.00,215.00 383.25,215.00 383.50,215.00 383.75,215.00 384.00,215.00 384.25,215.00 384.50,215.00 384.75,215.00 385.00,215.00 385.25,215.00 385.50,215.00 385.75,215.00 386.00,215.00 386.25,215.00 386.50,215.00 386.75,215.00 387.00,215.00 387.25,215.00 387.50,215.00 387.75,215.00 388.00,215.00 388.25,215.00 388.50,215.00 388.75,215.00 389.00,215.00 389.25,215.00 389.50,215.00 389.75,215.00 390.00,215.00 390.25,215.00 390.50,215.00 390.75,215.00 391.00,215.00 391.25,215.00 391.50,215.00 391.75,215.00 392.00,215.00 392.25,215.00 392.50,215.00 392.75,215.00 393.00,215.00 393.25,215.00 393.50,215.00 393.75,215.00 394.00,215.00 394.25,215.00 394.50,215.00 394.75,215.00 395.00,215.00 395.25,215.00 395.50,215.00 395.75,215.00 396.00,215.00 396.25,215.00 396.50,215.00 396.75,215.00 397.00,215.00 397.25,215.00 397.50,215.00 397.75,215.00 398.00,215.00 398.25,215.00 398.50,215.00 398.75,215.00 399.00,215.00 399.25,215.00 399.50,215.00 399.75,215.00 400.00,215.00 400.25,215.00 400.50,215.00 400.75,215.00 401.00,215.00 401.25,215.00 401.50,215.00 401.75,215.00 402.00,215.00 402.25,215.00 402.50,215.00 402.75,215.00 403.00,215.00 403.25,215.00 403.50,215.00 403.75,215.00 404.00,215.00 404.00,215.00" fill="none" stroke="#141414" stroke-width="0.85"/>
<polyline points="290.30,215.00 313.50,215.00 313.70,214.02 313.90,213.12 314.10,212.31 314.30,211.56 314.50,210.87 314.70,210.25 314.90,209.68 315.10,209.16 315.30,208.68 315.50,208.24 315.70,207.84 315.90,207.48 316.10,207.14 316.30,206.84 316.50,206.56 316.70,206.30 316.90,206.07 317.10,205.86 317.30,205.66 317.50,205.48 317.70,205.31 317.90,205.16 318.10,205.02 318.30,204.90 318.50,204.78 318.70,204.67 318.90,204.57 319.10,204.48 319.30,204.40 319.50,204.32 319.70,204.25 319.90,204.19 320.10,204.13 320.30,204.07 320.50,204.02 320.70,203.97 320.90,203.93 321.10,203.89 321.30,203.85 321.50,203.82 321.70,203.78 321.90,203.75 322.10,203.73 322.30,203.70 322.50,203.67 322.70,203.65 322.90,203.63 323.10,203.61 323.30,203.59 323.50,203.57 323.70,203.55 323.90,203.54 324.10,203.52 324.30,203.51 324.50,203.49 324.70,203.48 324.90,203.47 325.10,203.45 325.30,203.44 325.50,203.43 325.70,203.42 325.90,203.41 326.10,203.40 326.30,203.39 326.50,203.38 326.70,203.37 326.90,203.36 327.10,203.35 327.30,203.34 327.50,203.33 327.70,203.32 327.90,203.32 328.10,203.31 328.30,203.30 328.50,203.29 328.70,203.28 328.90,203.27 329.10,203.27 329.30,203.26 329.50,203.25 329.70,203.24 329.90,203.24 330.10,203.23 330.30,203.22 330.50,203.21 330.70,203.21 330.90,203.20 331.10,203.19 331.30,203.18 331.50,203.18 331.70,203.17 331.90,203.16 332.10,203.16 332.30,203.15 332.50,203.14 332.70,203.13 332.90,203.13 333.10,203.12 333.30,203.11 333.50,203.11 333.70,203.10 333.90,203.09 334.10,203.08 334.30,203.08 334.50,203.07 334.70,203.06 334.90,203.06 335.10,203.05 335.30,203.04 335.50,203.04 335.70,203.03 335.90,203.02 336.10,203.01 336.30,203.01 336.50,203.00 336.70,202.99 336.90,202.99 337.10,202.98 337.30,202.97 337.50,202.97 337.70,202.96 337.90,202.95 338.10,202.94 338.30,202.94 338.50,202.93 338.70,202.92 338.90,202.92 339.10,202.91 339.30,202.90 339.50,202.90 339.70,202.89 339.90,202.88 340.10,202.87 340.30,202.87 340.50,202.86 340.70,202.85 340.90,202.85 341.10,202.84 341.30,202.83 341.50,202.83 341.70,202.82 341.90,202.81 342.10,202.81 342.30,202.80 342.50,202.79 342.70,202.78 342.90,202.78 343.10,202.77 343.30,202.76 343.50,202.76 343.70,202.75 343.90,202.74 344.10,202.74 344.30,202.73 344.50,202.72 344.70,202.71 344.90,202.71 345.10,202.70 345.30,202.69 345.50,202.69 345.70,202.68 345.90,202.67 346.10,202.67 346.30,202.66 346.50,202.65 346.70,202.65 346.90,202.64 347.10,202.63 347.30,202.62 347.50,202.62 347.70,202.61 347.90,202.60 348.10,202.60 348.25,204.21 348.50,205.61 348.75,206.83 349.00,207.89 349.25,208.81 349.50,209.61 349.75,210.31 350.00,210.92 350.25,211.45 350.50,211.91 350.75,212.31 351.00,212.66 351.25,212.96 351.50,213.23 351.75,213.46 352.00,213.66 352.25,213.83 352.50,213.98 352.75,214.11 353.00,214.23 353.25,214.33 353.50,214.42 353.75,214.49 354.00,214.56 354.25,214.62 354.50,214.66 354.75,214.71 355.00,214.75 355.25,214.78 355.50,214.81 355.75,214.83 356.00,214.85 356.25,214.87 356.50,214.89 356.75,214.90 357.00,214.92 357.25,214.93 357.50,214.94 357.75,214.94 358.00,214.95 358.25,214.96 358.50,214.96 358.75,214.97 359.00,214.97 359.25,214.98 359.50,214.98 359.75,214.98 360.00,214.98 360.25,214.99 360.50,214.99 360.75,214.99 361.00,214.99 361.25,214.99 361.50,214.99 361.75,214.99 362.00,214.99 362.25,215.00 362.50,215.00 362.75,215.00 363.00,215.00 363.25,215.00 363.50,215.00 363.75,215.00 364.00,215.00 364.25,215.00 364.50,215.00 364.75,215.00 365.00,215.00 365.25,215.00 365.50,215.00 365.75,215.00 366.00,215.00 366.25,215.00 366.50,215.00 366.75,215.00 367.00,215.00 367.25,215.00 367.50,215.00 367.75,215.00 368.00,215.00 368.25,215.00 368.50,215.00 368.75,215.00 369.00,215.00 369.25,215.00 369.50,215.00 369.75,215.00 370.00,215.00 370.25,215.00 370.50,215.00 370.75,215.00 371.00,215.00 371.25,215.00 371.50,215.00 371.75,215.00 372.00,215.00 372.25,215.00 372.50,215.00 372.75,215.00 373.00,215.00 373.25,215.00 373.50,215.00 373.75,215.00 374.00,215.00 374.25,215.00 374.50,215.00 374.75,215.00 375.00,215.00 375.25,215.00 375.50,215.00 375.75,215.00 376.00,215.00 376.25,215.00 376.50,215.00 376.75,215.00 377.00,215.00 377.25,215.00 377.50,215.00 377.75,215.00 378.00,215.00 378.25,215.00 378.50,215.00 378.75,215.00 379.00,215.00 379.25,215.00 379.50,215.00 379.75,215.00 380.00,215.00 380.25,215.00 380.50,215.00 380.75,215.00 381.00,215.00 381.25,215.00 381.50,215.00 381.75,215.00 382.00,215.00 382.25,215.00 382.50,215.00 382.75,215.00 383.00,215.00 383.25,215.00 383.50,215.00 383.75,215.00 384.00,215.00 384.25,215.00 384.50,215.00 384.75,215.00 385.00,215.00 385.25,215.00 385.50,215.00 385.75,215.00 386.00,215.00 386.25,215.00 386.50,215.00 386.75,215.00 387.00,215.00 387.25,215.00 387.50,215.00 387.75,215.00 388.00,215.00 388.25,215.00 388.50,215.00 388.75,215.00 389.00,215.00 389.25,215.00 389.50,215.00 389.75,215.00 390.00,215.00 390.25,215.00 390.50,215.00 390.75,215.00 391.00,215.00 391.25,215.00 391.50,215.00 391.75,215.00 392.00,215.00 392.25,215.00 392.50,215.00 392.75,215.00 393.00,215.00 393.25,215.00 393.50,215.00 393.75,215.00 394.00,215.00 394.25,215.00 394.50,215.00 394.75,215.00 395.00,215.00 395.25,215.00 395.50,215.00 395.75,215.00 396.00,215.00 396.25,215.00 396.50,215.00 396.75,215.00 397.00,215.00 397.25,215.00 397.50,215.00 397.75,215.00 398.00,215.00 398.25,215.00 398.50,215.00 398.75,215.00 399.00,215.00 399.25,215.00 399.50,215.00 399.75,215.00 400.00,215.00 400.25,215.00 400.50,215.00 400.75,215.00 401.00,215.00 401.25,215.00 401.50,215.00 401.75,215.00 402.00,215.00 402.25,215.00 402.50,215.00 402.75,215.00 403.00,215.00 403.25,215.00 403.50,215.00 403.75,215.00 404.00,215.00 404.00,215.00" fill="none" stroke="#141414" stroke-width="0.85"/>
<polyline points="290.30,215.00 313.50,215.00 313.70,213.47 313.90,212.07 314.10,210.79 314.30,209.62 314.50,208.55 314.70,207.58 314.90,206.69 315.10,205.88 315.30,205.13 315.50,204.46 315.70,203.84 315.90,203.27 316.10,202.75 316.30,202.28 316.50,201.85 316.70,201.45 316.90,201.09 317.10,200.76 317.30,200.46 317.50,200.19 317.70,199.94 317.90,199.71 318.10,199.49 318.30,199.30 318.50,199.13 318.70,198.97 318.90,198.82 319.10,198.68 319.30,198.56 319.50,198.45 319.70,198.34 319.90,198.25 320.10,198.16 320.30,198.08 320.50,198.01 320.70,197.94 320.90,197.88 321.10,197.82 321.30,197.77 321.50,197.72 321.70,197.68 321.90,197.64 322.10,197.60 322.30,197.57 322.50,197.54 322.70,197.51 322.90,197.48 323.10,197.46 323.30,197.43 323.50,197.41 323.70,197.39 323.90,197.37 324.10,197.36 324.30,197.34 324.50,197.33 324.70,197.31 324.90,197.30 325.10,197.29 325.30,197.28 325.50,197.27 325.70,197.26 325.90,197.25 326.10,197.24 326.30,197.23 326.50,197.22 326.70,197.21 326.90,197.21 327.10,197.20 327.30,197.19 327.50,197.19 327.70,197.18 327.90,197.17 328.10,197.17 328.30,197.16 328.50,197.16 328.70,197.15 328.90,197.15 329.10,197.14 329.30,197.14 329.50,197.13 329.70,197.13 329.90,197.12 330.10,197.12 330.30,197.12 330.50,197.11 330.70,197.11 330.90,197.10 331.10,197.10 331.30,197.10 331.50,197.09 331.70,197.09 331.90,197.08 332.10,197.08 332.30,197.08 332.50,197.07 332.70,197.07 332.90,197.07 333.10,197.06 333.30,197.06 333.50,197.05 333.70,197.05 333.90,197.05 334.10,197.04 334.30,197.04 334.50,197.04 334.70,197.03 334.90,197.03 335.10,197.03 335.30,197.02 335.50,197.02 335.70,197.01 335.90,197.01 336.10,197.01 336.30,197.00 336.50,197.00 336.70,197.00 336.90,196.99 337.10,196.99 337.30,196.99 337.50,196.98 337.70,196.98 337.90,196.98 338.10,196.97 338.30,196.97 338.50,196.97 338.70,196.96 338.90,196.96 339.10,196.95 339.30,196.95 339.50,196.95 339.70,196.94 339.90,196.94 340.10,196.94 340.30,196.93 340.50,196.93 340.70,196.93 340.90,196.92 341.10,196.92 341.30,196.92 341.50,196.91 341.70,196.91 341.90,196.91 342.10,196.90 342.30,196.90 342.50,196.90 342.70,196.89 342.90,196.89 343.10,196.89 343.30,196.88 343.50,196.88 343.70,196.87 343.90,196.87 344.10,196.87 344.30,196.86 344.50,196.86 344.70,196.86 344.90,196.85 345.10,196.85 345.30,196.85 345.50,196.84 345.70,196.84 345.90,196.84 346.10,196.83 346.30,196.83 346.50,196.83 346.70,196.82 346.90,196.82 347.10,196.82 347.30,196.81 347.50,196.81 347.70,196.81 347.90,196.80 348.10,196.80 348.25,199.16 348.50,201.21 348.75,203.00 349.00,204.56 349.25,205.91 349.50,207.09 349.75,208.12 350.00,209.01 350.25,209.79 350.50,210.46 350.75,211.05 351.00,211.56 351.25,212.01 351.50,212.40 351.75,212.73 352.00,213.03 352.25,213.28 352.50,213.51 352.75,213.70 353.00,213.87 353.25,214.02 353.50,214.14 353.75,214.25 354.00,214.35 354.25,214.43 354.50,214.51 354.75,214.57 355.00,214.63 355.25,214.68 355.50,214.72 355.75,214.75 356.00,214.79 356.25,214.81 356.50,214.84 356.75,214.86 357.00,214.88 357.25,214.89 357.50,214.91 357.75,214.92 358.00,214.93 358.25,214.94 358.50,214.95 358.75,214.95 359.00,214.96 359.25,214.96 359.50,214.97 359.75,214.97 360.00,214.98 360.25,214.98 360.50,214.98 360.75,214.98 361.00,214.99 361.25,214.99 361.50,214.99 361.75,214.99 362.00,214.99 362.25,214.99 362.50,214.99 362.75,214.99 363.00,215.00 363.25,215.00 363.50,215.00 363.75,215.00 364.00,215.00 364.25,215.00 364.50,215.00 364.75,215.00 365.00,215.00 365.25,215.00 365.50,215.00 365.75,215.00 366.00,215.00 366.25,215.00 366.50,215.00 366.75,215.00 367.00,215.00 367.25,215.00 367.50,215.00 367.75,215.00 368.00,215.00 368.25,215.00 368.50,215.00 368.75,215.00 369.00,215.00 369.25,215.00 369.50,215.00 369.75,215.00 370.00,215.00 370.25,215.00 370.50,215.00 370.75,215.00 371.00,215.00 371.25,215.00 371.50,215.00 371.75,215.00 372.00,215.00 372.25,215.00 372.50,215.00 372.75,215.00 373.00,215.00 373.25,215.00 373.50,215.00 373.75,215.00 374.00,215.00 374.25,215.00 374.50,215.00 374.75,215.00 375.00,215.00 375.25,215.00 375.50,215.00 375.75,215.00 376.00,215.00 376.25,215.00 376.50,215.00 376.75,215.00 377.00,215.00 377.25,215.00 377.50,215.00 377.75,215.00 378.00,215.00 378.25,215.00 378.50,215.00 378.75,215.00 379.00,215.00 379.25,215.00 379.50,215.00 379.75,215.00 380.00,215.00 380.25,215.00 380.50,215.00 380.75,215.00 381.00,215.00 381.25,215.00 381.50,215.00 381.75,215.00 382.00,215.00 382.25,215.00 382.50,215.00 382.75,215.00 383.00,215.00 383.25,215.00 383.50,215.00 383.75,215.00 384.00,215.00 384.25,215.00 384.50,215.00 384.75,215.00 385.00,215.00 385.25,215.00 385.50,215.00 385.75,215.00 386.00,215.00 386.25,215.00 386.50,215.00 386.75,215.00 387.00,215.00 387.25,215.00 387.50,215.00 387.75,215.00 388.00,215.00 388.25,215.00 388.50,215.00 388.75,215.00 389.00,215.00 389.25,215.00 389.50,215.00 389.75,215.00 390.00,215.00 390.25,215.00 390.50,215.00 390.75,215.00 391.00,215.00 391.25,215.00 391.50,215.00 391.75,215.00 392.00,215.00 392.25,215.00 392.50,215.00 392.75,215.00 393.00,215.00 393.25,215.00 393.50,215.00 393.75,215.00 394.00,215.00 394.25,215.00 394.50,215.00 394.75,215.00 395.00,215.00 395.25,215.00 395.50,215.00 395.75,215.00 396.00,215.00 396.25,215.00 396.50,215.00 396.75,215.00 397.00,215.00 397.25,215.00 397.50,215.00 397.75,215.00 398.00,215.00 398.25,215.00 398.50,215.00 398.75,215.00 399.00,215.00 399.25,215.00 399.50,215.00 399.75,215.00 400.00,215.00 400.25,215.00 400.50,215.00 400.75,215.00 401.00,215.00 401.25,215.00 401.50,215.00 401.75,215.00 402.00,215.00 402.25,215.00 402.50,215.00 402.75,215.00 403.00,215.00 403.25,215.00 403.50,215.00 403.75,215.00 404.00,215.00 404.00,215.00" fill="none" stroke="#141414" stroke-width="0.85"/>
<polyline points="290.30,215.00 313.50,215.00 313.56,196.41 313.62,186.87 313.68,181.97 313.73,179.45 313.79,178.16 313.85,177.50 314.00,157.00 314.15,178.13 314.26,178.78 314.37,178.96 314.48,179.07 314.58,179.14 314.69,179.17 314.80,179.16 314.91,179.12 315.02,179.04 315.12,178.91 315.23,178.72 315.34,178.43 315.45,177.50 315.60,160.50 315.75,178.13 315.89,178.78 316.03,178.96 316.18,179.07 316.32,179.14 316.46,179.17 316.60,179.16 316.74,179.12 316.88,179.04 317.03,178.91 317.17,178.72 317.31,178.43 317.45,177.50 317.60,164.00 317.75,178.13 317.94,178.78 318.13,178.96 318.32,179.07 318.52,179.14 318.71,179.17 318.90,179.16 319.09,179.12 319.28,179.04 319.48,178.91 319.67,178.72 319.86,178.43 320.05,177.50 320.20,166.50 320.35,178.13 320.57,178.78 320.80,178.96 321.02,179.07 321.25,179.14 321.47,179.17 321.70,179.16 321.93,179.12 322.15,179.04 322.38,178.91 322.60,178.72 322.82,178.43 323.05,177.50 323.20,167.50 323.35,178.13 323.57,178.78 323.80,178.96 324.02,179.07 324.25,179.14 324.47,179.17 324.70,179.16 324.93,179.12 325.15,179.04 325.38,178.91 325.60,178.72 325.82,178.43 326.05,177.50 326.20,168.50 326.35,178.13 326.57,178.78 326.80,178.96 327.02,179.07 327.25,179.14 327.47,179.17 327.70,179.16 327.93,179.12 328.15,179.04 328.38,178.91 328.60,178.72 328.82,178.43 329.05,177.50 329.20,167.00 329.35,178.13 329.59,178.78 329.83,178.96 330.07,179.07 330.32,179.14 330.56,179.17 330.80,179.16 331.04,179.12 331.28,179.04 331.52,178.91 331.77,178.72 332.01,178.43 332.25,177.50 332.40,169.00 332.55,178.13 332.79,178.78 333.03,178.96 333.27,179.07 333.52,179.14 333.76,179.17 334.00,179.16 334.24,179.12 334.48,179.04 334.73,178.91 334.97,178.72 335.21,178.43 335.45,177.50 335.60,168.00 335.75,178.13 335.99,178.78 336.23,178.96 336.48,179.07 336.72,179.14 336.96,179.17 337.20,179.16 337.44,179.12 337.68,179.04 337.93,178.91 338.17,178.72 338.41,178.43 338.65,177.50 338.80,169.50 338.95,178.13 339.19,178.78 339.43,178.96 339.68,179.07 339.92,179.14 340.16,179.17 340.40,179.16 340.64,179.12 340.88,179.04 341.12,178.91 341.37,178.72 341.61,178.43 341.85,177.50 342.00,168.20 342.15,178.13 342.41,178.78 342.67,178.96 342.92,179.07 343.18,179.14 343.44,179.17 343.70,179.16 343.96,179.12 344.22,179.04 344.48,178.91 344.73,178.72 344.99,178.43 345.25,177.50 345.40,169.00 345.55,178.13 345.86,177.89 346.16,178.25 346.47,178.57 346.77,178.83 347.08,179.01 347.39,179.11 347.69,179.11 348.00,179.02 348.25,182.36 348.50,186.60 348.75,190.28 349.00,193.48 349.25,196.27 349.50,198.70 349.75,200.82 350.00,202.66 350.25,204.26 350.50,205.65 350.75,206.86 351.00,207.92 351.25,208.84 351.50,209.63 351.75,210.33 352.00,210.94 352.25,211.46 352.50,211.92 352.75,212.32 353.00,212.67 353.25,212.97 353.50,213.23 353.75,213.46 354.00,213.66 354.25,213.84 354.50,213.99 354.75,214.12 355.00,214.23 355.25,214.33 355.50,214.42 355.75,214.49 356.00,214.56 356.25,214.62 356.50,214.67 356.75,214.71 357.00,214.75 357.25,214.78 357.50,214.81 357.75,214.83 358.00,214.86 358.25,214.87 358.50,214.89 358.75,214.90 359.00,214.92 359.25,214.93 359.50,214.94 359.75,214.95 360.00,214.95 360.25,214.96 360.50,214.96 360.75,214.97 361.00,214.97 361.25,214.98 361.50,214.98 361.75,214.98 362.00,214.98 362.25,214.99 362.50,214.99 362.75,214.99 363.00,214.99 363.25,214.99 363.50,214.99 363.75,214.99 364.00,214.99 364.25,215.00 364.50,215.00 364.75,215.00 365.00,215.00 365.25,215.00 365.50,215.00 365.75,215.00 366.00,215.00 366.25,215.00 366.50,215.00 366.75,215.00 367.00,215.00 367.25,215.00 367.50,215.00 367.75,215.00 368.00,215.00 368.25,215.00 368.50,215.00 368.75,215.00 369.00,215.00 369.25,215.00 369.50,215.00 369.75,215.00 370.00,215.00 370.25,215.00 370.50,215.00 370.75,215.00 371.00,215.00 371.25,215.00 371.50,215.00 371.75,215.00 372.00,215.00 372.25,215.00 372.50,215.00 372.75,215.00 373.00,215.00 373.25,215.00 373.50,215.00 373.75,215.00 374.00,215.00 374.25,215.00 374.50,215.00 374.75,215.00 375.00,215.00 375.25,215.00 375.50,215.00 375.75,215.00 376.00,215.00 376.25,215.00 376.50,215.00 376.75,215.00 377.00,215.00 377.25,215.00 377.50,215.00 377.75,215.00 378.00,215.00 378.25,215.00 378.50,215.00 378.75,215.00 379.00,215.00 379.25,215.00 379.50,215.00 379.75,215.00 380.00,215.00 380.25,215.00 380.50,215.00 380.75,215.00 381.00,215.00 381.25,215.00 381.50,215.00 381.75,215.00 382.00,215.00 382.25,215.00 382.50,215.00 382.75,215.00 383.00,215.00 383.25,215.00 383.50,215.00 383.75,215.00 384.00,215.00 384.25,215.00 384.50,215.00 384.75,215.00 385.00,215.00 385.25,215.00 385.50,215.00 385.75,215.00 386.00,215.00 386.25,215.00 386.50,215.00 386.75,215.00 387.00,215.00 387.25,215.00 387.50,215.00 387.75,215.00 388.00,215.00 388.25,215.00 388.50,215.00 388.75,215.00 389.00,215.00 389.25,215.00 389.50,215.00 389.75,215.00 390.00,215.00 390.25,215.00 390.50,215.00 390.75,215.00 391.00,215.00 391.25,215.00 391.50,215.00 391.75,215.00 392.00,215.00 392.25,215.00 392.50,215.00 392.75,215.00 393.00,215.00 393.25,215.00 393.50,215.00 393.75,215.00 394.00,215.00 394.25,215.00 394.50,215.00 394.75,215.00 395.00,215.00 395.25,215.00 395.50,215.00 395.75,215.00 396.00,215.00 396.25,215.00 396.50,215.00 396.75,215.00 397.00,215.00 397.25,215.00 397.50,215.00 397.75,215.00 398.00,215.00 398.25,215.00 398.50,215.00 398.75,215.00 399.00,215.00 399.25,215.00 399.50,215.00 399.75,215.00 400.00,215.00 400.25,215.00 400.50,215.00 400.75,215.00 401.00,215.00 401.25,215.00 401.50,215.00 401.75,215.00 402.00,215.00 402.25,215.00 402.50,215.00 402.75,215.00 403.00,215.00 403.25,215.00 403.50,215.00 403.75,215.00 404.00,215.00 404.00,215.00" fill="none" stroke="#2a2a2a" stroke-width="0.5"/>
<polyline points="290.30,215.00 313.50,215.00 313.59,198.15 313.68,189.50 313.77,185.05 313.87,182.77 313.96,181.60 314.05,181.00 314.20,158.50 314.35,182.61 314.60,184.26 314.85,184.72 315.10,185.01 315.35,185.19 315.60,185.27 315.85,185.25 316.10,185.15 316.35,184.94 316.60,184.61 316.85,184.12 317.10,183.37 317.35,181.00 317.50,164.00 317.65,182.61 318.00,184.26 318.35,184.72 318.70,185.01 319.05,185.19 319.40,185.27 319.75,185.25 320.10,185.15 320.45,184.94 320.80,184.61 321.15,184.12 321.50,183.37 321.85,181.00 322.00,166.50 322.15,182.61 322.54,184.26 322.93,184.72 323.32,185.01 323.72,185.19 324.11,185.27 324.50,185.25 324.89,185.15 325.28,184.94 325.68,184.61 326.07,184.12 326.46,183.37 326.85,181.00 327.00,167.50 327.15,182.61 327.50,184.26 327.85,184.72 328.20,185.01 328.55,185.19 328.90,185.27 329.25,185.25 329.60,185.15 329.95,184.94 330.30,184.61 330.65,184.12 331.00,183.37 331.35,181.00 331.50,168.00 331.65,182.61 332.00,184.26 332.35,184.72 332.70,185.01 333.05,185.19 333.40,185.27 333.75,185.25 334.10,185.15 334.45,184.94 334.80,184.61 335.15,184.12 335.50,183.37 335.85,181.00 336.00,168.00 336.15,182.61 336.54,184.26 336.93,184.72 337.32,185.01 337.72,185.19 338.11,185.27 338.50,185.25 338.89,185.15 339.28,184.94 339.68,184.61 340.07,184.12 340.46,183.37 340.85,181.00 341.00,168.50 341.15,182.61 341.54,184.26 341.93,184.72 342.32,185.01 342.72,185.19 343.11,185.27 343.50,185.25 343.89,185.15 344.28,184.94 344.68,184.61 345.07,184.12 345.46,183.37 345.85,181.00 346.00,169.00 346.15,182.61 346.38,181.75 346.61,182.47 346.84,183.15 347.07,183.75 347.31,184.26 347.54,184.67 347.77,184.96 348.00,185.11 348.25,185.41 348.50,189.25 348.75,192.59 349.00,195.49 349.25,198.02 349.50,200.22 349.75,202.14 350.00,203.81 350.25,205.26 350.50,206.52 350.75,207.62 351.00,208.58 351.25,209.41 351.50,210.14 351.75,210.77 352.00,211.32 352.25,211.79 352.50,212.21 352.75,212.57 353.00,212.89 353.25,213.16 353.50,213.40 353.75,213.61 354.00,213.79 354.25,213.94 354.50,214.08 354.75,214.20 355.00,214.30 355.25,214.39 355.50,214.47 355.75,214.54 356.00,214.60 356.25,214.65 356.50,214.70 356.75,214.74 357.00,214.77 357.25,214.80 357.50,214.83 357.75,214.85 358.00,214.87 358.25,214.89 358.50,214.90 358.75,214.91 359.00,214.92 359.25,214.93 359.50,214.94 359.75,214.95 360.00,214.96 360.25,214.96 360.50,214.97 360.75,214.97 361.00,214.98 361.25,214.98 361.50,214.98 361.75,214.98 362.00,214.99 362.25,214.99 362.50,214.99 362.75,214.99 363.00,214.99 363.25,214.99 363.50,214.99 363.75,214.99 364.00,215.00 364.25,215.00 364.50,215.00 364.75,215.00 365.00,215.00 365.25,215.00 365.50,215.00 365.75,215.00 366.00,215.00 366.25,215.00 366.50,215.00 366.75,215.00 367.00,215.00 367.25,215.00 367.50,215.00 367.75,215.00 368.00,215.00 368.25,215.00 368.50,215.00 368.75,215.00 369.00,215.00 369.25,215.00 369.50,215.00 369.75,215.00 370.00,215.00 370.25,215.00 370.50,215.00 370.75,215.00 371.00,215.00 371.25,215.00 371.50,215.00 371.75,215.00 372.00,215.00 372.25,215.00 372.50,215.00 372.75,215.00 373.00,215.00 373.25,215.00 373.50,215.00 373.75,215.00 374.00,215.00 374.25,215.00 374.50,215.00 374.75,215.00 375.00,215.00 375.25,215.00 375.50,215.00 375.75,215.00 376.00,215.00 376.25,215.00 376.50,215.00 376.75,215.00 377.00,215.00 377.25,215.00 377.50,215.00 377.75,215.00 378.00,215.00 378.25,215.00 378.50,215.00 378.75,215.00 379.00,215.00 379.25,215.00 379.50,215.00 379.75,215.00 380.00,215.00 380.25,215.00 380.50,215.00 380.75,215.00 381.00,215.00 381.25,215.00 381.50,215.00 381.75,215.00 382.00,215.00 382.25,215.00 382.50,215.00 382.75,215.00 383.00,215.00 383.25,215.00 383.50,215.00 383.75,215.00 384.00,215.00 384.25,215.00 384.50,215.00 384.75,215.00 385.00,215.00 385.25,215.00 385.50,215.00 385.75,215.00 386.00,215.00 386.25,215.00 386.50,215.00 386.75,215.00 387.00,215.00 387.25,215.00 387.50,215.00 387.75,215.00 388.00,215.00 388.25,215.00 388.50,215.00 388.75,215.00 389.00,215.00 389.25,215.00 389.50,215.00 389.75,215.00 390.00,215.00 390.25,215.00 390.50,215.00 390.75,215.00 391.00,215.00 391.25,215.00 391.50,215.00 391.75,215.00 392.00,215.00 392.25,215.00 392.50,215.00 392.75,215.00 393.00,215.00 393.25,215.00 393.50,215.00 393.75,215.00 394.00,215.00 394.25,215.00 394.50,215.00 394.75,215.00 395.00,215.00 395.25,215.00 395.50,215.00 395.75,215.00 396.00,215.00 396.25,215.00 396.50,215.00 396.75,215.00 397.00,215.00 397.25,215.00 397.50,215.00 397.75,215.00 398.00,215.00 398.25,215.00 398.50,215.00 398.75,215.00 399.00,215.00 399.25,215.00 399.50,215.00 399.75,215.00 400.00,215.00 400.25,215.00 400.50,215.00 400.75,215.00 401.00,215.00 401.25,215.00 401.50,215.00 401.75,215.00 402.00,215.00 402.25,215.00 402.50,215.00 402.75,215.00 403.00,215.00 403.25,215.00 403.50,215.00 403.75,215.00 404.00,215.00 404.00,215.00" fill="none" stroke="#2a2a2a" stroke-width="0.5"/>
<polyline points="290.30,215.00 313.50,215.00 313.62,200.82 313.75,193.55 313.88,189.81 314.00,187.89 314.12,186.91 314.25,186.40 314.40,159.50 314.55,188.01 314.87,189.66 315.18,190.12 315.50,190.41 315.82,190.59 316.13,190.67 316.45,190.66 316.77,190.55 317.08,190.34 317.40,190.01 317.72,189.52 318.03,188.77 318.35,186.40 318.50,165.00 318.65,188.01 319.08,189.66 319.52,190.12 319.95,190.41 320.38,190.59 320.82,190.67 321.25,190.66 321.68,190.55 322.12,190.34 322.55,190.01 322.98,189.52 323.42,188.77 323.85,186.40 324.00,167.00 324.15,188.01 324.58,189.66 325.02,190.12 325.45,190.41 325.88,190.59 326.32,190.67 326.75,190.66 327.18,190.55 327.62,190.34 328.05,190.01 328.48,189.52 328.92,188.77 329.35,186.40 329.50,168.00 329.65,188.01 330.08,189.66 330.52,190.12 330.95,190.41 331.38,190.59 331.82,190.67 332.25,190.66 332.68,190.55 333.12,190.34 333.55,190.01 333.98,189.52 334.42,188.77 334.85,186.40 335.00,168.50 335.15,188.01 335.62,189.66 336.10,190.12 336.57,190.41 337.05,190.59 337.52,190.67 338.00,190.66 338.48,190.55 338.95,190.34 339.43,190.01 339.90,189.52 340.38,188.77 340.85,186.40 341.00,169.00 341.15,188.01 341.58,189.66 342.02,190.12 342.45,190.41 342.88,190.59 343.32,190.67 343.75,190.66 344.18,190.55 344.62,190.34 345.05,190.01 345.48,189.52 345.92,188.77 346.35,186.40 346.50,169.00 346.65,188.01 346.82,186.95 346.99,187.48 347.16,188.00 347.32,188.49 347.49,188.95 347.66,189.36 347.83,189.71 348.00,190.01 348.25,190.11 348.50,193.34 348.75,196.15 349.00,198.59 349.25,200.72 349.50,202.57 349.75,204.18 350.00,205.59 350.25,206.81 350.50,207.87 350.75,208.79 351.00,209.60 351.25,210.30 351.50,210.91 351.75,211.44 352.00,211.90 352.25,212.30 352.50,212.65 352.75,212.96 353.00,213.22 353.25,213.45 353.50,213.65 353.75,213.83 354.00,213.98 354.25,214.11 354.50,214.23 354.75,214.33 355.00,214.41 355.25,214.49 355.50,214.56 355.75,214.61 356.00,214.66 356.25,214.71 356.50,214.75 356.75,214.78 357.00,214.81 357.25,214.83 357.50,214.85 357.75,214.87 358.00,214.89 358.25,214.90 358.50,214.92 358.75,214.93 359.00,214.94 359.25,214.94 359.50,214.95 359.75,214.96 360.00,214.96 360.25,214.97 360.50,214.97 360.75,214.98 361.00,214.98 361.25,214.98 361.50,214.98 361.75,214.99 362.00,214.99 362.25,214.99 362.50,214.99 362.75,214.99 363.00,214.99 363.25,214.99 363.50,214.99 363.75,215.00 364.00,215.00 364.25,215.00 364.50,215.00 364.75,215.00 365.00,215.00 365.25,215.00 365.50,215.00 365.75,215.00 366.00,215.00 366.25,215.00 366.50,215.00 366.75,215.00 367.00,215.00 367.25,215.00 367.50,215.00 367.75,215.00 368.00,215.00 368.25,215.00 368.50,215.00 368.75,215.00 369.00,215.00 369.25,215.00 369.50,215.00 369.75,215.00 370.00,215.00 370.25,215.00 370.50,215.00 370.75,215.00 371.00,215.00 371.25,215.00 371.50,215.00 371.75,215.00 372.00,215.00 372.25,215.00 372.50,215.00 372.75,215.00 373.00,215.00 373.25,215.00 373.50,215.00 373.75,215.00 374.00,215.00 374.25,215.00 374.50,215.00 374.75,215.00 375.00,215.00 375.25,215.00 375.50,215.00 375.75,215.00 376.00,215.00 376.25,215.00 376.50,215.00 376.75,215.00 377.00,215.00 377.25,215.00 377.50,215.00 377.75,215.00 378.00,215.00 378.25,215.00 378.50,215.00 378.75,215.00 379.00,215.00 379.25,215.00 379.50,215.00 379.75,215.00 380.00,215.00 380.25,215.00 380.50,215.00 380.75,215.00 381.00,215.00 381.25,215.00 381.50,215.00 381.75,215.00 382.00,215.00 382.25,215.00 382.50,215.00 382.75,215.00 383.00,215.00 383.25,215.00 383.50,215.00 383.75,215.00 384.00,215.00 384.25,215.00 384.50,215.00 384.75,215.00 385.00,215.00 385.25,215.00 385.50,215.00 385.75,215.00 386.00,215.00 386.25,215.00 386.50,215.00 386.75,215.00 387.00,215.00 387.25,215.00 387.50,215.00 387.75,215.00 388.00,215.00 388.25,215.00 388.50,215.00 388.75,215.00 389.00,215.00 389.25,215.00 389.50,215.00 389.75,215.00 390.00,215.00 390.25,215.00 390.50,215.00 390.75,215.00 391.00,215.00 391.25,215.00 391.50,215.00 391.75,215.00 392.00,215.00 392.25,215.00 392.50,215.00 392.75,215.00 393.00,215.00 393.25,215.00 393.50,215.00 393.75,215.00 394.00,215.00 394.25,215.00 394.50,215.00 394.75,215.00 395.00,215.00 395.25,215.00 395.50,215.00 395.75,215.00 396.00,215.00 396.25,215.00 396.50,215.00 396.75,215.00 397.00,215.00 397.25,215.00 397.50,215.00 397.75,215.00 398.00,215.00 398.25,215.00 398.50,215.00 398.75,215.00 399.00,215.00 399.25,215.00 399.50,215.00 399.75,215.00 400.00,215.00 400.25,215.00 400.50,215.00 400.75,215.00 401.00,215.00 401.25,215.00 401.50,215.00 401.75,215.00 402.00,215.00 402.25,215.00 402.50,215.00 402.75,215.00 403.00,215.00 403.25,215.00 403.50,215.00 403.75,215.00 404.00,215.00 404.00,215.00" fill="none" stroke="#2a2a2a" stroke-width="0.5"/>
<polyline points="290.30,215.00 313.50,215.00 313.68,203.10 313.85,197.00 314.02,193.86 314.20,192.25 314.38,191.42 314.55,191.00 314.70,161.00 314.85,192.75 315.31,194.55 315.77,195.05 316.22,195.36 316.68,195.55 317.14,195.64 317.60,195.62 318.06,195.51 318.52,195.28 318.98,194.92 319.43,194.39 319.89,193.57 320.35,191.00 320.50,166.00 320.65,192.75 321.21,194.55 321.77,195.05 322.32,195.36 322.88,195.55 323.44,195.64 324.00,195.62 324.56,195.51 325.12,195.28 325.68,194.92 326.23,194.39 326.79,193.57 327.35,191.00 327.50,168.00 327.65,192.75 328.29,194.55 328.93,195.05 329.57,195.36 330.22,195.55 330.86,195.64 331.50,195.62 332.14,195.51 332.78,195.28 333.43,194.92 334.07,194.39 334.71,193.57 335.35,191.00 335.50,169.00 335.65,192.75 336.38,194.55 337.10,195.05 337.82,195.36 338.55,195.55 339.27,195.64 340.00,195.62 340.73,195.51 341.45,195.28 342.18,194.92 342.90,194.39 343.62,193.57 344.35,191.00 344.50,169.50 344.65,192.75 345.07,192.45 345.49,193.75 345.91,194.75 346.32,195.35 346.74,195.49 347.16,195.14 347.58,194.35 348.00,193.20 348.25,194.11 348.50,196.82 348.75,199.18 349.00,201.23 349.25,203.02 349.50,204.57 349.75,205.92 350.00,207.10 350.25,208.12 350.50,209.02 350.75,209.79 351.00,210.47 351.25,211.05 351.50,211.57 351.75,212.01 352.00,212.40 352.25,212.74 352.50,213.03 352.75,213.29 353.00,213.51 353.25,213.70 353.50,213.87 353.75,214.02 354.00,214.14 354.25,214.25 354.50,214.35 354.75,214.44 355.00,214.51 355.25,214.57 355.50,214.63 355.75,214.68 356.00,214.72 356.25,214.75 356.50,214.79 356.75,214.81 357.00,214.84 357.25,214.86 357.50,214.88 357.75,214.89 358.00,214.91 358.25,214.92 358.50,214.93 358.75,214.94 359.00,214.95 359.25,214.95 359.50,214.96 359.75,214.96 360.00,214.97 360.25,214.97 360.50,214.98 360.75,214.98 361.00,214.98 361.25,214.98 361.50,214.99 361.75,214.99 362.00,214.99 362.25,214.99 362.50,214.99 362.75,214.99 363.00,214.99 363.25,214.99 363.50,215.00 363.75,215.00 364.00,215.00 364.25,215.00 364.50,215.00 364.75,215.00 365.00,215.00 365.25,215.00 365.50,215.00 365.75,215.00 366.00,215.00 366.25,215.00 366.50,215.00 366.75,215.00 367.00,215.00 367.25,215.00 367.50,215.00 367.75,215.00 368.00,215.00 368.25,215.00 368.50,215.00 368.75,215.00 369.00,215.00 369.25,215.00 369.50,215.00 369.75,215.00 370.00,215.00 370.25,215.00 370.50,215.00 370.75,215.00 371.00,215.00 371.25,215.00 371.50,215.00 371.75,215.00 372.00,215.00 372.25,215.00 372.50,215.00 372.75,215.00 373.00,215.00 373.25,215.00 373.50,215.00 373.75,215.00 374.00,215.00 374.25,215.00 374.50,215.00 374.75,215.00 375.00,215.00 375.25,215.00 375.50,215.00 375.75,215.00 376.00,215.00 376.25,215.00 376.50,215.00 376.75,215.00 377.00,215.00 377.25,215.00 377.50,215.00 377.75,215.00 378.00,215.00 378.25,215.00 378.50,215.00 378.75,215.00 379.00,215.00 379.25,215.00 379.50,215.00 379.75,215.00 380.00,215.00 380.25,215.00 380.50,215.00 380.75,215.00 381.00,215.00 381.25,215.00 381.50,215.00 381.75,215.00 382.00,215.00 382.25,215.00 382.50,215.00 382.75,215.00 383.00,215.00 383.25,215.00 383.50,215.00 383.75,215.00 384.00,215.00 384.25,215.00 384.50,215.00 384.75,215.00 385.00,215.00 385.25,215.00 385.50,215.00 385.75,215.00 386.00,215.00 386.25,215.00 386.50,215.00 386.75,215.00 387.00,215.00 387.25,215.00 387.50,215.00 387.75,215.00 388.00,215.00 388.25,215.00 388.50,215.00 388.75,215.00 389.00,215.00 389.25,215.00 389.50,215.00 389.75,215.00 390.00,215.00 390.25,215.00 390.50,215.00 390.75,215.00 391.00,215.00 391.25,215.00 391.50,215.00 391.75,215.00 392.00,215.00 392.25,215.00 392.50,215.00 392.75,215.00 393.00,215.00 393.25,215.00 393.50,215.00 393.75,215.00 394.00,215.00 394.25,215.00 394.50,215.00 394.75,215.00 395.00,215.00 395.25,215.00 395.50,215.00 395.75,215.00 396.00,215.00 396.25,215.00 396.50,215.00 396.75,215.00 397.00,215.00 397.25,215.00 397.50,215.00 397.75,215.00 398.00,215.00 398.25,215.00 398.50,215.00 398.75,215.00 399.00,215.00 399.25,215.00 399.50,215.00 399.75,215.00 400.00,215.00 400.25,215.00 400.50,215.00 400.75,215.00 401.00,215.00 401.25,215.00 401.50,215.00 401.75,215.00 402.00,215.00 402.25,215.00 402.50,215.00 402.75,215.00 403.00,215.00 403.25,215.00 403.50,215.00 403.75,215.00 404.00,215.00 404.00,215.00" fill="none" stroke="#2a2a2a" stroke-width="0.5"/>
<line x1="290.30" y1="215.00" x2="314.00" y2="215.00" stroke="#0a0a0a" stroke-width="1.4"/>
<line x1="353.00" y1="215.00" x2="404.00" y2="215.00" stroke="#0a0a0a" stroke-width="1.4"/>
<line x1="313.50" y1="215.00" x2="348.00" y2="215.00" stroke="#111" stroke-width="1.0"/>
<line x1="435.50" y1="118.50" x2="435.50" y2="236.20" stroke="#1a1a1a" stroke-width="1.0"/>
<line x1="433.30" y1="134.50" x2="435.50" y2="134.50" stroke="#1a1a1a" stroke-width="1.0"/>
<text x="432.10" y="137.60" font-size="9" font-weight="bold" text-anchor="end" fill="#000" stroke="#000" stroke-width="0.22">10</text>
<line x1="433.30" y1="185.50" x2="435.50" y2="185.50" stroke="#1a1a1a" stroke-width="1.0"/>
<text x="432.10" y="188.40" font-size="9" font-weight="bold" text-anchor="end" fill="#000" stroke="#000" stroke-width="0.22">5</text>
<line x1="433.30" y1="236.50" x2="435.50" y2="236.50" stroke="#1a1a1a" stroke-width="1.0"/>
<text x="432.10" y="239.20" font-size="9" font-weight="bold" text-anchor="end" fill="#000" stroke="#000" stroke-width="0.22">0</text>
<line x1="440.60" y1="241.50" x2="544.00" y2="241.50" stroke="#1a1a1a" stroke-width="1.0"/>
<line x1="440.60" y1="241.50" x2="440.60" y2="243.80" stroke="#1a1a1a" stroke-width="1.0"/>
<line x1="461.00" y1="241.50" x2="461.00" y2="243.80" stroke="#1a1a1a" stroke-width="1.0"/>
<line x1="494.60" y1="241.50" x2="494.60" y2="243.80" stroke="#1a1a1a" stroke-width="1.0"/>
<line x1="527.60" y1="241.50" x2="527.60" y2="243.80" stroke="#1a1a1a" stroke-width="1.0"/>
<text x="439.10" y="253.30" font-size="9.3" font-weight="bold" text-anchor="middle" fill="#000" stroke="#000" stroke-width="0.22">−100</text>
<text x="461.30" y="253.30" font-size="9.5" font-weight="bold" text-anchor="middle" fill="#000" stroke="#000" stroke-width="0.22">0</text>
<text x="495.00" y="253.30" font-size="9.5" font-weight="bold" text-anchor="middle" fill="#000" stroke="#000" stroke-width="0.22">200</text>
<text x="528.00" y="253.30" font-size="9.5" font-weight="bold" text-anchor="middle" fill="#000" stroke="#000" stroke-width="0.22">400</text>
<text x="489.70" y="266.60" font-size="9.85" font-weight="bold" text-anchor="middle" fill="#000" stroke="#000" stroke-width="0.22">Current (pA)</text>
<text x="418.60" y="184.70" font-size="10.1" font-weight="bold" text-anchor="middle" fill="#000" stroke="#000" stroke-width="0.22" transform="rotate(-90 418.6 184.7)">Number of spikes</text>
<line x1="471.80" y1="233.00" x2="471.80" y2="234.00" stroke="#c4c4c4" stroke-width="1.0"/>
<rect x="469.60" y="231.30" width="4.40" height="4.40" fill="#a8a8a8" stroke="none" stroke-width="1"/>
<line x1="479.90" y1="217.50" x2="479.90" y2="224.50" stroke="#c4c4c4" stroke-width="1.0"/>
<rect x="477.70" y="218.80" width="4.40" height="4.40" fill="#a8a8a8" stroke="none" stroke-width="1"/>
<line x1="489.20" y1="200.20" x2="489.20" y2="210.20" stroke="#c4c4c4" stroke-width="1.0"/>
<rect x="487.00" y="203.00" width="4.40" height="4.40" fill="#a8a8a8" stroke="none" stroke-width="1"/>
<line x1="497.30" y1="188.60" x2="497.30" y2="198.60" stroke="#c4c4c4" stroke-width="1.0"/>
<rect x="495.10" y="191.40" width="4.40" height="4.40" fill="#a8a8a8" stroke="none" stroke-width="1"/>
<line x1="505.40" y1="181.10" x2="505.40" y2="191.10" stroke="#c4c4c4" stroke-width="1.0"/>
<rect x="503.20" y="183.90" width="4.40" height="4.40" fill="#a8a8a8" stroke="none" stroke-width="1"/>
<line x1="514.00" y1="176.50" x2="514.00" y2="186.50" stroke="#c4c4c4" stroke-width="1.0"/>
<rect x="511.80" y="179.30" width="4.40" height="4.40" fill="#a8a8a8" stroke="none" stroke-width="1"/>
<line x1="522.40" y1="175.60" x2="522.40" y2="184.60" stroke="#c4c4c4" stroke-width="1.0"/>
<rect x="520.20" y="177.90" width="4.40" height="4.40" fill="#a8a8a8" stroke="none" stroke-width="1"/>
<line x1="531.00" y1="175.80" x2="531.00" y2="184.80" stroke="#c4c4c4" stroke-width="1.0"/>
<rect x="528.80" y="178.10" width="4.40" height="4.40" fill="#a8a8a8" stroke="none" stroke-width="1"/>
<line x1="539.10" y1="175.80" x2="539.10" y2="184.80" stroke="#c4c4c4" stroke-width="1.0"/>
<rect x="536.90" y="178.10" width="4.40" height="4.40" fill="#a8a8a8" stroke="none" stroke-width="1"/>
<rect x="440.80" y="234.20" width="3.80" height="3.80" fill="#fff" stroke="#111" stroke-width="1.1"/>
<rect x="449.00" y="234.20" width="3.80" height="3.80" fill="#fff" stroke="#111" stroke-width="1.1"/>
<rect x="457.20" y="234.20" width="3.80" height="3.80" fill="#fff" stroke="#111" stroke-width="1.1"/>
<rect x="465.40" y="234.20" width="3.80" height="3.80" fill="#fff" stroke="#111" stroke-width="1.1"/>
<line x1="475.70" y1="234.20" x2="475.70" y2="235.20" stroke="#555" stroke-width="1.0"/>
<rect x="473.80" y="232.80" width="3.80" height="3.80" fill="#fff" stroke="#111" stroke-width="1.1"/>
<line x1="484.50" y1="220.50" x2="484.50" y2="231.50" stroke="#555" stroke-width="1.0"/>
<rect x="482.60" y="224.10" width="3.80" height="3.80" fill="#fff" stroke="#111" stroke-width="1.1"/>
<line x1="492.70" y1="208.70" x2="492.70" y2="221.70" stroke="#555" stroke-width="1.0"/>
<rect x="490.80" y="213.30" width="3.80" height="3.80" fill="#fff" stroke="#111" stroke-width="1.1"/>
<line x1="501.30" y1="196.80" x2="501.30" y2="209.80" stroke="#555" stroke-width="1.0"/>
<rect x="499.40" y="201.40" width="3.80" height="3.80" fill="#fff" stroke="#111" stroke-width="1.1"/>
<line x1="509.60" y1="185.70" x2="509.60" y2="197.70" stroke="#555" stroke-width="1.0"/>
<rect x="507.70" y="189.80" width="3.80" height="3.80" fill="#fff" stroke="#111" stroke-width="1.1"/>
<line x1="517.70" y1="181.10" x2="517.70" y2="191.10" stroke="#555" stroke-width="1.0"/>
<rect x="515.80" y="184.20" width="3.80" height="3.80" fill="#fff" stroke="#111" stroke-width="1.1"/>
<line x1="525.90" y1="175.10" x2="525.90" y2="184.10" stroke="#555" stroke-width="1.0"/>
<rect x="524.00" y="177.70" width="3.80" height="3.80" fill="#fff" stroke="#111" stroke-width="1.1"/>
<line x1="534.50" y1="172.60" x2="534.50" y2="180.60" stroke="#555" stroke-width="1.0"/>
<rect x="532.60" y="174.70" width="3.80" height="3.80" fill="#fff" stroke="#111" stroke-width="1.1"/>
<line x1="478.30" y1="216.80" x2="478.30" y2="223.80" stroke="#222" stroke-width="1.1"/>
<rect x="476.00" y="218.00" width="4.60" height="4.60" fill="#000" stroke="none" stroke-width="1"/>
<line x1="486.40" y1="196.40" x2="486.40" y2="208.40" stroke="#222" stroke-width="1.1"/>
<rect x="484.10" y="200.10" width="4.60" height="4.60" fill="#000" stroke="none" stroke-width="1"/>
<line x1="495.00" y1="177.30" x2="495.00" y2="190.30" stroke="#222" stroke-width="1.1"/>
<rect x="492.70" y="181.50" width="4.60" height="4.60" fill="#000" stroke="none" stroke-width="1"/>
<line x1="503.40" y1="161.90" x2="503.40" y2="177.90" stroke="#222" stroke-width="1.1"/>
<rect x="501.10" y="167.60" width="4.60" height="4.60" fill="#000" stroke="none" stroke-width="1"/>
<line x1="511.70" y1="149.70" x2="511.70" y2="167.70" stroke="#222" stroke-width="1.1"/>
<rect x="509.40" y="156.40" width="4.60" height="4.60" fill="#000" stroke="none" stroke-width="1"/>
<line x1="520.00" y1="142.30" x2="520.00" y2="160.30" stroke="#222" stroke-width="1.1"/>
<rect x="517.70" y="149.00" width="4.60" height="4.60" fill="#000" stroke="none" stroke-width="1"/>
<line x1="528.70" y1="133.70" x2="528.70" y2="152.70" stroke="#222" stroke-width="1.1"/>
<rect x="526.40" y="140.90" width="4.60" height="4.60" fill="#000" stroke="none" stroke-width="1"/>
<line x1="536.80" y1="127.30" x2="536.80" y2="149.30" stroke="#222" stroke-width="1.1"/>
<rect x="534.50" y="136.00" width="4.60" height="4.60" fill="#000" stroke="none" stroke-width="1"/>
<rect x="441.20" y="118.70" width="3.60" height="3.60" fill="#fff" stroke="#111" stroke-width="1.0"/>
<text x="447.60" y="124.00" font-size="9.8" font-weight="bold" text-anchor="start" fill="#000" stroke="#000" stroke-width="0.22">Saline + IA</text>
<rect x="441.00" y="129.80" width="4.20" height="4.20" fill="#000" stroke="none" stroke-width="1"/>
<text x="447.60" y="135.30" font-size="9.8" font-weight="bold" text-anchor="start" fill="#000" stroke="#000" stroke-width="0.22">Aβ<tspan font-size="7" dy="1.8">1-42</tspan><tspan dy="-1.8"> + IA</tspan></text>
<path d="M501.80,128.00L501.80,132.80M499.72,129.20L503.88,131.60M503.88,129.20L499.72,131.60" stroke="#4a4a4a" stroke-width="1.4" fill="none"/>
<path d="M508.40,128.00L508.40,132.80M506.32,129.20L510.48,131.60M510.48,129.20L506.32,131.60" stroke="#4a4a4a" stroke-width="1.4" fill="none"/>
<rect x="441.00" y="140.80" width="4.20" height="4.20" fill="#a8a8a8" stroke="none" stroke-width="1"/>
<text x="447.60" y="146.30" font-size="9.8" font-weight="bold" text-anchor="start" fill="#000" stroke="#000" stroke-width="0.22">Aβ<tspan font-size="7" dy="1.8">42-1</tspan><tspan dy="-1.8"> + IA</tspan></text>
<line x1="62.50" y1="281.80" x2="62.50" y2="397.00" stroke="#1a1a1a" stroke-width="1.0"/>
<line x1="60.30" y1="282.50" x2="63.00" y2="282.50" stroke="#1a1a1a" stroke-width="1.0"/>
<text x="58.70" y="285.60" font-size="9.3" font-weight="bold" text-anchor="end" fill="#000" stroke="#000" stroke-width="0.22">400</text>
<line x1="60.30" y1="339.50" x2="63.00" y2="339.50" stroke="#1a1a1a" stroke-width="1.0"/>
<text x="58.70" y="342.70" font-size="9.3" font-weight="bold" text-anchor="end" fill="#000" stroke="#000" stroke-width="0.22">200</text>
<line x1="60.30" y1="396.50" x2="63.00" y2="396.50" stroke="#1a1a1a" stroke-width="1.0"/>
<text x="58.70" y="399.80" font-size="9.3" font-weight="bold" text-anchor="end" fill="#000" stroke="#000" stroke-width="0.22">0</text>
<text x="39.00" y="338.20" font-size="10.35" font-weight="bold" text-anchor="middle" fill="#000" stroke="#000" stroke-width="0.22" transform="rotate(-90 39.0 338.2)">Capacitance (pF)</text>
<circle cx="90.55" cy="311.64" r="2.05" fill="none" stroke="#ebcf95" stroke-width="0.95"/>
<circle cx="87.27" cy="320.37" r="2.05" fill="none" stroke="#ebcf95" stroke-width="0.95"/>
<circle cx="93.17" cy="317.53" r="2.05" fill="none" stroke="#ebcf95" stroke-width="0.95"/>
<circle cx="81.17" cy="323.20" r="2.05" fill="none" stroke="#ebcf95" stroke-width="0.95"/>
<circle cx="81.17" cy="329.09" r="2.05" fill="none" stroke="#ebcf95" stroke-width="0.95"/>
<circle cx="93.17" cy="325.82" r="2.05" fill="none" stroke="#ebcf95" stroke-width="0.95"/>
<circle cx="99.93" cy="325.82" r="2.05" fill="none" stroke="#ebcf95" stroke-width="0.95"/>
<circle cx="93.17" cy="331.71" r="2.05" fill="none" stroke="#ebcf95" stroke-width="0.95"/>
<circle cx="99.93" cy="331.71" r="2.05" fill="none" stroke="#ebcf95" stroke-width="0.95"/>
<circle cx="90.55" cy="338.91" r="2.05" fill="none" stroke="#ebcf95" stroke-width="0.95"/>
<circle cx="90.55" cy="349.39" r="2.05" fill="none" stroke="#ebcf95" stroke-width="0.95"/>
<circle cx="87.27" cy="356.37" r="2.05" fill="none" stroke="#ebcf95" stroke-width="0.95"/>
<circle cx="87.27" cy="362.48" r="2.05" fill="none" stroke="#ebcf95" stroke-width="0.95"/>
<circle cx="93.17" cy="362.48" r="2.05" fill="none" stroke="#ebcf95" stroke-width="0.95"/>
<circle cx="87.27" cy="369.46" r="2.05" fill="none" stroke="#ebcf95" stroke-width="0.95"/>
<circle cx="93.17" cy="369.02" r="2.05" fill="none" stroke="#ebcf95" stroke-width="0.95"/>
<circle cx="81.17" cy="376.01" r="2.05" fill="none" stroke="#ebcf95" stroke-width="0.95"/>
<circle cx="99.93" cy="374.48" r="2.05" fill="none" stroke="#ebcf95" stroke-width="0.95"/>
<circle cx="87.27" cy="377.10" r="2.05" fill="none" stroke="#ebcf95" stroke-width="0.95"/>
<circle cx="87.27" cy="381.46" r="2.05" fill="none" stroke="#ebcf95" stroke-width="0.95"/>
<circle cx="93.17" cy="382.12" r="2.05" fill="none" stroke="#ebcf95" stroke-width="0.95"/>
<circle cx="87.27" cy="385.83" r="2.05" fill="none" stroke="#ebcf95" stroke-width="0.95"/>
<circle cx="81.17" cy="388.44" r="2.05" fill="none" stroke="#ebcf95" stroke-width="0.95"/>
<circle cx="93.17" cy="388.44" r="2.05" fill="none" stroke="#ebcf95" stroke-width="0.95"/>
<circle cx="99.93" cy="386.92" r="2.05" fill="none" stroke="#ebcf95" stroke-width="0.95"/>
<circle cx="84.00" cy="352.01" r="2.05" fill="none" stroke="#ebcf95" stroke-width="0.95"/>
<circle cx="96.00" cy="350.91" r="2.05" fill="none" stroke="#ebcf95" stroke-width="0.95"/>
<circle cx="119.57" cy="331.71" r="2.05" fill="none" stroke="#ebcf95" stroke-width="0.95"/>
<circle cx="124.80" cy="332.37" r="2.05" fill="none" stroke="#ebcf95" stroke-width="0.95"/>
<circle cx="129.39" cy="331.71" r="2.05" fill="none" stroke="#ebcf95" stroke-width="0.95"/>
<circle cx="129.39" cy="338.48" r="2.05" fill="none" stroke="#ebcf95" stroke-width="0.95"/>
<circle cx="124.80" cy="340.00" r="2.05" fill="none" stroke="#ebcf95" stroke-width="0.95"/>
<circle cx="119.57" cy="341.75" r="2.05" fill="none" stroke="#ebcf95" stroke-width="0.95"/>
<circle cx="129.39" cy="345.46" r="2.05" fill="none" stroke="#ebcf95" stroke-width="0.95"/>
<circle cx="124.80" cy="349.39" r="2.05" fill="none" stroke="#ebcf95" stroke-width="0.95"/>
<circle cx="129.39" cy="354.19" r="2.05" fill="none" stroke="#ebcf95" stroke-width="0.95"/>
<circle cx="124.80" cy="357.46" r="2.05" fill="none" stroke="#ebcf95" stroke-width="0.95"/>
<circle cx="134.19" cy="365.53" r="2.05" fill="none" stroke="#ebcf95" stroke-width="0.95"/>
<circle cx="115.64" cy="369.46" r="2.05" fill="none" stroke="#ebcf95" stroke-width="0.95"/>
<circle cx="120.00" cy="369.46" r="2.05" fill="none" stroke="#ebcf95" stroke-width="0.95"/>
<circle cx="124.80" cy="372.73" r="2.05" fill="none" stroke="#ebcf95" stroke-width="0.95"/>
<circle cx="129.82" cy="369.46" r="2.05" fill="none" stroke="#ebcf95" stroke-width="0.95"/>
<circle cx="119.57" cy="378.19" r="2.05" fill="none" stroke="#ebcf95" stroke-width="0.95"/>
<circle cx="124.80" cy="380.81" r="2.05" fill="none" stroke="#ebcf95" stroke-width="0.95"/>
<circle cx="129.82" cy="379.28" r="2.05" fill="none" stroke="#ebcf95" stroke-width="0.95"/>
<circle cx="115.20" cy="386.48" r="2.05" fill="none" stroke="#ebcf95" stroke-width="0.95"/>
<circle cx="120.00" cy="382.55" r="2.05" fill="none" stroke="#ebcf95" stroke-width="0.95"/>
<circle cx="124.80" cy="385.83" r="2.05" fill="none" stroke="#ebcf95" stroke-width="0.95"/>
<circle cx="129.82" cy="382.55" r="2.05" fill="none" stroke="#ebcf95" stroke-width="0.95"/>
<circle cx="134.19" cy="382.55" r="2.05" fill="none" stroke="#ebcf95" stroke-width="0.95"/>
<circle cx="134.19" cy="387.35" r="2.05" fill="none" stroke="#ebcf95" stroke-width="0.95"/>
<circle cx="124.80" cy="376.01" r="2.05" fill="none" stroke="#ebcf95" stroke-width="0.95"/>
<circle cx="120.00" cy="389.10" r="2.05" fill="none" stroke="#ebcf95" stroke-width="0.95"/>
<circle cx="154.26" cy="335.20" r="2.05" fill="none" stroke="#ebcf95" stroke-width="0.95"/>
<circle cx="163.64" cy="334.11" r="2.05" fill="none" stroke="#ebcf95" stroke-width="0.95"/>
<circle cx="159.28" cy="338.48" r="2.05" fill="none" stroke="#ebcf95" stroke-width="0.95"/>
<circle cx="163.64" cy="338.48" r="2.05" fill="none" stroke="#ebcf95" stroke-width="0.95"/>
<circle cx="149.46" cy="346.55" r="2.05" fill="none" stroke="#ebcf95" stroke-width="0.95"/>
<circle cx="154.26" cy="349.82" r="2.05" fill="none" stroke="#ebcf95" stroke-width="0.95"/>
<circle cx="159.28" cy="345.46" r="2.05" fill="none" stroke="#ebcf95" stroke-width="0.95"/>
<circle cx="163.64" cy="349.82" r="2.05" fill="none" stroke="#ebcf95" stroke-width="0.95"/>
<circle cx="168.44" cy="348.73" r="2.05" fill="none" stroke="#ebcf95" stroke-width="0.95"/>
<circle cx="154.26" cy="353.10" r="2.05" fill="none" stroke="#ebcf95" stroke-width="0.95"/>
<circle cx="159.28" cy="353.10" r="2.05" fill="none" stroke="#ebcf95" stroke-width="0.95"/>
<circle cx="163.64" cy="353.10" r="2.05" fill="none" stroke="#ebcf95" stroke-width="0.95"/>
<circle cx="154.26" cy="366.19" r="2.05" fill="none" stroke="#ebcf95" stroke-width="0.95"/>
<circle cx="154.26" cy="370.55" r="2.05" fill="none" stroke="#ebcf95" stroke-width="0.95"/>
<circle cx="159.28" cy="369.46" r="2.05" fill="none" stroke="#ebcf95" stroke-width="0.95"/>
<circle cx="154.26" cy="374.26" r="2.05" fill="none" stroke="#ebcf95" stroke-width="0.95"/>
<circle cx="159.28" cy="374.26" r="2.05" fill="none" stroke="#ebcf95" stroke-width="0.95"/>
<circle cx="154.26" cy="379.28" r="2.05" fill="none" stroke="#ebcf95" stroke-width="0.95"/>
<circle cx="159.28" cy="381.46" r="2.05" fill="none" stroke="#ebcf95" stroke-width="0.95"/>
<circle cx="163.64" cy="381.46" r="2.05" fill="none" stroke="#ebcf95" stroke-width="0.95"/>
<circle cx="159.28" cy="388.44" r="2.05" fill="none" stroke="#ebcf95" stroke-width="0.95"/>
<line x1="78.00" y1="355.30" x2="101.00" y2="355.30" stroke="#000" stroke-width="2.3"/>
<line x1="89.50" y1="350.80" x2="89.50" y2="359.80" stroke="#7a7a7a" stroke-width="1.3"/>
<line x1="112.50" y1="363.60" x2="135.50" y2="363.60" stroke="#000" stroke-width="2.3"/>
<line x1="124.00" y1="360.10" x2="124.00" y2="367.10" stroke="#7a7a7a" stroke-width="1.3"/>
<line x1="146.70" y1="358.10" x2="169.70" y2="358.10" stroke="#000" stroke-width="2.3"/>
<line x1="158.20" y1="354.60" x2="158.20" y2="361.60" stroke="#7a7a7a" stroke-width="1.3"/>
<text x="90.00" y="410.30" font-size="9.7" font-weight="bold" text-anchor="middle" fill="#000" stroke="#000" stroke-width="0.22">27</text>
<text x="124.50" y="410.30" font-size="9.7" font-weight="bold" text-anchor="middle" fill="#000" stroke="#000" stroke-width="0.22">26</text>
<text x="159.00" y="410.30" font-size="9.7" font-weight="bold" text-anchor="middle" fill="#000" stroke="#000" stroke-width="0.22">21</text>
<line x1="239.50" y1="281.80" x2="239.50" y2="397.00" stroke="#1a1a1a" stroke-width="1.0"/>
<line x1="237.30" y1="282.50" x2="240.00" y2="282.50" stroke="#1a1a1a" stroke-width="1.0"/>
<text x="236.90" y="285.60" font-size="9.3" font-weight="bold" text-anchor="end" fill="#000" stroke="#000" stroke-width="0.22">300</text>
<line x1="237.30" y1="339.50" x2="240.00" y2="339.50" stroke="#1a1a1a" stroke-width="1.0"/>
<text x="236.90" y="342.70" font-size="9.3" font-weight="bold" text-anchor="end" fill="#000" stroke="#000" stroke-width="0.22">150</text>
<line x1="237.30" y1="396.50" x2="240.00" y2="396.50" stroke="#1a1a1a" stroke-width="1.0"/>
<text x="236.90" y="399.80" font-size="9.3" font-weight="bold" text-anchor="end" fill="#000" stroke="#000" stroke-width="0.22">0</text>
<text x="216.90" y="335.40" font-size="9.8" font-weight="bold" text-anchor="middle" fill="#000" stroke="#000" stroke-width="0.22" transform="rotate(-90 216.9 335.4)">Resistance (MΩ)</text>
<circle cx="268.00" cy="335.00" r="2.05" fill="none" stroke="#ebcf95" stroke-width="0.95"/>
<circle cx="266.00" cy="338.00" r="2.05" fill="none" stroke="#ebcf95" stroke-width="0.95"/>
<circle cx="267.00" cy="343.00" r="2.05" fill="none" stroke="#ebcf95" stroke-width="0.95"/>
<circle cx="264.00" cy="345.00" r="2.05" fill="none" stroke="#ebcf95" stroke-width="0.95"/>
<circle cx="271.00" cy="348.00" r="2.05" fill="none" stroke="#ebcf95" stroke-width="0.95"/>
<circle cx="261.00" cy="349.00" r="2.05" fill="none" stroke="#ebcf95" stroke-width="0.95"/>
<circle cx="265.00" cy="350.00" r="2.05" fill="none" stroke="#ebcf95" stroke-width="0.95"/>
<circle cx="273.00" cy="351.00" r="2.05" fill="none" stroke="#ebcf95" stroke-width="0.95"/>
<circle cx="260.00" cy="352.00" r="2.05" fill="none" stroke="#ebcf95" stroke-width="0.95"/>
<circle cx="269.00" cy="352.00" r="2.05" fill="none" stroke="#ebcf95" stroke-width="0.95"/>
<circle cx="264.00" cy="353.00" r="2.05" fill="none" stroke="#ebcf95" stroke-width="0.95"/>
<circle cx="267.00" cy="356.00" r="2.05" fill="none" stroke="#ebcf95" stroke-width="0.95"/>
<circle cx="262.00" cy="356.00" r="2.05" fill="none" stroke="#ebcf95" stroke-width="0.95"/>
<circle cx="271.00" cy="355.00" r="2.05" fill="none" stroke="#ebcf95" stroke-width="0.95"/>
<circle cx="262.00" cy="359.00" r="2.05" fill="none" stroke="#ebcf95" stroke-width="0.95"/>
<circle cx="267.00" cy="360.00" r="2.05" fill="none" stroke="#ebcf95" stroke-width="0.95"/>
<circle cx="271.00" cy="362.00" r="2.05" fill="none" stroke="#ebcf95" stroke-width="0.95"/>
<circle cx="264.00" cy="363.00" r="2.05" fill="none" stroke="#ebcf95" stroke-width="0.95"/>
<circle cx="269.00" cy="364.00" r="2.05" fill="none" stroke="#ebcf95" stroke-width="0.95"/>
<circle cx="265.00" cy="367.00" r="2.05" fill="none" stroke="#ebcf95" stroke-width="0.95"/>
<circle cx="269.00" cy="367.00" r="2.05" fill="none" stroke="#ebcf95" stroke-width="0.95"/>
<circle cx="265.00" cy="369.00" r="2.05" fill="none" stroke="#ebcf95" stroke-width="0.95"/>
<circle cx="259.00" cy="357.00" r="2.05" fill="none" stroke="#ebcf95" stroke-width="0.95"/>
<circle cx="273.00" cy="358.00" r="2.05" fill="none" stroke="#ebcf95" stroke-width="0.95"/>
<circle cx="266.00" cy="357.60" r="2.05" fill="none" stroke="#ebcf95" stroke-width="0.95"/>
<circle cx="263.00" cy="361.00" r="2.05" fill="none" stroke="#ebcf95" stroke-width="0.95"/>
<circle cx="270.00" cy="359.00" r="2.05" fill="none" stroke="#ebcf95" stroke-width="0.95"/>
<circle cx="301.00" cy="317.00" r="2.05" fill="none" stroke="#ebcf95" stroke-width="0.95"/>
<circle cx="302.00" cy="321.00" r="2.05" fill="none" stroke="#ebcf95" stroke-width="0.95"/>
<circle cx="309.00" cy="326.00" r="2.05" fill="none" stroke="#ebcf95" stroke-width="0.95"/>
<circle cx="305.00" cy="329.00" r="2.05" fill="none" stroke="#ebcf95" stroke-width="0.95"/>
<circle cx="295.00" cy="331.00" r="2.05" fill="none" stroke="#ebcf95" stroke-width="0.95"/>
<circle cx="299.00" cy="331.00" r="2.05" fill="none" stroke="#ebcf95" stroke-width="0.95"/>
<circle cx="303.00" cy="332.00" r="2.05" fill="none" stroke="#ebcf95" stroke-width="0.95"/>
<circle cx="307.00" cy="334.00" r="2.05" fill="none" stroke="#ebcf95" stroke-width="0.95"/>
<circle cx="297.00" cy="335.00" r="2.05" fill="none" stroke="#ebcf95" stroke-width="0.95"/>
<circle cx="292.00" cy="337.00" r="2.05" fill="none" stroke="#ebcf95" stroke-width="0.95"/>
<circle cx="309.00" cy="338.00" r="2.05" fill="none" stroke="#ebcf95" stroke-width="0.95"/>
<circle cx="294.00" cy="340.00" r="2.05" fill="none" stroke="#ebcf95" stroke-width="0.95"/>
<circle cx="299.00" cy="341.00" r="2.05" fill="none" stroke="#ebcf95" stroke-width="0.95"/>
<circle cx="303.00" cy="342.00" r="2.05" fill="none" stroke="#ebcf95" stroke-width="0.95"/>
<circle cx="308.00" cy="341.00" r="2.05" fill="none" stroke="#ebcf95" stroke-width="0.95"/>
<circle cx="301.00" cy="345.00" r="2.05" fill="none" stroke="#ebcf95" stroke-width="0.95"/>
<circle cx="299.00" cy="348.00" r="2.05" fill="none" stroke="#ebcf95" stroke-width="0.95"/>
<circle cx="303.00" cy="349.00" r="2.05" fill="none" stroke="#ebcf95" stroke-width="0.95"/>
<circle cx="301.60" cy="369.00" r="2.05" fill="none" stroke="#ebcf95" stroke-width="0.95"/>
<circle cx="305.00" cy="339.00" r="2.05" fill="none" stroke="#ebcf95" stroke-width="0.95"/>
<circle cx="296.00" cy="343.00" r="2.05" fill="none" stroke="#ebcf95" stroke-width="0.95"/>
<circle cx="306.00" cy="345.00" r="2.05" fill="none" stroke="#ebcf95" stroke-width="0.95"/>
<circle cx="298.00" cy="338.00" r="2.05" fill="none" stroke="#ebcf95" stroke-width="0.95"/>
<circle cx="304.00" cy="336.00" r="2.05" fill="none" stroke="#ebcf95" stroke-width="0.95"/>
<circle cx="307.00" cy="330.00" r="2.05" fill="none" stroke="#ebcf95" stroke-width="0.95"/>
<circle cx="291.00" cy="340.00" r="2.05" fill="none" stroke="#ebcf95" stroke-width="0.95"/>
<circle cx="336.00" cy="314.40" r="2.05" fill="none" stroke="#ebcf95" stroke-width="0.95"/>
<circle cx="331.00" cy="321.60" r="2.05" fill="none" stroke="#ebcf95" stroke-width="0.95"/>
<circle cx="336.00" cy="323.00" r="2.05" fill="none" stroke="#ebcf95" stroke-width="0.95"/>
<circle cx="341.00" cy="325.00" r="2.05" fill="none" stroke="#ebcf95" stroke-width="0.95"/>
<circle cx="331.00" cy="326.00" r="2.05" fill="none" stroke="#ebcf95" stroke-width="0.95"/>
<circle cx="345.00" cy="331.00" r="2.05" fill="none" stroke="#ebcf95" stroke-width="0.95"/>
<circle cx="336.00" cy="332.00" r="2.05" fill="none" stroke="#ebcf95" stroke-width="0.95"/>
<circle cx="331.00" cy="335.00" r="2.05" fill="none" stroke="#ebcf95" stroke-width="0.95"/>
<circle cx="341.00" cy="335.00" r="2.05" fill="none" stroke="#ebcf95" stroke-width="0.95"/>
<circle cx="331.00" cy="346.00" r="2.05" fill="none" stroke="#ebcf95" stroke-width="0.95"/>
<circle cx="341.00" cy="344.00" r="2.05" fill="none" stroke="#ebcf95" stroke-width="0.95"/>
<circle cx="336.00" cy="348.00" r="2.05" fill="none" stroke="#ebcf95" stroke-width="0.95"/>
<circle cx="341.00" cy="349.00" r="2.05" fill="none" stroke="#ebcf95" stroke-width="0.95"/>
<circle cx="331.00" cy="353.00" r="2.05" fill="none" stroke="#ebcf95" stroke-width="0.95"/>
<circle cx="336.00" cy="353.00" r="2.05" fill="none" stroke="#ebcf95" stroke-width="0.95"/>
<circle cx="341.00" cy="356.00" r="2.05" fill="none" stroke="#ebcf95" stroke-width="0.95"/>
<circle cx="331.00" cy="358.00" r="2.05" fill="none" stroke="#ebcf95" stroke-width="0.95"/>
<circle cx="336.00" cy="342.00" r="2.05" fill="none" stroke="#ebcf95" stroke-width="0.95"/>
<circle cx="345.00" cy="342.00" r="2.05" fill="none" stroke="#ebcf95" stroke-width="0.95"/>
<circle cx="327.00" cy="340.00" r="2.05" fill="none" stroke="#ebcf95" stroke-width="0.95"/>
<circle cx="331.00" cy="341.00" r="2.05" fill="none" stroke="#ebcf95" stroke-width="0.95"/>
<line x1="254.80" y1="355.00" x2="277.80" y2="355.00" stroke="#000" stroke-width="2.3"/>
<line x1="266.30" y1="352.00" x2="266.30" y2="358.00" stroke="#7a7a7a" stroke-width="1.3"/>
<line x1="289.20" y1="336.60" x2="312.20" y2="336.60" stroke="#000" stroke-width="2.3"/>
<line x1="300.70" y1="333.60" x2="300.70" y2="339.60" stroke="#7a7a7a" stroke-width="1.3"/>
<line x1="323.20" y1="339.00" x2="346.20" y2="339.00" stroke="#000" stroke-width="2.3"/>
<line x1="334.70" y1="336.00" x2="334.70" y2="342.00" stroke="#7a7a7a" stroke-width="1.3"/>
<text x="267.90" y="410.30" font-size="9.7" font-weight="bold" text-anchor="middle" fill="#000" stroke="#000" stroke-width="0.22">27</text>
<text x="302.60" y="410.30" font-size="9.7" font-weight="bold" text-anchor="middle" fill="#000" stroke="#000" stroke-width="0.22">26</text>
<text x="336.90" y="410.30" font-size="9.7" font-weight="bold" text-anchor="middle" fill="#000" stroke="#000" stroke-width="0.22">21</text>
<path d="M298.70,303.10L298.70,308.10M296.53,304.35L300.87,306.85M300.87,304.35L296.53,306.85" stroke="#111" stroke-width="1.5" fill="none"/>
<path d="M304.70,303.10L304.70,308.10M302.53,304.35L306.87,306.85M306.87,304.35L302.53,306.85" stroke="#111" stroke-width="1.5" fill="none"/>
<path d="M333.30,301.50L333.30,306.50M331.13,302.75L335.47,305.25M335.47,302.75L331.13,305.25" stroke="#111" stroke-width="1.5" fill="none"/>
<path d="M339.30,301.50L339.30,306.50M337.13,302.75L341.47,305.25M341.47,302.75L337.13,305.25" stroke="#111" stroke-width="1.5" fill="none"/>
<line x1="415.50" y1="281.80" x2="415.50" y2="397.00" stroke="#1a1a1a" stroke-width="1.0"/>
<line x1="413.30" y1="282.50" x2="416.00" y2="282.50" stroke="#1a1a1a" stroke-width="1.0"/>
<text x="410.90" y="285.60" font-size="9.3" font-weight="bold" text-anchor="end" fill="#000" stroke="#000" stroke-width="0.22">6</text>
<line x1="413.30" y1="339.50" x2="416.00" y2="339.50" stroke="#1a1a1a" stroke-width="1.0"/>
<text x="410.90" y="342.70" font-size="9.3" font-weight="bold" text-anchor="end" fill="#000" stroke="#000" stroke-width="0.22">3</text>
<line x1="413.30" y1="396.50" x2="416.00" y2="396.50" stroke="#1a1a1a" stroke-width="1.0"/>
<text x="410.90" y="399.80" font-size="9.3" font-weight="bold" text-anchor="end" fill="#000" stroke="#000" stroke-width="0.22">0</text>
<text x="396.90" y="337.75" font-size="9.73" font-weight="bold" text-anchor="middle" fill="#000" stroke="#000" stroke-width="0.22" transform="rotate(-90 396.9 337.75)">Time constant (ms)</text>
<circle cx="440.10" cy="310.70" r="2.05" fill="none" stroke="#ebcf95" stroke-width="0.95"/>
<circle cx="442.90" cy="310.70" r="2.05" fill="none" stroke="#ebcf95" stroke-width="0.95"/>
<circle cx="445.70" cy="310.70" r="2.05" fill="none" stroke="#ebcf95" stroke-width="0.95"/>
<circle cx="448.40" cy="310.70" r="2.05" fill="none" stroke="#ebcf95" stroke-width="0.95"/>
<circle cx="443.60" cy="329.90" r="2.05" fill="none" stroke="#ebcf95" stroke-width="0.95"/>
<circle cx="440.10" cy="348.50" r="2.05" fill="none" stroke="#ebcf95" stroke-width="0.95"/>
<circle cx="444.00" cy="352.20" r="2.05" fill="none" stroke="#ebcf95" stroke-width="0.95"/>
<circle cx="447.30" cy="352.20" r="2.05" fill="none" stroke="#ebcf95" stroke-width="0.95"/>
<circle cx="442.90" cy="367.00" r="2.05" fill="none" stroke="#ebcf95" stroke-width="0.95"/>
<circle cx="447.00" cy="362.00" r="2.05" fill="none" stroke="#ebcf95" stroke-width="0.95"/>
<circle cx="440.10" cy="372.50" r="2.05" fill="none" stroke="#ebcf95" stroke-width="0.95"/>
<circle cx="442.90" cy="374.60" r="2.05" fill="none" stroke="#ebcf95" stroke-width="0.95"/>
<circle cx="447.30" cy="377.50" r="2.05" fill="none" stroke="#ebcf95" stroke-width="0.95"/>
<circle cx="441.80" cy="381.20" r="2.05" fill="none" stroke="#ebcf95" stroke-width="0.95"/>
<circle cx="437.00" cy="384.00" r="2.05" fill="none" stroke="#ebcf95" stroke-width="0.95"/>
<circle cx="444.00" cy="386.60" r="2.05" fill="none" stroke="#ebcf95" stroke-width="0.95"/>
<circle cx="435.30" cy="388.80" r="2.05" fill="none" stroke="#ebcf95" stroke-width="0.95"/>
<circle cx="439.60" cy="388.80" r="2.05" fill="none" stroke="#ebcf95" stroke-width="0.95"/>
<circle cx="446.20" cy="388.80" r="2.05" fill="none" stroke="#ebcf95" stroke-width="0.95"/>
<circle cx="451.00" cy="390.00" r="2.05" fill="none" stroke="#ebcf95" stroke-width="0.95"/>
<circle cx="434.50" cy="394.30" r="2.05" fill="none" stroke="#ebcf95" stroke-width="0.95"/>
<circle cx="437.50" cy="394.30" r="2.05" fill="none" stroke="#ebcf95" stroke-width="0.95"/>
<circle cx="440.50" cy="394.30" r="2.05" fill="none" stroke="#ebcf95" stroke-width="0.95"/>
<circle cx="443.50" cy="394.30" r="2.05" fill="none" stroke="#ebcf95" stroke-width="0.95"/>
<circle cx="446.50" cy="394.30" r="2.05" fill="none" stroke="#ebcf95" stroke-width="0.95"/>
<circle cx="449.50" cy="394.30" r="2.05" fill="none" stroke="#ebcf95" stroke-width="0.95"/>
<circle cx="452.50" cy="394.30" r="2.05" fill="none" stroke="#ebcf95" stroke-width="0.95"/>
<circle cx="477.80" cy="310.70" r="2.05" fill="none" stroke="#ebcf95" stroke-width="0.95"/>
<circle cx="477.80" cy="327.70" r="2.05" fill="none" stroke="#ebcf95" stroke-width="0.95"/>
<circle cx="477.80" cy="335.40" r="2.05" fill="none" stroke="#ebcf95" stroke-width="0.95"/>
<circle cx="480.00" cy="340.80" r="2.05" fill="none" stroke="#ebcf95" stroke-width="0.95"/>
<circle cx="475.60" cy="345.20" r="2.05" fill="none" stroke="#ebcf95" stroke-width="0.95"/>
<circle cx="480.00" cy="347.40" r="2.05" fill="none" stroke="#ebcf95" stroke-width="0.95"/>
<circle cx="477.80" cy="350.60" r="2.05" fill="none" stroke="#ebcf95" stroke-width="0.95"/>
<circle cx="477.80" cy="358.30" r="2.05" fill="none" stroke="#ebcf95" stroke-width="0.95"/>
<circle cx="482.00" cy="356.00" r="2.05" fill="none" stroke="#ebcf95" stroke-width="0.95"/>
<circle cx="480.00" cy="365.90" r="2.05" fill="none" stroke="#ebcf95" stroke-width="0.95"/>
<circle cx="475.00" cy="370.00" r="2.05" fill="none" stroke="#ebcf95" stroke-width="0.95"/>
<circle cx="473.50" cy="375.70" r="2.05" fill="none" stroke="#ebcf95" stroke-width="0.95"/>
<circle cx="482.20" cy="376.80" r="2.05" fill="none" stroke="#ebcf95" stroke-width="0.95"/>
<circle cx="477.80" cy="380.10" r="2.05" fill="none" stroke="#ebcf95" stroke-width="0.95"/>
<circle cx="477.80" cy="384.50" r="2.05" fill="none" stroke="#ebcf95" stroke-width="0.95"/>
<circle cx="474.00" cy="388.00" r="2.05" fill="none" stroke="#ebcf95" stroke-width="0.95"/>
<circle cx="481.00" cy="388.00" r="2.05" fill="none" stroke="#ebcf95" stroke-width="0.95"/>
<circle cx="467.50" cy="393.20" r="2.05" fill="none" stroke="#ebcf95" stroke-width="0.95"/>
<circle cx="470.50" cy="393.20" r="2.05" fill="none" stroke="#ebcf95" stroke-width="0.95"/>
<circle cx="473.50" cy="393.20" r="2.05" fill="none" stroke="#ebcf95" stroke-width="0.95"/>
<circle cx="476.50" cy="393.20" r="2.05" fill="none" stroke="#ebcf95" stroke-width="0.95"/>
<circle cx="479.50" cy="393.20" r="2.05" fill="none" stroke="#ebcf95" stroke-width="0.95"/>
<circle cx="482.50" cy="393.20" r="2.05" fill="none" stroke="#ebcf95" stroke-width="0.95"/>
<circle cx="485.50" cy="393.20" r="2.05" fill="none" stroke="#ebcf95" stroke-width="0.95"/>
<circle cx="488.50" cy="393.20" r="2.05" fill="none" stroke="#ebcf95" stroke-width="0.95"/>
<circle cx="512.70" cy="339.70" r="2.05" fill="none" stroke="#ebcf95" stroke-width="0.95"/>
<circle cx="508.00" cy="343.00" r="2.05" fill="none" stroke="#ebcf95" stroke-width="0.95"/>
<circle cx="510.50" cy="348.50" r="2.05" fill="none" stroke="#ebcf95" stroke-width="0.95"/>
<circle cx="512.70" cy="352.80" r="2.05" fill="none" stroke="#ebcf95" stroke-width="0.95"/>
<circle cx="510.50" cy="355.00" r="2.05" fill="none" stroke="#ebcf95" stroke-width="0.95"/>
<circle cx="513.80" cy="359.40" r="2.05" fill="none" stroke="#ebcf95" stroke-width="0.95"/>
<circle cx="517.00" cy="362.00" r="2.05" fill="none" stroke="#ebcf95" stroke-width="0.95"/>
<circle cx="510.50" cy="364.40" r="2.05" fill="none" stroke="#ebcf95" stroke-width="0.95"/>
<circle cx="513.80" cy="366.00" r="2.05" fill="none" stroke="#ebcf95" stroke-width="0.95"/>
<circle cx="516.00" cy="371.40" r="2.05" fill="none" stroke="#ebcf95" stroke-width="0.95"/>
<circle cx="509.00" cy="376.00" r="2.05" fill="none" stroke="#ebcf95" stroke-width="0.95"/>
<circle cx="510.50" cy="381.20" r="2.05" fill="none" stroke="#ebcf95" stroke-width="0.95"/>
<circle cx="515.00" cy="385.00" r="2.05" fill="none" stroke="#ebcf95" stroke-width="0.95"/>
<circle cx="502.50" cy="394.30" r="2.05" fill="none" stroke="#ebcf95" stroke-width="0.95"/>
<circle cx="505.50" cy="394.30" r="2.05" fill="none" stroke="#ebcf95" stroke-width="0.95"/>
<circle cx="508.50" cy="394.30" r="2.05" fill="none" stroke="#ebcf95" stroke-width="0.95"/>
<circle cx="511.50" cy="394.30" r="2.05" fill="none" stroke="#ebcf95" stroke-width="0.95"/>
<circle cx="514.50" cy="394.30" r="2.05" fill="none" stroke="#ebcf95" stroke-width="0.95"/>
<circle cx="517.50" cy="394.30" r="2.05" fill="none" stroke="#ebcf95" stroke-width="0.95"/>
<circle cx="520.50" cy="394.30" r="2.05" fill="none" stroke="#ebcf95" stroke-width="0.95"/>
<circle cx="523.50" cy="394.30" r="2.05" fill="none" stroke="#ebcf95" stroke-width="0.95"/>
<line x1="431.50" y1="367.50" x2="454.50" y2="367.50" stroke="#000" stroke-width="2.3"/>
<line x1="443.00" y1="362.00" x2="443.00" y2="373.00" stroke="#7a7a7a" stroke-width="1.3"/>
<line x1="466.20" y1="370.90" x2="489.20" y2="370.90" stroke="#000" stroke-width="2.3"/>
<line x1="477.70" y1="366.40" x2="477.70" y2="375.40" stroke="#7a7a7a" stroke-width="1.3"/>
<line x1="499.80" y1="376.00" x2="522.80" y2="376.00" stroke="#000" stroke-width="2.3"/>
<line x1="511.30" y1="372.50" x2="511.30" y2="379.50" stroke="#7a7a7a" stroke-width="1.3"/>
<text x="443.60" y="410.30" font-size="9.7" font-weight="bold" text-anchor="middle" fill="#000" stroke="#000" stroke-width="0.22">27</text>
<text x="478.70" y="410.30" font-size="9.7" font-weight="bold" text-anchor="middle" fill="#000" stroke="#000" stroke-width="0.22">26</text>
<text x="512.70" y="410.30" font-size="9.7" font-weight="bold" text-anchor="middle" fill="#000" stroke="#000" stroke-width="0.22">21</text>
<line x1="62.50" y1="439.70" x2="62.50" y2="554.80" stroke="#1a1a1a" stroke-width="1.0"/>
<line x1="60.30" y1="440.50" x2="63.00" y2="440.50" stroke="#1a1a1a" stroke-width="1.0"/>
<text x="59.60" y="443.50" font-size="9.3" font-weight="bold" text-anchor="end" fill="#000" stroke="#000" stroke-width="0.22">−40</text>
<line x1="60.30" y1="497.50" x2="63.00" y2="497.50" stroke="#1a1a1a" stroke-width="1.0"/>
<text x="59.60" y="500.55" font-size="9.3" font-weight="bold" text-anchor="end" fill="#000" stroke="#000" stroke-width="0.22">−60</text>
<line x1="60.30" y1="554.50" x2="63.00" y2="554.50" stroke="#1a1a1a" stroke-width="1.0"/>
<text x="59.60" y="557.60" font-size="9.3" font-weight="bold" text-anchor="end" fill="#000" stroke="#000" stroke-width="0.22">−80</text>
<text x="39.30" y="497.50" font-size="10.0" font-weight="bold" text-anchor="middle" fill="#000" stroke="#000" stroke-width="0.22" transform="rotate(-90 39.3 497.5)">Resting potential (mV)</text>
<circle cx="85.91" cy="483.03" r="2.05" fill="none" stroke="#ebcf95" stroke-width="0.95"/>
<circle cx="90.09" cy="483.03" r="2.05" fill="none" stroke="#ebcf95" stroke-width="0.95"/>
<circle cx="94.90" cy="483.87" r="2.05" fill="none" stroke="#ebcf95" stroke-width="0.95"/>
<circle cx="90.51" cy="494.95" r="2.05" fill="none" stroke="#ebcf95" stroke-width="0.95"/>
<circle cx="94.90" cy="494.95" r="2.05" fill="none" stroke="#ebcf95" stroke-width="0.95"/>
<circle cx="85.91" cy="497.04" r="2.05" fill="none" stroke="#ebcf95" stroke-width="0.95"/>
<circle cx="90.51" cy="501.22" r="2.05" fill="none" stroke="#ebcf95" stroke-width="0.95"/>
<circle cx="94.90" cy="501.22" r="2.05" fill="none" stroke="#ebcf95" stroke-width="0.95"/>
<circle cx="85.91" cy="503.31" r="2.05" fill="none" stroke="#ebcf95" stroke-width="0.95"/>
<circle cx="99.50" cy="500.18" r="2.05" fill="none" stroke="#ebcf95" stroke-width="0.95"/>
<circle cx="90.09" cy="510.63" r="2.05" fill="none" stroke="#ebcf95" stroke-width="0.95"/>
<circle cx="94.90" cy="511.68" r="2.05" fill="none" stroke="#ebcf95" stroke-width="0.95"/>
<circle cx="85.91" cy="512.72" r="2.05" fill="none" stroke="#ebcf95" stroke-width="0.95"/>
<circle cx="81.73" cy="521.09" r="2.05" fill="none" stroke="#ebcf95" stroke-width="0.95"/>
<circle cx="85.91" cy="521.09" r="2.05" fill="none" stroke="#ebcf95" stroke-width="0.95"/>
<circle cx="90.09" cy="518.99" r="2.05" fill="none" stroke="#ebcf95" stroke-width="0.95"/>
<circle cx="94.90" cy="521.09" r="2.05" fill="none" stroke="#ebcf95" stroke-width="0.95"/>
<circle cx="99.50" cy="521.09" r="2.05" fill="none" stroke="#ebcf95" stroke-width="0.95"/>
<circle cx="81.73" cy="524.22" r="2.05" fill="none" stroke="#ebcf95" stroke-width="0.95"/>
<circle cx="85.91" cy="525.27" r="2.05" fill="none" stroke="#ebcf95" stroke-width="0.95"/>
<circle cx="90.09" cy="526.31" r="2.05" fill="none" stroke="#ebcf95" stroke-width="0.95"/>
<circle cx="94.90" cy="525.27" r="2.05" fill="none" stroke="#ebcf95" stroke-width="0.95"/>
<circle cx="85.91" cy="530.49" r="2.05" fill="none" stroke="#ebcf95" stroke-width="0.95"/>
<circle cx="91.13" cy="530.49" r="2.05" fill="none" stroke="#ebcf95" stroke-width="0.95"/>
<circle cx="95.32" cy="530.49" r="2.05" fill="none" stroke="#ebcf95" stroke-width="0.95"/>
<circle cx="99.50" cy="529.45" r="2.05" fill="none" stroke="#ebcf95" stroke-width="0.95"/>
<circle cx="85.91" cy="534.67" r="2.05" fill="none" stroke="#ebcf95" stroke-width="0.95"/>
<circle cx="91.13" cy="534.67" r="2.05" fill="none" stroke="#ebcf95" stroke-width="0.95"/>
<circle cx="95.32" cy="534.67" r="2.05" fill="none" stroke="#ebcf95" stroke-width="0.95"/>
<circle cx="85.91" cy="537.81" r="2.05" fill="none" stroke="#ebcf95" stroke-width="0.95"/>
<circle cx="121.45" cy="483.45" r="2.05" fill="none" stroke="#ebcf95" stroke-width="0.95"/>
<circle cx="124.59" cy="485.96" r="2.05" fill="none" stroke="#ebcf95" stroke-width="0.95"/>
<circle cx="127.72" cy="493.91" r="2.05" fill="none" stroke="#ebcf95" stroke-width="0.95"/>
<circle cx="121.45" cy="497.04" r="2.05" fill="none" stroke="#ebcf95" stroke-width="0.95"/>
<circle cx="125.63" cy="498.09" r="2.05" fill="none" stroke="#ebcf95" stroke-width="0.95"/>
<circle cx="118.31" cy="502.27" r="2.05" fill="none" stroke="#ebcf95" stroke-width="0.95"/>
<circle cx="122.50" cy="501.22" r="2.05" fill="none" stroke="#ebcf95" stroke-width="0.95"/>
<circle cx="127.72" cy="501.85" r="2.05" fill="none" stroke="#ebcf95" stroke-width="0.95"/>
<circle cx="116.22" cy="506.45" r="2.05" fill="none" stroke="#ebcf95" stroke-width="0.95"/>
<circle cx="129.81" cy="505.40" r="2.05" fill="none" stroke="#ebcf95" stroke-width="0.95"/>
<circle cx="131.90" cy="508.54" r="2.05" fill="none" stroke="#ebcf95" stroke-width="0.95"/>
<circle cx="119.78" cy="507.50" r="2.05" fill="none" stroke="#ebcf95" stroke-width="0.95"/>
<circle cx="115.18" cy="512.72" r="2.05" fill="none" stroke="#ebcf95" stroke-width="0.95"/>
<circle cx="120.40" cy="511.68" r="2.05" fill="none" stroke="#ebcf95" stroke-width="0.95"/>
<circle cx="127.72" cy="511.68" r="2.05" fill="none" stroke="#ebcf95" stroke-width="0.95"/>
<circle cx="131.90" cy="512.72" r="2.05" fill="none" stroke="#ebcf95" stroke-width="0.95"/>
<circle cx="115.18" cy="517.95" r="2.05" fill="none" stroke="#ebcf95" stroke-width="0.95"/>
<circle cx="119.36" cy="516.90" r="2.05" fill="none" stroke="#ebcf95" stroke-width="0.95"/>
<circle cx="125.63" cy="517.95" r="2.05" fill="none" stroke="#ebcf95" stroke-width="0.95"/>
<circle cx="130.86" cy="518.99" r="2.05" fill="none" stroke="#ebcf95" stroke-width="0.95"/>
<circle cx="133.99" cy="521.09" r="2.05" fill="none" stroke="#ebcf95" stroke-width="0.95"/>
<circle cx="120.40" cy="522.13" r="2.05" fill="none" stroke="#ebcf95" stroke-width="0.95"/>
<circle cx="124.59" cy="522.13" r="2.05" fill="none" stroke="#ebcf95" stroke-width="0.95"/>
<circle cx="124.59" cy="529.03" r="2.05" fill="none" stroke="#ebcf95" stroke-width="0.95"/>
<circle cx="123.54" cy="512.72" r="2.05" fill="none" stroke="#ebcf95" stroke-width="0.95"/>
<circle cx="127.72" cy="516.90" r="2.05" fill="none" stroke="#ebcf95" stroke-width="0.95"/>
<circle cx="156.99" cy="470.91" r="2.05" fill="none" stroke="#ebcf95" stroke-width="0.95"/>
<circle cx="161.17" cy="470.91" r="2.05" fill="none" stroke="#ebcf95" stroke-width="0.95"/>
<circle cx="156.99" cy="477.18" r="2.05" fill="none" stroke="#ebcf95" stroke-width="0.95"/>
<circle cx="161.17" cy="481.36" r="2.05" fill="none" stroke="#ebcf95" stroke-width="0.95"/>
<circle cx="153.86" cy="485.54" r="2.05" fill="none" stroke="#ebcf95" stroke-width="0.95"/>
<circle cx="163.26" cy="484.50" r="2.05" fill="none" stroke="#ebcf95" stroke-width="0.95"/>
<circle cx="152.81" cy="493.91" r="2.05" fill="none" stroke="#ebcf95" stroke-width="0.95"/>
<circle cx="158.04" cy="493.91" r="2.05" fill="none" stroke="#ebcf95" stroke-width="0.95"/>
<circle cx="163.26" cy="492.86" r="2.05" fill="none" stroke="#ebcf95" stroke-width="0.95"/>
<circle cx="154.90" cy="499.13" r="2.05" fill="none" stroke="#ebcf95" stroke-width="0.95"/>
<circle cx="160.13" cy="498.09" r="2.05" fill="none" stroke="#ebcf95" stroke-width="0.95"/>
<circle cx="164.31" cy="499.13" r="2.05" fill="none" stroke="#ebcf95" stroke-width="0.95"/>
<circle cx="156.99" cy="503.31" r="2.05" fill="none" stroke="#ebcf95" stroke-width="0.95"/>
<circle cx="161.17" cy="504.36" r="2.05" fill="none" stroke="#ebcf95" stroke-width="0.95"/>
<circle cx="158.04" cy="508.54" r="2.05" fill="none" stroke="#ebcf95" stroke-width="0.95"/>
<circle cx="158.04" cy="516.90" r="2.05" fill="none" stroke="#ebcf95" stroke-width="0.95"/>
<circle cx="154.90" cy="490.77" r="2.05" fill="none" stroke="#ebcf95" stroke-width="0.95"/>
<circle cx="160.13" cy="489.72" r="2.05" fill="none" stroke="#ebcf95" stroke-width="0.95"/>
<circle cx="151.77" cy="496.00" r="2.05" fill="none" stroke="#ebcf95" stroke-width="0.95"/>
<circle cx="165.36" cy="494.95" r="2.05" fill="none" stroke="#ebcf95" stroke-width="0.95"/>
<circle cx="159.08" cy="501.22" r="2.05" fill="none" stroke="#ebcf95" stroke-width="0.95"/>
<line x1="78.00" y1="513.80" x2="101.00" y2="513.80" stroke="#000" stroke-width="2.3"/>
<line x1="89.50" y1="510.80" x2="89.50" y2="516.80" stroke="#7a7a7a" stroke-width="1.3"/>
<line x1="112.10" y1="509.20" x2="135.10" y2="509.20" stroke="#000" stroke-width="2.3"/>
<line x1="123.60" y1="506.70" x2="123.60" y2="511.70" stroke="#7a7a7a" stroke-width="1.3"/>
<line x1="146.20" y1="492.40" x2="169.20" y2="492.40" stroke="#000" stroke-width="2.3"/>
<line x1="157.70" y1="489.90" x2="157.70" y2="494.90" stroke="#7a7a7a" stroke-width="1.3"/>
<text x="91.00" y="568.20" font-size="9.7" font-weight="bold" text-anchor="middle" fill="#000" stroke="#000" stroke-width="0.22">27</text>
<text x="124.00" y="568.20" font-size="9.7" font-weight="bold" text-anchor="middle" fill="#000" stroke="#000" stroke-width="0.22">26</text>
<text x="158.30" y="568.20" font-size="9.7" font-weight="bold" text-anchor="middle" fill="#000" stroke="#000" stroke-width="0.22">21</text>
<path d="M156.20,458.50L156.20,463.50M154.03,459.75L158.37,462.25M158.37,459.75L154.03,462.25" stroke="#111" stroke-width="1.5" fill="none"/>
<path d="M162.50,458.50L162.50,463.50M160.33,459.75L164.67,462.25M164.67,459.75L160.33,462.25" stroke="#111" stroke-width="1.5" fill="none"/>
<line x1="239.50" y1="439.70" x2="239.50" y2="554.80" stroke="#1a1a1a" stroke-width="1.0"/>
<line x1="237.30" y1="440.50" x2="240.00" y2="440.50" stroke="#1a1a1a" stroke-width="1.0"/>
<text x="235.90" y="443.50" font-size="9.3" font-weight="bold" text-anchor="end" fill="#000" stroke="#000" stroke-width="0.22">0</text>
<line x1="237.30" y1="497.50" x2="240.00" y2="497.50" stroke="#1a1a1a" stroke-width="1.0"/>
<text x="235.90" y="500.55" font-size="9.3" font-weight="bold" text-anchor="end" fill="#000" stroke="#000" stroke-width="0.22">−30</text>
<line x1="237.30" y1="554.50" x2="240.00" y2="554.50" stroke="#1a1a1a" stroke-width="1.0"/>
<text x="235.90" y="557.60" font-size="9.3" font-weight="bold" text-anchor="end" fill="#000" stroke="#000" stroke-width="0.22">−60</text>
<text x="216.80" y="496.90" font-size="9.82" font-weight="bold" text-anchor="middle" fill="#000" stroke="#000" stroke-width="0.22" transform="rotate(-90 216.8 496.9)">Threshold potential (mV)</text>
<circle cx="264.86" cy="474.50" r="2.05" fill="none" stroke="#ebcf95" stroke-width="0.95"/>
<circle cx="267.58" cy="477.22" r="2.05" fill="none" stroke="#ebcf95" stroke-width="0.95"/>
<circle cx="265.91" cy="490.18" r="2.05" fill="none" stroke="#ebcf95" stroke-width="0.95"/>
<circle cx="269.04" cy="491.22" r="2.05" fill="none" stroke="#ebcf95" stroke-width="0.95"/>
<circle cx="264.86" cy="493.31" r="2.05" fill="none" stroke="#ebcf95" stroke-width="0.95"/>
<circle cx="268.00" cy="494.78" r="2.05" fill="none" stroke="#ebcf95" stroke-width="0.95"/>
<circle cx="258.59" cy="506.49" r="2.05" fill="none" stroke="#ebcf95" stroke-width="0.95"/>
<circle cx="262.77" cy="506.90" r="2.05" fill="none" stroke="#ebcf95" stroke-width="0.95"/>
<circle cx="266.95" cy="507.32" r="2.05" fill="none" stroke="#ebcf95" stroke-width="0.95"/>
<circle cx="271.13" cy="507.32" r="2.05" fill="none" stroke="#ebcf95" stroke-width="0.95"/>
<circle cx="275.32" cy="506.49" r="2.05" fill="none" stroke="#ebcf95" stroke-width="0.95"/>
<circle cx="260.68" cy="503.77" r="2.05" fill="none" stroke="#ebcf95" stroke-width="0.95"/>
<circle cx="273.22" cy="503.77" r="2.05" fill="none" stroke="#ebcf95" stroke-width="0.95"/>
<circle cx="264.86" cy="510.04" r="2.05" fill="none" stroke="#ebcf95" stroke-width="0.95"/>
<circle cx="270.09" cy="509.62" r="2.05" fill="none" stroke="#ebcf95" stroke-width="0.95"/>
<circle cx="267.58" cy="519.45" r="2.05" fill="none" stroke="#ebcf95" stroke-width="0.95"/>
<circle cx="261.73" cy="500.63" r="2.05" fill="none" stroke="#ebcf95" stroke-width="0.95"/>
<circle cx="270.09" cy="499.59" r="2.05" fill="none" stroke="#ebcf95" stroke-width="0.95"/>
<circle cx="265.91" cy="502.72" r="2.05" fill="none" stroke="#ebcf95" stroke-width="0.95"/>
<circle cx="257.54" cy="502.72" r="2.05" fill="none" stroke="#ebcf95" stroke-width="0.95"/>
<circle cx="274.27" cy="502.72" r="2.05" fill="none" stroke="#ebcf95" stroke-width="0.95"/>
<circle cx="268.00" cy="504.81" r="2.05" fill="none" stroke="#ebcf95" stroke-width="0.95"/>
<circle cx="263.82" cy="504.81" r="2.05" fill="none" stroke="#ebcf95" stroke-width="0.95"/>
<circle cx="276.36" cy="508.99" r="2.05" fill="none" stroke="#ebcf95" stroke-width="0.95"/>
<circle cx="301.45" cy="461.95" r="2.05" fill="none" stroke="#ebcf95" stroke-width="0.95"/>
<circle cx="301.45" cy="471.36" r="2.05" fill="none" stroke="#ebcf95" stroke-width="0.95"/>
<circle cx="298.31" cy="478.68" r="2.05" fill="none" stroke="#ebcf95" stroke-width="0.95"/>
<circle cx="303.54" cy="477.63" r="2.05" fill="none" stroke="#ebcf95" stroke-width="0.95"/>
<circle cx="307.30" cy="475.96" r="2.05" fill="none" stroke="#ebcf95" stroke-width="0.95"/>
<circle cx="295.18" cy="484.95" r="2.05" fill="none" stroke="#ebcf95" stroke-width="0.95"/>
<circle cx="301.45" cy="486.41" r="2.05" fill="none" stroke="#ebcf95" stroke-width="0.95"/>
<circle cx="307.72" cy="486.00" r="2.05" fill="none" stroke="#ebcf95" stroke-width="0.95"/>
<circle cx="297.27" cy="491.22" r="2.05" fill="none" stroke="#ebcf95" stroke-width="0.95"/>
<circle cx="303.54" cy="490.18" r="2.05" fill="none" stroke="#ebcf95" stroke-width="0.95"/>
<circle cx="292.04" cy="499.59" r="2.05" fill="none" stroke="#ebcf95" stroke-width="0.95"/>
<circle cx="297.27" cy="500.63" r="2.05" fill="none" stroke="#ebcf95" stroke-width="0.95"/>
<circle cx="301.45" cy="502.30" r="2.05" fill="none" stroke="#ebcf95" stroke-width="0.95"/>
<circle cx="306.68" cy="500.63" r="2.05" fill="none" stroke="#ebcf95" stroke-width="0.95"/>
<circle cx="310.86" cy="499.59" r="2.05" fill="none" stroke="#ebcf95" stroke-width="0.95"/>
<circle cx="295.18" cy="506.49" r="2.05" fill="none" stroke="#ebcf95" stroke-width="0.95"/>
<circle cx="300.40" cy="507.32" r="2.05" fill="none" stroke="#ebcf95" stroke-width="0.95"/>
<circle cx="305.63" cy="506.49" r="2.05" fill="none" stroke="#ebcf95" stroke-width="0.95"/>
<circle cx="308.77" cy="508.99" r="2.05" fill="none" stroke="#ebcf95" stroke-width="0.95"/>
<circle cx="296.22" cy="512.13" r="2.05" fill="none" stroke="#ebcf95" stroke-width="0.95"/>
<circle cx="301.45" cy="512.13" r="2.05" fill="none" stroke="#ebcf95" stroke-width="0.95"/>
<circle cx="306.68" cy="512.13" r="2.05" fill="none" stroke="#ebcf95" stroke-width="0.95"/>
<circle cx="293.09" cy="494.36" r="2.05" fill="none" stroke="#ebcf95" stroke-width="0.95"/>
<circle cx="307.72" cy="494.78" r="2.05" fill="none" stroke="#ebcf95" stroke-width="0.95"/>
<circle cx="299.36" cy="495.40" r="2.05" fill="none" stroke="#ebcf95" stroke-width="0.95"/>
<circle cx="304.59" cy="496.45" r="2.05" fill="none" stroke="#ebcf95" stroke-width="0.95"/>
<circle cx="335.95" cy="444.60" r="2.05" fill="none" stroke="#ebcf95" stroke-width="0.95"/>
<circle cx="338.04" cy="469.27" r="2.05" fill="none" stroke="#ebcf95" stroke-width="0.95"/>
<circle cx="333.86" cy="473.03" r="2.05" fill="none" stroke="#ebcf95" stroke-width="0.95"/>
<circle cx="333.86" cy="482.86" r="2.05" fill="none" stroke="#ebcf95" stroke-width="0.95"/>
<circle cx="338.04" cy="483.91" r="2.05" fill="none" stroke="#ebcf95" stroke-width="0.95"/>
<circle cx="336.99" cy="490.18" r="2.05" fill="none" stroke="#ebcf95" stroke-width="0.95"/>
<circle cx="326.54" cy="502.72" r="2.05" fill="none" stroke="#ebcf95" stroke-width="0.95"/>
<circle cx="330.72" cy="502.72" r="2.05" fill="none" stroke="#ebcf95" stroke-width="0.95"/>
<circle cx="336.99" cy="503.77" r="2.05" fill="none" stroke="#ebcf95" stroke-width="0.95"/>
<circle cx="341.17" cy="502.72" r="2.05" fill="none" stroke="#ebcf95" stroke-width="0.95"/>
<circle cx="345.36" cy="502.30" r="2.05" fill="none" stroke="#ebcf95" stroke-width="0.95"/>
<circle cx="329.67" cy="506.90" r="2.05" fill="none" stroke="#ebcf95" stroke-width="0.95"/>
<circle cx="334.90" cy="506.49" r="2.05" fill="none" stroke="#ebcf95" stroke-width="0.95"/>
<circle cx="340.13" cy="507.32" r="2.05" fill="none" stroke="#ebcf95" stroke-width="0.95"/>
<circle cx="328.63" cy="512.13" r="2.05" fill="none" stroke="#ebcf95" stroke-width="0.95"/>
<circle cx="332.81" cy="512.13" r="2.05" fill="none" stroke="#ebcf95" stroke-width="0.95"/>
<circle cx="339.08" cy="513.18" r="2.05" fill="none" stroke="#ebcf95" stroke-width="0.95"/>
<circle cx="342.22" cy="512.13" r="2.05" fill="none" stroke="#ebcf95" stroke-width="0.95"/>
<circle cx="330.72" cy="516.31" r="2.05" fill="none" stroke="#ebcf95" stroke-width="0.95"/>
<circle cx="336.99" cy="516.94" r="2.05" fill="none" stroke="#ebcf95" stroke-width="0.95"/>
<circle cx="332.81" cy="498.54" r="2.05" fill="none" stroke="#ebcf95" stroke-width="0.95"/>
<line x1="254.90" y1="501.30" x2="277.90" y2="501.30" stroke="#000" stroke-width="2.3"/>
<line x1="266.40" y1="498.30" x2="266.40" y2="504.30" stroke="#7a7a7a" stroke-width="1.3"/>
<line x1="289.20" y1="494.00" x2="312.20" y2="494.00" stroke="#000" stroke-width="2.3"/>
<line x1="300.70" y1="491.00" x2="300.70" y2="497.00" stroke="#7a7a7a" stroke-width="1.3"/>
<line x1="323.50" y1="496.90" x2="346.50" y2="496.90" stroke="#000" stroke-width="2.3"/>
<line x1="335.00" y1="493.40" x2="335.00" y2="500.40" stroke="#7a7a7a" stroke-width="1.3"/>
<text x="269.40" y="568.20" font-size="9.7" font-weight="bold" text-anchor="middle" fill="#000" stroke="#000" stroke-width="0.22">24</text>
<text x="303.30" y="568.20" font-size="9.7" font-weight="bold" text-anchor="middle" fill="#000" stroke="#000" stroke-width="0.22">26</text>
<text x="337.40" y="568.20" font-size="9.7" font-weight="bold" text-anchor="middle" fill="#000" stroke="#000" stroke-width="0.22">21</text>
<line x1="415.50" y1="439.70" x2="415.50" y2="554.80" stroke="#1a1a1a" stroke-width="1.0"/>
<line x1="413.30" y1="440.50" x2="416.00" y2="440.50" stroke="#1a1a1a" stroke-width="1.0"/>
<text x="412.80" y="443.50" font-size="9.3" font-weight="bold" text-anchor="end" fill="#000" stroke="#000" stroke-width="0.22">600</text>
<line x1="413.30" y1="497.50" x2="416.00" y2="497.50" stroke="#1a1a1a" stroke-width="1.0"/>
<text x="412.80" y="500.55" font-size="9.3" font-weight="bold" text-anchor="end" fill="#000" stroke="#000" stroke-width="0.22">300</text>
<line x1="413.30" y1="554.50" x2="416.00" y2="554.50" stroke="#1a1a1a" stroke-width="1.0"/>
<text x="412.80" y="557.60" font-size="9.3" font-weight="bold" text-anchor="end" fill="#000" stroke="#000" stroke-width="0.22">0</text>
<text x="391.70" y="496.50" font-size="9.81" font-weight="bold" text-anchor="middle" fill="#000" stroke="#000" stroke-width="0.22" transform="rotate(-90 391.7 496.5)">Threshold current (pA)</text>
<circle cx="443.50" cy="459.22" r="2.05" fill="none" stroke="#ebcf95" stroke-width="0.95"/>
<circle cx="443.50" cy="478.23" r="2.05" fill="none" stroke="#ebcf95" stroke-width="0.95"/>
<circle cx="443.50" cy="487.74" r="2.05" fill="none" stroke="#ebcf95" stroke-width="0.95"/>
<circle cx="440.80" cy="497.25" r="2.05" fill="none" stroke="#ebcf95" stroke-width="0.95"/>
<circle cx="443.50" cy="497.25" r="2.05" fill="none" stroke="#ebcf95" stroke-width="0.95"/>
<circle cx="446.20" cy="497.25" r="2.05" fill="none" stroke="#ebcf95" stroke-width="0.95"/>
<circle cx="438.60" cy="506.76" r="2.05" fill="none" stroke="#ebcf95" stroke-width="0.95"/>
<circle cx="441.12" cy="506.76" r="2.05" fill="none" stroke="#ebcf95" stroke-width="0.95"/>
<circle cx="443.65" cy="506.76" r="2.05" fill="none" stroke="#ebcf95" stroke-width="0.95"/>
<circle cx="446.18" cy="506.76" r="2.05" fill="none" stroke="#ebcf95" stroke-width="0.95"/>
<circle cx="448.70" cy="506.76" r="2.05" fill="none" stroke="#ebcf95" stroke-width="0.95"/>
<circle cx="437.60" cy="516.27" r="2.05" fill="none" stroke="#ebcf95" stroke-width="0.95"/>
<circle cx="440.62" cy="516.27" r="2.05" fill="none" stroke="#ebcf95" stroke-width="0.95"/>
<circle cx="443.65" cy="516.27" r="2.05" fill="none" stroke="#ebcf95" stroke-width="0.95"/>
<circle cx="446.68" cy="516.27" r="2.05" fill="none" stroke="#ebcf95" stroke-width="0.95"/>
<circle cx="449.70" cy="516.27" r="2.05" fill="none" stroke="#ebcf95" stroke-width="0.95"/>
<circle cx="434.70" cy="525.77" r="2.05" fill="none" stroke="#ebcf95" stroke-width="0.95"/>
<circle cx="437.24" cy="525.77" r="2.05" fill="none" stroke="#ebcf95" stroke-width="0.95"/>
<circle cx="439.79" cy="525.77" r="2.05" fill="none" stroke="#ebcf95" stroke-width="0.95"/>
<circle cx="442.33" cy="525.77" r="2.05" fill="none" stroke="#ebcf95" stroke-width="0.95"/>
<circle cx="444.87" cy="525.77" r="2.05" fill="none" stroke="#ebcf95" stroke-width="0.95"/>
<circle cx="447.41" cy="525.77" r="2.05" fill="none" stroke="#ebcf95" stroke-width="0.95"/>
<circle cx="449.96" cy="525.77" r="2.05" fill="none" stroke="#ebcf95" stroke-width="0.95"/>
<circle cx="452.50" cy="525.77" r="2.05" fill="none" stroke="#ebcf95" stroke-width="0.95"/>
<circle cx="443.30" cy="535.28" r="2.05" fill="none" stroke="#ebcf95" stroke-width="0.95"/>
<circle cx="443.90" cy="535.28" r="2.05" fill="none" stroke="#ebcf95" stroke-width="0.95"/>
<circle cx="474.80" cy="516.27" r="2.05" fill="none" stroke="#ebcf95" stroke-width="0.95"/>
<circle cx="476.60" cy="516.27" r="2.05" fill="none" stroke="#ebcf95" stroke-width="0.95"/>
<circle cx="478.40" cy="516.27" r="2.05" fill="none" stroke="#ebcf95" stroke-width="0.95"/>
<circle cx="480.20" cy="516.27" r="2.05" fill="none" stroke="#ebcf95" stroke-width="0.95"/>
<circle cx="470.10" cy="525.77" r="2.05" fill="none" stroke="#ebcf95" stroke-width="0.95"/>
<circle cx="472.21" cy="525.77" r="2.05" fill="none" stroke="#ebcf95" stroke-width="0.95"/>
<circle cx="474.33" cy="525.77" r="2.05" fill="none" stroke="#ebcf95" stroke-width="0.95"/>
<circle cx="476.44" cy="525.77" r="2.05" fill="none" stroke="#ebcf95" stroke-width="0.95"/>
<circle cx="478.56" cy="525.77" r="2.05" fill="none" stroke="#ebcf95" stroke-width="0.95"/>
<circle cx="480.67" cy="525.77" r="2.05" fill="none" stroke="#ebcf95" stroke-width="0.95"/>
<circle cx="482.79" cy="525.77" r="2.05" fill="none" stroke="#ebcf95" stroke-width="0.95"/>
<circle cx="484.90" cy="525.77" r="2.05" fill="none" stroke="#ebcf95" stroke-width="0.95"/>
<circle cx="477.50" cy="525.77" r="2.05" fill="none" stroke="#ebcf95" stroke-width="0.95"/>
<circle cx="468.10" cy="535.28" r="2.05" fill="none" stroke="#ebcf95" stroke-width="0.95"/>
<circle cx="470.45" cy="535.28" r="2.05" fill="none" stroke="#ebcf95" stroke-width="0.95"/>
<circle cx="472.80" cy="535.28" r="2.05" fill="none" stroke="#ebcf95" stroke-width="0.95"/>
<circle cx="475.15" cy="535.28" r="2.05" fill="none" stroke="#ebcf95" stroke-width="0.95"/>
<circle cx="477.50" cy="535.28" r="2.05" fill="none" stroke="#ebcf95" stroke-width="0.95"/>
<circle cx="479.85" cy="535.28" r="2.05" fill="none" stroke="#ebcf95" stroke-width="0.95"/>
<circle cx="482.20" cy="535.28" r="2.05" fill="none" stroke="#ebcf95" stroke-width="0.95"/>
<circle cx="484.55" cy="535.28" r="2.05" fill="none" stroke="#ebcf95" stroke-width="0.95"/>
<circle cx="486.90" cy="535.28" r="2.05" fill="none" stroke="#ebcf95" stroke-width="0.95"/>
<circle cx="469.60" cy="535.28" r="2.05" fill="none" stroke="#ebcf95" stroke-width="0.95"/>
<circle cx="477.50" cy="535.28" r="2.05" fill="none" stroke="#ebcf95" stroke-width="0.95"/>
<circle cx="485.40" cy="535.28" r="2.05" fill="none" stroke="#ebcf95" stroke-width="0.95"/>
<circle cx="477.90" cy="544.79" r="2.05" fill="none" stroke="#ebcf95" stroke-width="0.95"/>
<circle cx="510.80" cy="516.27" r="2.05" fill="none" stroke="#ebcf95" stroke-width="0.95"/>
<circle cx="512.30" cy="516.27" r="2.05" fill="none" stroke="#ebcf95" stroke-width="0.95"/>
<circle cx="505.10" cy="525.77" r="2.05" fill="none" stroke="#ebcf95" stroke-width="0.95"/>
<circle cx="507.27" cy="525.77" r="2.05" fill="none" stroke="#ebcf95" stroke-width="0.95"/>
<circle cx="509.43" cy="525.77" r="2.05" fill="none" stroke="#ebcf95" stroke-width="0.95"/>
<circle cx="511.60" cy="525.77" r="2.05" fill="none" stroke="#ebcf95" stroke-width="0.95"/>
<circle cx="513.77" cy="525.77" r="2.05" fill="none" stroke="#ebcf95" stroke-width="0.95"/>
<circle cx="515.93" cy="525.77" r="2.05" fill="none" stroke="#ebcf95" stroke-width="0.95"/>
<circle cx="518.10" cy="525.77" r="2.05" fill="none" stroke="#ebcf95" stroke-width="0.95"/>
<circle cx="502.80" cy="535.28" r="2.05" fill="none" stroke="#ebcf95" stroke-width="0.95"/>
<circle cx="504.81" cy="535.28" r="2.05" fill="none" stroke="#ebcf95" stroke-width="0.95"/>
<circle cx="506.82" cy="535.28" r="2.05" fill="none" stroke="#ebcf95" stroke-width="0.95"/>
<circle cx="508.83" cy="535.28" r="2.05" fill="none" stroke="#ebcf95" stroke-width="0.95"/>
<circle cx="510.84" cy="535.28" r="2.05" fill="none" stroke="#ebcf95" stroke-width="0.95"/>
<circle cx="512.86" cy="535.28" r="2.05" fill="none" stroke="#ebcf95" stroke-width="0.95"/>
<circle cx="514.87" cy="535.28" r="2.05" fill="none" stroke="#ebcf95" stroke-width="0.95"/>
<circle cx="516.88" cy="535.28" r="2.05" fill="none" stroke="#ebcf95" stroke-width="0.95"/>
<circle cx="518.89" cy="535.28" r="2.05" fill="none" stroke="#ebcf95" stroke-width="0.95"/>
<circle cx="520.90" cy="535.28" r="2.05" fill="none" stroke="#ebcf95" stroke-width="0.95"/>
<circle cx="510.80" cy="544.79" r="2.05" fill="none" stroke="#ebcf95" stroke-width="0.95"/>
<circle cx="512.30" cy="544.79" r="2.05" fill="none" stroke="#ebcf95" stroke-width="0.95"/>
<line x1="431.60" y1="512.00" x2="454.60" y2="512.00" stroke="#000" stroke-width="2.3"/>
<line x1="443.10" y1="509.00" x2="443.10" y2="515.00" stroke="#7a7a7a" stroke-width="1.3"/>
<line x1="465.40" y1="528.80" x2="488.40" y2="528.80" stroke="#000" stroke-width="2.3"/>
<line x1="476.90" y1="526.80" x2="476.90" y2="530.80" stroke="#7a7a7a" stroke-width="1.3"/>
<line x1="500.10" y1="531.70" x2="523.10" y2="531.70" stroke="#000" stroke-width="2.3"/>
<line x1="511.60" y1="529.70" x2="511.60" y2="533.70" stroke="#7a7a7a" stroke-width="1.3"/>
<text x="444.40" y="568.20" font-size="9.7" font-weight="bold" text-anchor="middle" fill="#000" stroke="#000" stroke-width="0.22">27</text>
<text x="478.80" y="568.20" font-size="9.7" font-weight="bold" text-anchor="middle" fill="#000" stroke="#000" stroke-width="0.22">26</text>
<text x="512.70" y="568.20" font-size="9.7" font-weight="bold" text-anchor="middle" fill="#000" stroke="#000" stroke-width="0.22">21</text>
<path d="M475.00,500.10L475.00,505.10M472.83,501.35L477.17,503.85M477.17,501.35L472.83,503.85" stroke="#111" stroke-width="1.5" fill="none"/>
<path d="M481.60,500.10L481.60,505.10M479.43,501.35L483.77,503.85M483.77,501.35L479.43,503.85" stroke="#111" stroke-width="1.5" fill="none"/>
<path d="M508.60,502.30L508.60,507.30M506.43,503.55L510.77,506.05M510.77,503.55L506.43,506.05" stroke="#111" stroke-width="1.5" fill="none"/>
<path d="M515.00,502.30L515.00,507.30M512.83,503.55L517.17,506.05M517.17,503.55L512.83,506.05" stroke="#111" stroke-width="1.5" fill="none"/>
<text x="90.00" y="579.40" font-size="9.7" font-weight="bold" text-anchor="middle" fill="#000" stroke="#000" stroke-width="0.22">Saline</text>
<text x="125.30" y="579.40" font-size="9.4" font-weight="bold" text-anchor="middle" fill="#000" stroke="#000" stroke-width="0.22">Aβ<tspan font-size="6.5" dy="1.8">1-42</tspan></text>
<text x="159.80" y="579.40" font-size="9.4" font-weight="bold" text-anchor="middle" fill="#000" stroke="#000" stroke-width="0.22">Aβ<tspan font-size="6.5" dy="1.8">42-1</tspan></text>
<line x1="73.80" y1="585.00" x2="173.70" y2="585.00" stroke="#8a8a8a" stroke-width="1.3"/>
<text x="121.80" y="597.80" font-size="10.4" font-weight="bold" text-anchor="middle" fill="#000" stroke="#000" stroke-width="0.22">+ IA trained</text>
<text x="268.50" y="579.40" font-size="9.7" font-weight="bold" text-anchor="middle" fill="#000" stroke="#000" stroke-width="0.22">Saline</text>
<text x="303.50" y="579.40" font-size="9.4" font-weight="bold" text-anchor="middle" fill="#000" stroke="#000" stroke-width="0.22">Aβ<tspan font-size="6.5" dy="1.8">1-42</tspan></text>
<text x="338.10" y="579.40" font-size="9.4" font-weight="bold" text-anchor="middle" fill="#000" stroke="#000" stroke-width="0.22">Aβ<tspan font-size="6.5" dy="1.8">42-1</tspan></text>
<line x1="252.30" y1="585.00" x2="351.60" y2="585.00" stroke="#8a8a8a" stroke-width="1.3"/>
<text x="300.20" y="597.80" font-size="10.4" font-weight="bold" text-anchor="middle" fill="#000" stroke="#000" stroke-width="0.22">+ IA trained</text>
<text x="444.00" y="579.40" font-size="9.7" font-weight="bold" text-anchor="middle" fill="#000" stroke="#000" stroke-width="0.22">Saline</text>
<text x="478.70" y="579.40" font-size="9.4" font-weight="bold" text-anchor="middle" fill="#000" stroke="#000" stroke-width="0.22">Aβ<tspan font-size="6.5" dy="1.8">1-42</tspan></text>
<text x="513.30" y="579.40" font-size="9.4" font-weight="bold" text-anchor="middle" fill="#000" stroke="#000" stroke-width="0.22">Aβ<tspan font-size="6.5" dy="1.8">42-1</tspan></text>
<line x1="428.00" y1="585.00" x2="525.60" y2="585.00" stroke="#8a8a8a" stroke-width="1.3"/>
<text x="478.50" y="597.80" font-size="10.4" font-weight="bold" text-anchor="middle" fill="#000" stroke="#000" stroke-width="0.22">+ IA trained</text>
</svg></body></html>
